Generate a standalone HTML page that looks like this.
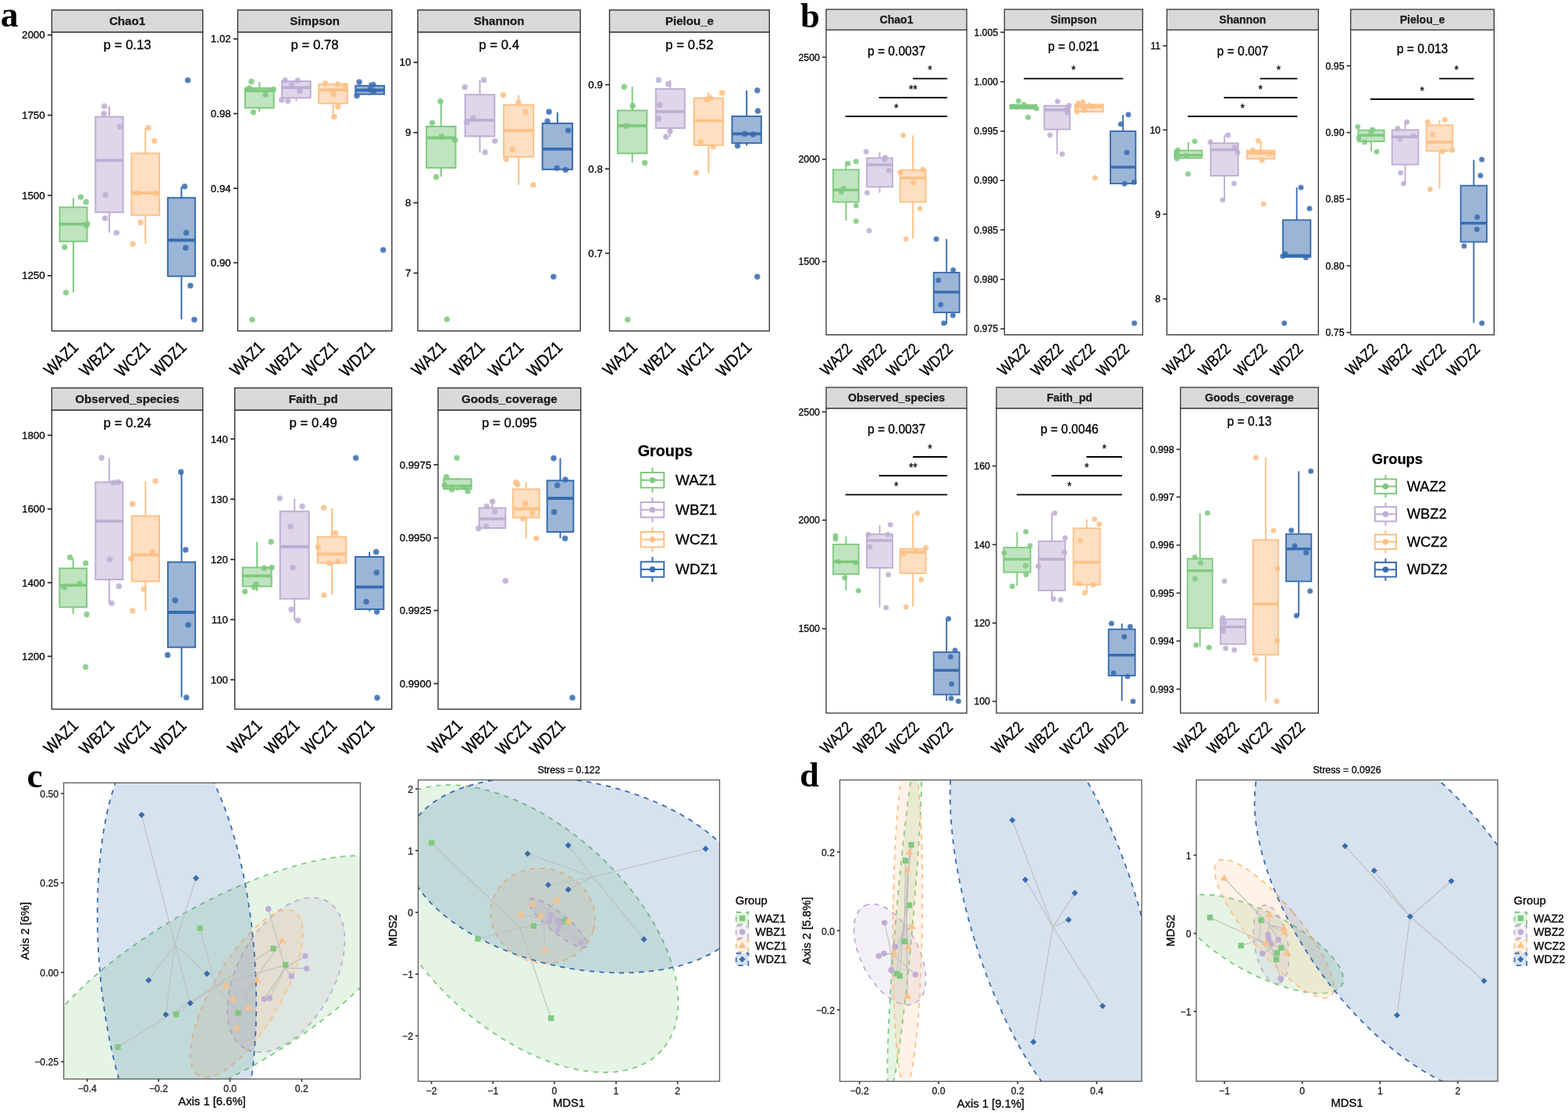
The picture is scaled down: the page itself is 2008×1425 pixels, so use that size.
<!DOCTYPE html>
<html lang="en">
<head>
<meta charset="utf-8">
<title>Alpha and beta diversity</title>
<style>
html,body{margin:0;padding:0;background:#fff;}
body{width:2008px;height:1425px;overflow:hidden;}
svg{display:block;}
text{white-space:pre;}
</style>
</head>
<body>
<svg width="2008" height="1425" viewBox="0 0 2008 1425" font-family='"Liberation Sans", "DejaVu Sans", sans-serif'>
<rect width="2008" height="1425" fill="#fff"/>
<g>
<rect x="66.35" y="41.09" width="193.32" height="382.59" fill="#fff" stroke="none"/>
<line x1="93.96" y1="253.26" x2="93.96" y2="265.39" stroke="#7FC97F" stroke-width="2"/>
<line x1="93.96" y1="309.17" x2="93.96" y2="374.51" stroke="#7FC97F" stroke-width="2"/>
<rect x="76.45" y="265.39" width="35.03" height="43.78" fill="#7FC97F" fill-opacity="0.5" stroke="#7FC97F" stroke-width="2"/>
<line x1="76.45" y1="286.94" x2="111.48" y2="286.94" stroke="#7FC97F" stroke-width="3.8"/>
<line x1="139.94" y1="136.06" x2="139.94" y2="149.53" stroke="#BEAED4" stroke-width="2"/>
<line x1="139.94" y1="271.79" x2="139.94" y2="297.72" stroke="#BEAED4" stroke-width="2"/>
<rect x="122.25" y="149.53" width="35.36" height="122.25" fill="#BEAED4" fill-opacity="0.5" stroke="#BEAED4" stroke-width="2"/>
<line x1="122.25" y1="205.44" x2="157.62" y2="205.44" stroke="#BEAED4" stroke-width="3.8"/>
<line x1="186.24" y1="163.68" x2="186.24" y2="196.35" stroke="#FDC086" stroke-width="2"/>
<line x1="186.24" y1="275.49" x2="186.24" y2="311.87" stroke="#FDC086" stroke-width="2"/>
<rect x="168.39" y="196.35" width="35.7" height="79.15" fill="#FDC086" fill-opacity="0.5" stroke="#FDC086" stroke-width="2"/>
<line x1="168.39" y1="247.2" x2="204.09" y2="247.2" stroke="#FDC086" stroke-width="3.8"/>
<line x1="232.38" y1="239.12" x2="232.38" y2="253.26" stroke="#386CB0" stroke-width="2"/>
<line x1="232.38" y1="353.63" x2="232.38" y2="408.86" stroke="#386CB0" stroke-width="2"/>
<rect x="214.87" y="253.26" width="35.03" height="100.36" fill="#386CB0" fill-opacity="0.5" stroke="#386CB0" stroke-width="2"/>
<line x1="214.87" y1="307.49" x2="249.9" y2="307.49" stroke="#386CB0" stroke-width="3.8"/>
<circle cx="103.39" cy="252.25" r="3.8" fill="#7FC97F" fill-opacity="0.8"/><circle cx="103.39" cy="252.25" r="2.2" fill="#7FC97F" fill-opacity="0.55"/>
<circle cx="110.13" cy="258.65" r="3.8" fill="#7FC97F" fill-opacity="0.8"/><circle cx="110.13" cy="258.65" r="2.2" fill="#7FC97F" fill-opacity="0.55"/>
<circle cx="111.81" cy="286.61" r="3.8" fill="#7FC97F" fill-opacity="0.8"/><circle cx="111.81" cy="286.61" r="2.2" fill="#7FC97F" fill-opacity="0.55"/>
<circle cx="110.47" cy="288.63" r="3.8" fill="#7FC97F" fill-opacity="0.8"/><circle cx="110.47" cy="288.63" r="2.2" fill="#7FC97F" fill-opacity="0.55"/>
<circle cx="82.85" cy="316.58" r="3.8" fill="#7FC97F" fill-opacity="0.8"/><circle cx="82.85" cy="316.58" r="2.2" fill="#7FC97F" fill-opacity="0.55"/>
<circle cx="84.53" cy="374.51" r="3.8" fill="#7FC97F" fill-opacity="0.8"/><circle cx="84.53" cy="374.51" r="2.2" fill="#7FC97F" fill-opacity="0.55"/>
<circle cx="133.7" cy="136.06" r="3.8" fill="#BEAED4" fill-opacity="0.8"/><circle cx="133.7" cy="136.06" r="2.2" fill="#BEAED4" fill-opacity="0.55"/>
<circle cx="133.03" cy="145.49" r="3.8" fill="#BEAED4" fill-opacity="0.8"/><circle cx="133.03" cy="145.49" r="2.2" fill="#BEAED4" fill-opacity="0.55"/>
<circle cx="153.24" cy="162.33" r="3.8" fill="#BEAED4" fill-opacity="0.8"/><circle cx="153.24" cy="162.33" r="2.2" fill="#BEAED4" fill-opacity="0.55"/>
<circle cx="135.05" cy="249.56" r="3.8" fill="#BEAED4" fill-opacity="0.8"/><circle cx="135.05" cy="249.56" r="2.2" fill="#BEAED4" fill-opacity="0.55"/>
<circle cx="134.38" cy="279.53" r="3.8" fill="#BEAED4" fill-opacity="0.8"/><circle cx="134.38" cy="279.53" r="2.2" fill="#BEAED4" fill-opacity="0.55"/>
<circle cx="149.2" cy="298.06" r="3.8" fill="#BEAED4" fill-opacity="0.8"/><circle cx="149.2" cy="298.06" r="2.2" fill="#BEAED4" fill-opacity="0.55"/>
<circle cx="189.95" cy="163.68" r="3.8" fill="#FDC086" fill-opacity="0.8"/><circle cx="189.95" cy="163.68" r="2.2" fill="#FDC086" fill-opacity="0.55"/>
<circle cx="197.69" cy="180.18" r="3.8" fill="#FDC086" fill-opacity="0.8"/><circle cx="197.69" cy="180.18" r="2.2" fill="#FDC086" fill-opacity="0.55"/>
<circle cx="175.47" cy="247.2" r="3.8" fill="#FDC086" fill-opacity="0.8"/><circle cx="175.47" cy="247.2" r="2.2" fill="#FDC086" fill-opacity="0.55"/>
<circle cx="199.04" cy="247.54" r="3.8" fill="#FDC086" fill-opacity="0.8"/><circle cx="199.04" cy="247.54" r="2.2" fill="#FDC086" fill-opacity="0.55"/>
<circle cx="180.18" cy="284.92" r="3.8" fill="#FDC086" fill-opacity="0.8"/><circle cx="180.18" cy="284.92" r="2.2" fill="#FDC086" fill-opacity="0.55"/>
<circle cx="170.08" cy="312.2" r="3.8" fill="#FDC086" fill-opacity="0.8"/><circle cx="170.08" cy="312.2" r="2.2" fill="#FDC086" fill-opacity="0.55"/>
<circle cx="240.47" cy="102.72" r="3.8" fill="#386CB0" fill-opacity="0.8"/><circle cx="240.47" cy="102.72" r="2.2" fill="#386CB0" fill-opacity="0.55"/>
<circle cx="236.42" cy="238.78" r="3.8" fill="#386CB0" fill-opacity="0.8"/><circle cx="236.42" cy="238.78" r="2.2" fill="#386CB0" fill-opacity="0.55"/>
<circle cx="238.45" cy="298.06" r="3.8" fill="#386CB0" fill-opacity="0.8"/><circle cx="238.45" cy="298.06" r="2.2" fill="#386CB0" fill-opacity="0.55"/>
<circle cx="237.77" cy="317.25" r="3.8" fill="#386CB0" fill-opacity="0.8"/><circle cx="237.77" cy="317.25" r="2.2" fill="#386CB0" fill-opacity="0.55"/>
<circle cx="243.83" cy="365.75" r="3.8" fill="#386CB0" fill-opacity="0.8"/><circle cx="243.83" cy="365.75" r="2.2" fill="#386CB0" fill-opacity="0.55"/>
<circle cx="248.89" cy="409.2" r="3.8" fill="#386CB0" fill-opacity="0.8"/><circle cx="248.89" cy="409.2" r="2.2" fill="#386CB0" fill-opacity="0.55"/>
<text x="163.01" y="63.32" font-size="16.8" stroke="#000" stroke-width="0.3" text-anchor="middle">p = 0.13</text>
<rect x="66.35" y="41.09" width="193.32" height="382.59" fill="none" stroke="#333" stroke-width="1.4"/>
<rect x="66.35" y="12.8" width="193.32" height="28.29" fill="#D9D9D9" stroke="#333" stroke-width="1.4"/>
<text x="163.01" y="32.24" font-size="15.1" stroke="#1A1A1A" stroke-width="0.25" text-anchor="middle" font-weight="bold" fill="#1A1A1A">Chao1</text>
<line x1="60.85" y1="44.79" x2="66.35" y2="44.79" stroke="#2A2A2A" stroke-width="1.7"/>
<text x="57.65" y="49.29" font-size="13.3" stroke="#000" stroke-width="0.3" text-anchor="end">2000</text>
<line x1="60.85" y1="147.51" x2="66.35" y2="147.51" stroke="#2A2A2A" stroke-width="1.7"/>
<text x="57.65" y="152.01" font-size="13.3" stroke="#000" stroke-width="0.3" text-anchor="end">1750</text>
<line x1="60.85" y1="250.23" x2="66.35" y2="250.23" stroke="#2A2A2A" stroke-width="1.7"/>
<text x="57.65" y="254.73" font-size="13.3" stroke="#000" stroke-width="0.3" text-anchor="end">1500</text>
<line x1="60.85" y1="352.95" x2="66.35" y2="352.95" stroke="#2A2A2A" stroke-width="1.7"/>
<text x="57.65" y="357.45" font-size="13.3" stroke="#000" stroke-width="0.3" text-anchor="end">1250</text>
<text transform="translate(101.66 446.08) rotate(-45) scale(1 1.17)" font-size="18.8" stroke="#000" stroke-width="0.3" text-anchor="end">WAZ1</text>
<text transform="translate(147.64 446.08) rotate(-45) scale(1 1.17)" font-size="18.8" stroke="#000" stroke-width="0.3" text-anchor="end">WBZ1</text>
<text transform="translate(193.94 446.08) rotate(-45) scale(1 1.17)" font-size="18.8" stroke="#000" stroke-width="0.3" text-anchor="end">WCZ1</text>
<text transform="translate(240.08 446.08) rotate(-45) scale(1 1.17)" font-size="18.8" stroke="#000" stroke-width="0.3" text-anchor="end">WDZ1</text>
</g>
<g>
<rect x="304.46" y="41.09" width="197.36" height="382.59" fill="#fff" stroke="none"/>
<line x1="332.24" y1="105.08" x2="332.24" y2="112.82" stroke="#7FC97F" stroke-width="2"/>
<line x1="332.24" y1="138.08" x2="332.24" y2="143.13" stroke="#7FC97F" stroke-width="2"/>
<rect x="313.89" y="112.82" width="36.71" height="25.26" fill="#7FC97F" fill-opacity="0.5" stroke="#7FC97F" stroke-width="2"/>
<line x1="313.89" y1="116.19" x2="350.6" y2="116.19" stroke="#7FC97F" stroke-width="3.8"/>
<line x1="379.39" y1="125.28" x2="379.39" y2="129.33" stroke="#BEAED4" stroke-width="2"/>
<rect x="361.04" y="104.07" width="36.71" height="21.22" fill="#BEAED4" fill-opacity="0.5" stroke="#BEAED4" stroke-width="2"/>
<line x1="361.04" y1="112.15" x2="397.75" y2="112.15" stroke="#BEAED4" stroke-width="3.8"/>
<line x1="426.54" y1="132.36" x2="426.54" y2="149.87" stroke="#FDC086" stroke-width="2"/>
<rect x="408.19" y="107.77" width="36.71" height="24.59" fill="#FDC086" fill-opacity="0.5" stroke="#FDC086" stroke-width="2"/>
<line x1="408.19" y1="115.18" x2="444.9" y2="115.18" stroke="#FDC086" stroke-width="3.8"/>
<line x1="473.69" y1="105.75" x2="473.69" y2="109.79" stroke="#386CB0" stroke-width="2"/>
<line x1="473.69" y1="120.57" x2="473.69" y2="121.92" stroke="#386CB0" stroke-width="2"/>
<rect x="455.34" y="109.79" width="36.71" height="10.78" fill="#386CB0" fill-opacity="0.5" stroke="#386CB0" stroke-width="2"/>
<line x1="455.34" y1="115.52" x2="492.05" y2="115.52" stroke="#386CB0" stroke-width="3.8"/>
<circle cx="321.97" cy="104.4" r="3.8" fill="#7FC97F" fill-opacity="0.8"/><circle cx="321.97" cy="104.4" r="2.2" fill="#7FC97F" fill-opacity="0.55"/>
<circle cx="319.27" cy="112.82" r="3.8" fill="#7FC97F" fill-opacity="0.8"/><circle cx="319.27" cy="112.82" r="2.2" fill="#7FC97F" fill-opacity="0.55"/>
<circle cx="350.26" cy="114.51" r="3.8" fill="#7FC97F" fill-opacity="0.8"/><circle cx="350.26" cy="114.51" r="2.2" fill="#7FC97F" fill-opacity="0.55"/>
<circle cx="339.82" cy="121.24" r="3.8" fill="#7FC97F" fill-opacity="0.8"/><circle cx="339.82" cy="121.24" r="2.2" fill="#7FC97F" fill-opacity="0.55"/>
<circle cx="324.33" cy="143.81" r="3.8" fill="#7FC97F" fill-opacity="0.8"/><circle cx="324.33" cy="143.81" r="2.2" fill="#7FC97F" fill-opacity="0.55"/>
<circle cx="322.98" cy="409.2" r="3.8" fill="#7FC97F" fill-opacity="0.8"/><circle cx="322.98" cy="409.2" r="2.2" fill="#7FC97F" fill-opacity="0.55"/>
<circle cx="365.08" cy="102.72" r="3.8" fill="#BEAED4" fill-opacity="0.8"/><circle cx="365.08" cy="102.72" r="2.2" fill="#BEAED4" fill-opacity="0.55"/>
<circle cx="381.24" cy="103.06" r="3.8" fill="#BEAED4" fill-opacity="0.8"/><circle cx="381.24" cy="103.06" r="2.2" fill="#BEAED4" fill-opacity="0.55"/>
<circle cx="373.83" cy="108.45" r="3.8" fill="#BEAED4" fill-opacity="0.8"/><circle cx="373.83" cy="108.45" r="2.2" fill="#BEAED4" fill-opacity="0.55"/>
<circle cx="383.94" cy="116.53" r="3.8" fill="#BEAED4" fill-opacity="0.8"/><circle cx="383.94" cy="116.53" r="2.2" fill="#BEAED4" fill-opacity="0.55"/>
<circle cx="360.7" cy="127.98" r="3.8" fill="#BEAED4" fill-opacity="0.8"/><circle cx="360.7" cy="127.98" r="2.2" fill="#BEAED4" fill-opacity="0.55"/>
<circle cx="368.78" cy="129.33" r="3.8" fill="#BEAED4" fill-opacity="0.8"/><circle cx="368.78" cy="129.33" r="2.2" fill="#BEAED4" fill-opacity="0.55"/>
<circle cx="416.61" cy="106.76" r="3.8" fill="#FDC086" fill-opacity="0.8"/><circle cx="416.61" cy="106.76" r="2.2" fill="#FDC086" fill-opacity="0.55"/>
<circle cx="432.77" cy="107.77" r="3.8" fill="#FDC086" fill-opacity="0.8"/><circle cx="432.77" cy="107.77" r="2.2" fill="#FDC086" fill-opacity="0.55"/>
<circle cx="441.53" cy="109.46" r="3.8" fill="#FDC086" fill-opacity="0.8"/><circle cx="441.53" cy="109.46" r="2.2" fill="#FDC086" fill-opacity="0.55"/>
<circle cx="427.05" cy="120.57" r="3.8" fill="#FDC086" fill-opacity="0.8"/><circle cx="427.05" cy="120.57" r="2.2" fill="#FDC086" fill-opacity="0.55"/>
<circle cx="432.77" cy="136.4" r="3.8" fill="#FDC086" fill-opacity="0.8"/><circle cx="432.77" cy="136.4" r="2.2" fill="#FDC086" fill-opacity="0.55"/>
<circle cx="428.06" cy="149.53" r="3.8" fill="#FDC086" fill-opacity="0.8"/><circle cx="428.06" cy="149.53" r="2.2" fill="#FDC086" fill-opacity="0.55"/>
<circle cx="460.05" cy="105.08" r="3.8" fill="#386CB0" fill-opacity="0.8"/><circle cx="460.05" cy="105.08" r="2.2" fill="#386CB0" fill-opacity="0.55"/>
<circle cx="477.9" cy="108.45" r="3.8" fill="#386CB0" fill-opacity="0.8"/><circle cx="477.9" cy="108.45" r="2.2" fill="#386CB0" fill-opacity="0.55"/>
<circle cx="478.58" cy="116.87" r="3.8" fill="#386CB0" fill-opacity="0.8"/><circle cx="478.58" cy="116.87" r="2.2" fill="#386CB0" fill-opacity="0.55"/>
<circle cx="457.02" cy="122.59" r="3.8" fill="#386CB0" fill-opacity="0.8"/><circle cx="457.02" cy="122.59" r="2.2" fill="#386CB0" fill-opacity="0.55"/>
<circle cx="473.86" cy="114.51" r="3.8" fill="#386CB0" fill-opacity="0.8"/><circle cx="473.86" cy="114.51" r="2.2" fill="#386CB0" fill-opacity="0.55"/>
<circle cx="490.7" cy="319.95" r="3.8" fill="#386CB0" fill-opacity="0.8"/><circle cx="490.7" cy="319.95" r="2.2" fill="#386CB0" fill-opacity="0.55"/>
<text x="403.13" y="63.32" font-size="16.8" stroke="#000" stroke-width="0.3" text-anchor="middle">p = 0.78</text>
<rect x="304.46" y="41.09" width="197.36" height="382.59" fill="none" stroke="#333" stroke-width="1.4"/>
<rect x="304.46" y="12.8" width="197.36" height="28.29" fill="#D9D9D9" stroke="#333" stroke-width="1.4"/>
<text x="403.13" y="32.24" font-size="15.1" stroke="#1A1A1A" stroke-width="0.25" text-anchor="middle" font-weight="bold" fill="#1A1A1A">Simpson</text>
<line x1="298.96" y1="49.84" x2="304.46" y2="49.84" stroke="#2A2A2A" stroke-width="1.7"/>
<text x="295.76" y="54.34" font-size="13.3" stroke="#000" stroke-width="0.3" text-anchor="end">1.02</text>
<line x1="298.96" y1="145.49" x2="304.46" y2="145.49" stroke="#2A2A2A" stroke-width="1.7"/>
<text x="295.76" y="149.99" font-size="13.3" stroke="#000" stroke-width="0.3" text-anchor="end">0.98</text>
<line x1="298.96" y1="241.14" x2="304.46" y2="241.14" stroke="#2A2A2A" stroke-width="1.7"/>
<text x="295.76" y="245.64" font-size="13.3" stroke="#000" stroke-width="0.3" text-anchor="end">0.94</text>
<line x1="298.96" y1="336.45" x2="304.46" y2="336.45" stroke="#2A2A2A" stroke-width="1.7"/>
<text x="295.76" y="340.95" font-size="13.3" stroke="#000" stroke-width="0.3" text-anchor="end">0.90</text>
<text transform="translate(339.94 446.08) rotate(-45) scale(1 1.17)" font-size="18.8" stroke="#000" stroke-width="0.3" text-anchor="end">WAZ1</text>
<text transform="translate(387.09 446.08) rotate(-45) scale(1 1.17)" font-size="18.8" stroke="#000" stroke-width="0.3" text-anchor="end">WBZ1</text>
<text transform="translate(434.24 446.08) rotate(-45) scale(1 1.17)" font-size="18.8" stroke="#000" stroke-width="0.3" text-anchor="end">WCZ1</text>
<text transform="translate(481.39 446.08) rotate(-45) scale(1 1.17)" font-size="18.8" stroke="#000" stroke-width="0.3" text-anchor="end">WDZ1</text>
</g>
<g>
<rect x="535.03" y="41.09" width="208.13" height="382.59" fill="#fff" stroke="none"/>
<line x1="564.83" y1="129.66" x2="564.83" y2="161.99" stroke="#7FC97F" stroke-width="2"/>
<line x1="564.83" y1="214.87" x2="564.83" y2="226.32" stroke="#7FC97F" stroke-width="2"/>
<rect x="546.14" y="161.99" width="37.38" height="52.88" fill="#7FC97F" fill-opacity="0.5" stroke="#7FC97F" stroke-width="2"/>
<line x1="546.14" y1="176.48" x2="583.52" y2="176.48" stroke="#7FC97F" stroke-width="3.8"/>
<line x1="614.51" y1="102.72" x2="614.51" y2="121.24" stroke="#BEAED4" stroke-width="2"/>
<line x1="614.51" y1="174.46" x2="614.51" y2="195.34" stroke="#BEAED4" stroke-width="2"/>
<rect x="595.65" y="121.24" width="37.72" height="53.21" fill="#BEAED4" fill-opacity="0.5" stroke="#BEAED4" stroke-width="2"/>
<line x1="595.65" y1="153.91" x2="633.37" y2="153.91" stroke="#BEAED4" stroke-width="3.8"/>
<line x1="664.18" y1="121.92" x2="664.18" y2="134.38" stroke="#FDC086" stroke-width="2"/>
<line x1="664.18" y1="200.73" x2="664.18" y2="236.76" stroke="#FDC086" stroke-width="2"/>
<rect x="645.16" y="134.38" width="38.06" height="66.35" fill="#FDC086" fill-opacity="0.5" stroke="#FDC086" stroke-width="2"/>
<line x1="645.16" y1="167.05" x2="683.21" y2="167.05" stroke="#FDC086" stroke-width="3.8"/>
<line x1="713.86" y1="143.81" x2="713.86" y2="157.95" stroke="#386CB0" stroke-width="2"/>
<rect x="694.66" y="157.95" width="38.39" height="58.94" fill="#386CB0" fill-opacity="0.5" stroke="#386CB0" stroke-width="2"/>
<line x1="694.66" y1="190.96" x2="733.06" y2="190.96" stroke="#386CB0" stroke-width="3.8"/>
<circle cx="563.99" cy="129.66" r="3.8" fill="#7FC97F" fill-opacity="0.8"/><circle cx="563.99" cy="129.66" r="2.2" fill="#7FC97F" fill-opacity="0.55"/>
<circle cx="553.55" cy="157.28" r="3.8" fill="#7FC97F" fill-opacity="0.8"/><circle cx="553.55" cy="157.28" r="2.2" fill="#7FC97F" fill-opacity="0.55"/>
<circle cx="565.34" cy="174.46" r="3.8" fill="#7FC97F" fill-opacity="0.8"/><circle cx="565.34" cy="174.46" r="2.2" fill="#7FC97F" fill-opacity="0.55"/>
<circle cx="582.85" cy="179.51" r="3.8" fill="#7FC97F" fill-opacity="0.8"/><circle cx="582.85" cy="179.51" r="2.2" fill="#7FC97F" fill-opacity="0.55"/>
<circle cx="558.6" cy="226.66" r="3.8" fill="#7FC97F" fill-opacity="0.8"/><circle cx="558.6" cy="226.66" r="2.2" fill="#7FC97F" fill-opacity="0.55"/>
<circle cx="572.41" cy="408.86" r="3.8" fill="#7FC97F" fill-opacity="0.8"/><circle cx="572.41" cy="408.86" r="2.2" fill="#7FC97F" fill-opacity="0.55"/>
<circle cx="619.56" cy="102.38" r="3.8" fill="#BEAED4" fill-opacity="0.8"/><circle cx="619.56" cy="102.38" r="2.2" fill="#BEAED4" fill-opacity="0.55"/>
<circle cx="595.31" cy="111.48" r="3.8" fill="#BEAED4" fill-opacity="0.8"/><circle cx="595.31" cy="111.48" r="2.2" fill="#BEAED4" fill-opacity="0.55"/>
<circle cx="605.75" cy="151.22" r="3.8" fill="#BEAED4" fill-opacity="0.8"/><circle cx="605.75" cy="151.22" r="2.2" fill="#BEAED4" fill-opacity="0.55"/>
<circle cx="597.67" cy="156.61" r="3.8" fill="#BEAED4" fill-opacity="0.8"/><circle cx="597.67" cy="156.61" r="2.2" fill="#BEAED4" fill-opacity="0.55"/>
<circle cx="633.7" cy="180.52" r="3.8" fill="#BEAED4" fill-opacity="0.8"/><circle cx="633.7" cy="180.52" r="2.2" fill="#BEAED4" fill-opacity="0.55"/>
<circle cx="621.24" cy="195" r="3.8" fill="#BEAED4" fill-opacity="0.8"/><circle cx="621.24" cy="195" r="2.2" fill="#BEAED4" fill-opacity="0.55"/>
<circle cx="644.48" cy="121.58" r="3.8" fill="#FDC086" fill-opacity="0.8"/><circle cx="644.48" cy="121.58" r="2.2" fill="#FDC086" fill-opacity="0.55"/>
<circle cx="664.02" cy="131.35" r="3.8" fill="#FDC086" fill-opacity="0.8"/><circle cx="664.02" cy="131.35" r="2.2" fill="#FDC086" fill-opacity="0.55"/>
<circle cx="672.77" cy="143.13" r="3.8" fill="#FDC086" fill-opacity="0.8"/><circle cx="672.77" cy="143.13" r="2.2" fill="#FDC086" fill-opacity="0.55"/>
<circle cx="656.27" cy="191.3" r="3.8" fill="#FDC086" fill-opacity="0.8"/><circle cx="656.27" cy="191.3" r="2.2" fill="#FDC086" fill-opacity="0.55"/>
<circle cx="648.19" cy="203.76" r="3.8" fill="#FDC086" fill-opacity="0.8"/><circle cx="648.19" cy="203.76" r="2.2" fill="#FDC086" fill-opacity="0.55"/>
<circle cx="682.88" cy="236.76" r="3.8" fill="#FDC086" fill-opacity="0.8"/><circle cx="682.88" cy="236.76" r="2.2" fill="#FDC086" fill-opacity="0.55"/>
<circle cx="703.08" cy="143.13" r="3.8" fill="#386CB0" fill-opacity="0.8"/><circle cx="703.08" cy="143.13" r="2.2" fill="#386CB0" fill-opacity="0.55"/>
<circle cx="701.06" cy="155.26" r="3.8" fill="#386CB0" fill-opacity="0.8"/><circle cx="701.06" cy="155.26" r="2.2" fill="#386CB0" fill-opacity="0.55"/>
<circle cx="727.67" cy="167.05" r="3.8" fill="#386CB0" fill-opacity="0.8"/><circle cx="727.67" cy="167.05" r="2.2" fill="#386CB0" fill-opacity="0.55"/>
<circle cx="713.19" cy="215.21" r="3.8" fill="#386CB0" fill-opacity="0.8"/><circle cx="713.19" cy="215.21" r="2.2" fill="#386CB0" fill-opacity="0.55"/>
<circle cx="724.3" cy="217.56" r="3.8" fill="#386CB0" fill-opacity="0.8"/><circle cx="724.3" cy="217.56" r="2.2" fill="#386CB0" fill-opacity="0.55"/>
<circle cx="708.81" cy="354.3" r="3.8" fill="#386CB0" fill-opacity="0.8"/><circle cx="708.81" cy="354.3" r="2.2" fill="#386CB0" fill-opacity="0.55"/>
<text x="639.09" y="63.32" font-size="16.8" stroke="#000" stroke-width="0.3" text-anchor="middle">p = 0.4</text>
<rect x="535.03" y="41.09" width="208.13" height="382.59" fill="none" stroke="#333" stroke-width="1.4"/>
<rect x="535.03" y="12.8" width="208.13" height="28.29" fill="#D9D9D9" stroke="#333" stroke-width="1.4"/>
<text x="639.09" y="32.24" font-size="15.1" stroke="#1A1A1A" stroke-width="0.25" text-anchor="middle" font-weight="bold" fill="#1A1A1A">Shannon</text>
<line x1="529.53" y1="79.82" x2="535.03" y2="79.82" stroke="#2A2A2A" stroke-width="1.7"/>
<text x="526.33" y="84.32" font-size="13.3" stroke="#000" stroke-width="0.3" text-anchor="end">10</text>
<line x1="529.53" y1="169.74" x2="535.03" y2="169.74" stroke="#2A2A2A" stroke-width="1.7"/>
<text x="526.33" y="174.24" font-size="13.3" stroke="#000" stroke-width="0.3" text-anchor="end">9</text>
<line x1="529.53" y1="259.66" x2="535.03" y2="259.66" stroke="#2A2A2A" stroke-width="1.7"/>
<text x="526.33" y="264.16" font-size="13.3" stroke="#000" stroke-width="0.3" text-anchor="end">8</text>
<line x1="529.53" y1="349.59" x2="535.03" y2="349.59" stroke="#2A2A2A" stroke-width="1.7"/>
<text x="526.33" y="354.09" font-size="13.3" stroke="#000" stroke-width="0.3" text-anchor="end">7</text>
<text transform="translate(572.53 446.08) rotate(-45) scale(1 1.17)" font-size="18.8" stroke="#000" stroke-width="0.3" text-anchor="end">WAZ1</text>
<text transform="translate(622.21 446.08) rotate(-45) scale(1 1.17)" font-size="18.8" stroke="#000" stroke-width="0.3" text-anchor="end">WBZ1</text>
<text transform="translate(671.88 446.08) rotate(-45) scale(1 1.17)" font-size="18.8" stroke="#000" stroke-width="0.3" text-anchor="end">WCZ1</text>
<text transform="translate(721.56 446.08) rotate(-45) scale(1 1.17)" font-size="18.8" stroke="#000" stroke-width="0.3" text-anchor="end">WDZ1</text>
</g>
<g>
<rect x="780.54" y="41.09" width="204.77" height="382.59" fill="#fff" stroke="none"/>
<line x1="809.68" y1="111.14" x2="809.68" y2="141.45" stroke="#7FC97F" stroke-width="2"/>
<line x1="809.68" y1="196.35" x2="809.68" y2="208.13" stroke="#7FC97F" stroke-width="2"/>
<rect x="790.98" y="141.45" width="37.38" height="54.9" fill="#7FC97F" fill-opacity="0.5" stroke="#7FC97F" stroke-width="2"/>
<line x1="790.98" y1="160.98" x2="828.37" y2="160.98" stroke="#7FC97F" stroke-width="3.8"/>
<line x1="858.34" y1="102.72" x2="858.34" y2="113.83" stroke="#BEAED4" stroke-width="2"/>
<line x1="858.34" y1="164.02" x2="858.34" y2="175.13" stroke="#BEAED4" stroke-width="2"/>
<rect x="839.82" y="113.83" width="37.05" height="50.18" fill="#BEAED4" fill-opacity="0.5" stroke="#BEAED4" stroke-width="2"/>
<line x1="839.82" y1="142.8" x2="876.87" y2="142.8" stroke="#BEAED4" stroke-width="3.8"/>
<line x1="907.34" y1="118.89" x2="907.34" y2="125.62" stroke="#FDC086" stroke-width="2"/>
<line x1="907.34" y1="185.91" x2="907.34" y2="221.27" stroke="#FDC086" stroke-width="2"/>
<rect x="888.65" y="125.62" width="37.38" height="60.28" fill="#FDC086" fill-opacity="0.5" stroke="#FDC086" stroke-width="2"/>
<line x1="888.65" y1="154.59" x2="926.04" y2="154.59" stroke="#FDC086" stroke-width="3.8"/>
<line x1="956.18" y1="115.85" x2="956.18" y2="148.86" stroke="#386CB0" stroke-width="2"/>
<line x1="956.18" y1="183.21" x2="956.18" y2="186.58" stroke="#386CB0" stroke-width="2"/>
<rect x="937.49" y="148.86" width="37.38" height="34.35" fill="#386CB0" fill-opacity="0.5" stroke="#386CB0" stroke-width="2"/>
<line x1="937.49" y1="171.42" x2="974.87" y2="171.42" stroke="#386CB0" stroke-width="3.8"/>
<circle cx="799.4" cy="111.14" r="3.8" fill="#7FC97F" fill-opacity="0.8"/><circle cx="799.4" cy="111.14" r="2.2" fill="#7FC97F" fill-opacity="0.55"/>
<circle cx="810.18" cy="135.39" r="3.8" fill="#7FC97F" fill-opacity="0.8"/><circle cx="810.18" cy="135.39" r="2.2" fill="#7FC97F" fill-opacity="0.55"/>
<circle cx="802.44" cy="161.32" r="3.8" fill="#7FC97F" fill-opacity="0.8"/><circle cx="802.44" cy="161.32" r="2.2" fill="#7FC97F" fill-opacity="0.55"/>
<circle cx="825.67" cy="208.47" r="3.8" fill="#7FC97F" fill-opacity="0.8"/><circle cx="825.67" cy="208.47" r="2.2" fill="#7FC97F" fill-opacity="0.55"/>
<circle cx="803.78" cy="409.2" r="3.8" fill="#7FC97F" fill-opacity="0.8"/><circle cx="803.78" cy="409.2" r="2.2" fill="#7FC97F" fill-opacity="0.55"/>
<circle cx="843.52" cy="102.38" r="3.8" fill="#BEAED4" fill-opacity="0.8"/><circle cx="843.52" cy="102.38" r="2.2" fill="#BEAED4" fill-opacity="0.55"/>
<circle cx="855.65" cy="107.44" r="3.8" fill="#BEAED4" fill-opacity="0.8"/><circle cx="855.65" cy="107.44" r="2.2" fill="#BEAED4" fill-opacity="0.55"/>
<circle cx="844.87" cy="134.38" r="3.8" fill="#BEAED4" fill-opacity="0.8"/><circle cx="844.87" cy="134.38" r="2.2" fill="#BEAED4" fill-opacity="0.55"/>
<circle cx="843.19" cy="151.89" r="3.8" fill="#BEAED4" fill-opacity="0.8"/><circle cx="843.19" cy="151.89" r="2.2" fill="#BEAED4" fill-opacity="0.55"/>
<circle cx="858.01" cy="168.06" r="3.8" fill="#BEAED4" fill-opacity="0.8"/><circle cx="858.01" cy="168.06" r="2.2" fill="#BEAED4" fill-opacity="0.55"/>
<circle cx="852.95" cy="175.13" r="3.8" fill="#BEAED4" fill-opacity="0.8"/><circle cx="852.95" cy="175.13" r="2.2" fill="#BEAED4" fill-opacity="0.55"/>
<circle cx="924.69" cy="118.89" r="3.8" fill="#FDC086" fill-opacity="0.8"/><circle cx="924.69" cy="118.89" r="2.2" fill="#FDC086" fill-opacity="0.55"/>
<circle cx="909.53" cy="125.62" r="3.8" fill="#FDC086" fill-opacity="0.8"/><circle cx="909.53" cy="125.62" r="2.2" fill="#FDC086" fill-opacity="0.55"/>
<circle cx="905.16" cy="127.31" r="3.8" fill="#FDC086" fill-opacity="0.8"/><circle cx="905.16" cy="127.31" r="2.2" fill="#FDC086" fill-opacity="0.55"/>
<circle cx="897.41" cy="181.87" r="3.8" fill="#FDC086" fill-opacity="0.8"/><circle cx="897.41" cy="181.87" r="2.2" fill="#FDC086" fill-opacity="0.55"/>
<circle cx="913.24" cy="187.93" r="3.8" fill="#FDC086" fill-opacity="0.8"/><circle cx="913.24" cy="187.93" r="2.2" fill="#FDC086" fill-opacity="0.55"/>
<circle cx="891.68" cy="221.27" r="3.8" fill="#FDC086" fill-opacity="0.8"/><circle cx="891.68" cy="221.27" r="2.2" fill="#FDC086" fill-opacity="0.55"/>
<circle cx="969.82" cy="115.85" r="3.8" fill="#386CB0" fill-opacity="0.8"/><circle cx="969.82" cy="115.85" r="2.2" fill="#386CB0" fill-opacity="0.55"/>
<circle cx="970.49" cy="142.12" r="3.8" fill="#386CB0" fill-opacity="0.8"/><circle cx="970.49" cy="142.12" r="2.2" fill="#386CB0" fill-opacity="0.55"/>
<circle cx="953.99" cy="171.42" r="3.8" fill="#386CB0" fill-opacity="0.8"/><circle cx="953.99" cy="171.42" r="2.2" fill="#386CB0" fill-opacity="0.55"/>
<circle cx="964.43" cy="172.1" r="3.8" fill="#386CB0" fill-opacity="0.8"/><circle cx="964.43" cy="172.1" r="2.2" fill="#386CB0" fill-opacity="0.55"/>
<circle cx="944.56" cy="186.58" r="3.8" fill="#386CB0" fill-opacity="0.8"/><circle cx="944.56" cy="186.58" r="2.2" fill="#386CB0" fill-opacity="0.55"/>
<circle cx="969.82" cy="354.3" r="3.8" fill="#386CB0" fill-opacity="0.8"/><circle cx="969.82" cy="354.3" r="2.2" fill="#386CB0" fill-opacity="0.55"/>
<text x="882.93" y="63.32" font-size="16.8" stroke="#000" stroke-width="0.3" text-anchor="middle">p = 0.52</text>
<rect x="780.54" y="41.09" width="204.77" height="382.59" fill="none" stroke="#333" stroke-width="1.4"/>
<rect x="780.54" y="12.8" width="204.77" height="28.29" fill="#D9D9D9" stroke="#333" stroke-width="1.4"/>
<text x="882.93" y="32.24" font-size="15.1" stroke="#1A1A1A" stroke-width="0.25" text-anchor="middle" font-weight="bold" fill="#1A1A1A">Pielou_e</text>
<line x1="775.04" y1="108.45" x2="780.54" y2="108.45" stroke="#2A2A2A" stroke-width="1.7"/>
<text x="771.84" y="112.95" font-size="13.3" stroke="#000" stroke-width="0.3" text-anchor="end">0.9</text>
<line x1="775.04" y1="216.22" x2="780.54" y2="216.22" stroke="#2A2A2A" stroke-width="1.7"/>
<text x="771.84" y="220.72" font-size="13.3" stroke="#000" stroke-width="0.3" text-anchor="end">0.8</text>
<line x1="775.04" y1="324.33" x2="780.54" y2="324.33" stroke="#2A2A2A" stroke-width="1.7"/>
<text x="771.84" y="328.83" font-size="13.3" stroke="#000" stroke-width="0.3" text-anchor="end">0.7</text>
<text transform="translate(817.38 446.08) rotate(-45) scale(1 1.17)" font-size="18.8" stroke="#000" stroke-width="0.3" text-anchor="end">WAZ1</text>
<text transform="translate(866.04 446.08) rotate(-45) scale(1 1.17)" font-size="18.8" stroke="#000" stroke-width="0.3" text-anchor="end">WBZ1</text>
<text transform="translate(915.04 446.08) rotate(-45) scale(1 1.17)" font-size="18.8" stroke="#000" stroke-width="0.3" text-anchor="end">WCZ1</text>
<text transform="translate(963.88 446.08) rotate(-45) scale(1 1.17)" font-size="18.8" stroke="#000" stroke-width="0.3" text-anchor="end">WDZ1</text>
</g>
<g>
<rect x="66.33" y="525" width="193.33" height="383" fill="#fff" stroke="none"/>
<line x1="93.67" y1="715" x2="93.67" y2="727.67" stroke="#7FC97F" stroke-width="2"/>
<line x1="93.67" y1="777.33" x2="93.67" y2="786" stroke="#7FC97F" stroke-width="2"/>
<rect x="76.33" y="727.67" width="34.67" height="49.67" fill="#7FC97F" fill-opacity="0.5" stroke="#7FC97F" stroke-width="2"/>
<line x1="76.33" y1="749.33" x2="111" y2="749.33" stroke="#7FC97F" stroke-width="3.8"/>
<line x1="139.83" y1="586.67" x2="139.83" y2="617.33" stroke="#BEAED4" stroke-width="2"/>
<line x1="139.83" y1="742" x2="139.83" y2="772.33" stroke="#BEAED4" stroke-width="2"/>
<rect x="122.33" y="617.33" width="35" height="124.67" fill="#BEAED4" fill-opacity="0.5" stroke="#BEAED4" stroke-width="2"/>
<line x1="122.33" y1="667.33" x2="157.33" y2="667.33" stroke="#BEAED4" stroke-width="3.8"/>
<line x1="186.33" y1="616" x2="186.33" y2="660.67" stroke="#FDC086" stroke-width="2"/>
<line x1="186.33" y1="744.33" x2="186.33" y2="782" stroke="#FDC086" stroke-width="2"/>
<rect x="168.67" y="660.67" width="35.33" height="83.67" fill="#FDC086" fill-opacity="0.5" stroke="#FDC086" stroke-width="2"/>
<line x1="168.67" y1="710.33" x2="204" y2="710.33" stroke="#FDC086" stroke-width="3.8"/>
<line x1="232.5" y1="604.33" x2="232.5" y2="719.67" stroke="#386CB0" stroke-width="2"/>
<line x1="232.5" y1="828.67" x2="232.5" y2="892.67" stroke="#386CB0" stroke-width="2"/>
<rect x="215" y="719.67" width="35" height="109" fill="#386CB0" fill-opacity="0.5" stroke="#386CB0" stroke-width="2"/>
<line x1="215" y1="784" x2="250" y2="784" stroke="#386CB0" stroke-width="3.8"/>
<circle cx="89.67" cy="713.67" r="3.8" fill="#7FC97F" fill-opacity="0.8"/><circle cx="89.67" cy="713.67" r="2.2" fill="#7FC97F" fill-opacity="0.55"/>
<circle cx="109.67" cy="721" r="3.8" fill="#7FC97F" fill-opacity="0.8"/><circle cx="109.67" cy="721" r="2.2" fill="#7FC97F" fill-opacity="0.55"/>
<circle cx="102" cy="747.33" r="3.8" fill="#7FC97F" fill-opacity="0.8"/><circle cx="102" cy="747.33" r="2.2" fill="#7FC97F" fill-opacity="0.55"/>
<circle cx="82.33" cy="752" r="3.8" fill="#7FC97F" fill-opacity="0.8"/><circle cx="82.33" cy="752" r="2.2" fill="#7FC97F" fill-opacity="0.55"/>
<circle cx="111" cy="786.67" r="3.8" fill="#7FC97F" fill-opacity="0.8"/><circle cx="111" cy="786.67" r="2.2" fill="#7FC97F" fill-opacity="0.55"/>
<circle cx="109.67" cy="854" r="3.8" fill="#7FC97F" fill-opacity="0.8"/><circle cx="109.67" cy="854" r="2.2" fill="#7FC97F" fill-opacity="0.55"/>
<circle cx="130" cy="586.33" r="3.8" fill="#BEAED4" fill-opacity="0.8"/><circle cx="130" cy="586.33" r="2.2" fill="#BEAED4" fill-opacity="0.55"/>
<circle cx="145" cy="618" r="3.8" fill="#BEAED4" fill-opacity="0.8"/><circle cx="145" cy="618" r="2.2" fill="#BEAED4" fill-opacity="0.55"/>
<circle cx="151.33" cy="617.33" r="3.8" fill="#BEAED4" fill-opacity="0.8"/><circle cx="151.33" cy="617.33" r="2.2" fill="#BEAED4" fill-opacity="0.55"/>
<circle cx="140.67" cy="716.33" r="3.8" fill="#BEAED4" fill-opacity="0.8"/><circle cx="140.67" cy="716.33" r="2.2" fill="#BEAED4" fill-opacity="0.55"/>
<circle cx="152.33" cy="750.67" r="3.8" fill="#BEAED4" fill-opacity="0.8"/><circle cx="152.33" cy="750.67" r="2.2" fill="#BEAED4" fill-opacity="0.55"/>
<circle cx="143" cy="772.33" r="3.8" fill="#BEAED4" fill-opacity="0.8"/><circle cx="143" cy="772.33" r="2.2" fill="#BEAED4" fill-opacity="0.55"/>
<circle cx="199" cy="616" r="3.8" fill="#FDC086" fill-opacity="0.8"/><circle cx="199" cy="616" r="2.2" fill="#FDC086" fill-opacity="0.55"/>
<circle cx="169.67" cy="645.33" r="3.8" fill="#FDC086" fill-opacity="0.8"/><circle cx="169.67" cy="645.33" r="2.2" fill="#FDC086" fill-opacity="0.55"/>
<circle cx="195.33" cy="706.67" r="3.8" fill="#FDC086" fill-opacity="0.8"/><circle cx="195.33" cy="706.67" r="2.2" fill="#FDC086" fill-opacity="0.55"/>
<circle cx="167.67" cy="715" r="3.8" fill="#FDC086" fill-opacity="0.8"/><circle cx="167.67" cy="715" r="2.2" fill="#FDC086" fill-opacity="0.55"/>
<circle cx="184" cy="754.33" r="3.8" fill="#FDC086" fill-opacity="0.8"/><circle cx="184" cy="754.33" r="2.2" fill="#FDC086" fill-opacity="0.55"/>
<circle cx="169.67" cy="782" r="3.8" fill="#FDC086" fill-opacity="0.8"/><circle cx="169.67" cy="782" r="2.2" fill="#FDC086" fill-opacity="0.55"/>
<circle cx="231.67" cy="604.33" r="3.8" fill="#386CB0" fill-opacity="0.8"/><circle cx="231.67" cy="604.33" r="2.2" fill="#386CB0" fill-opacity="0.55"/>
<circle cx="237.67" cy="704" r="3.8" fill="#386CB0" fill-opacity="0.8"/><circle cx="237.67" cy="704" r="2.2" fill="#386CB0" fill-opacity="0.55"/>
<circle cx="224.33" cy="768.67" r="3.8" fill="#386CB0" fill-opacity="0.8"/><circle cx="224.33" cy="768.67" r="2.2" fill="#386CB0" fill-opacity="0.55"/>
<circle cx="241" cy="800" r="3.8" fill="#386CB0" fill-opacity="0.8"/><circle cx="241" cy="800" r="2.2" fill="#386CB0" fill-opacity="0.55"/>
<circle cx="214.67" cy="838.67" r="3.8" fill="#386CB0" fill-opacity="0.8"/><circle cx="214.67" cy="838.67" r="2.2" fill="#386CB0" fill-opacity="0.55"/>
<circle cx="238.67" cy="893" r="3.8" fill="#386CB0" fill-opacity="0.8"/><circle cx="238.67" cy="893" r="2.2" fill="#386CB0" fill-opacity="0.55"/>
<text x="163" y="547" font-size="16.8" stroke="#000" stroke-width="0.3" text-anchor="middle">p = 0.24</text>
<rect x="66.33" y="525" width="193.33" height="383" fill="none" stroke="#333" stroke-width="1.4"/>
<rect x="66.33" y="496.67" width="193.33" height="28.33" fill="#D9D9D9" stroke="#333" stroke-width="1.4"/>
<text x="163" y="516.13" font-size="15.1" stroke="#1A1A1A" stroke-width="0.25" text-anchor="middle" font-weight="bold" fill="#1A1A1A">Observed_species</text>
<line x1="60.83" y1="557.33" x2="66.33" y2="557.33" stroke="#2A2A2A" stroke-width="1.7"/>
<text x="57.63" y="561.83" font-size="13.3" stroke="#000" stroke-width="0.3" text-anchor="end">1800</text>
<line x1="60.83" y1="651.67" x2="66.33" y2="651.67" stroke="#2A2A2A" stroke-width="1.7"/>
<text x="57.63" y="656.17" font-size="13.3" stroke="#000" stroke-width="0.3" text-anchor="end">1600</text>
<line x1="60.83" y1="746" x2="66.33" y2="746" stroke="#2A2A2A" stroke-width="1.7"/>
<text x="57.63" y="750.5" font-size="13.3" stroke="#000" stroke-width="0.3" text-anchor="end">1400</text>
<line x1="60.83" y1="840.33" x2="66.33" y2="840.33" stroke="#2A2A2A" stroke-width="1.7"/>
<text x="57.63" y="844.83" font-size="13.3" stroke="#000" stroke-width="0.3" text-anchor="end">1200</text>
<text transform="translate(101.37 930.4) rotate(-45) scale(1 1.17)" font-size="18.8" stroke="#000" stroke-width="0.3" text-anchor="end">WAZ1</text>
<text transform="translate(147.53 930.4) rotate(-45) scale(1 1.17)" font-size="18.8" stroke="#000" stroke-width="0.3" text-anchor="end">WBZ1</text>
<text transform="translate(194.03 930.4) rotate(-45) scale(1 1.17)" font-size="18.8" stroke="#000" stroke-width="0.3" text-anchor="end">WCZ1</text>
<text transform="translate(240.2 930.4) rotate(-45) scale(1 1.17)" font-size="18.8" stroke="#000" stroke-width="0.3" text-anchor="end">WDZ1</text>
</g>
<g>
<rect x="300.67" y="525" width="201" height="383" fill="#fff" stroke="none"/>
<line x1="329.17" y1="693.67" x2="329.17" y2="726.67" stroke="#7FC97F" stroke-width="2"/>
<line x1="329.17" y1="750.67" x2="329.17" y2="756.67" stroke="#7FC97F" stroke-width="2"/>
<rect x="310.67" y="726.67" width="37" height="24" fill="#7FC97F" fill-opacity="0.5" stroke="#7FC97F" stroke-width="2"/>
<line x1="310.67" y1="737.33" x2="347.67" y2="737.33" stroke="#7FC97F" stroke-width="3.8"/>
<line x1="377.17" y1="638.67" x2="377.17" y2="654.67" stroke="#BEAED4" stroke-width="2"/>
<line x1="377.17" y1="766.67" x2="377.17" y2="794.33" stroke="#BEAED4" stroke-width="2"/>
<rect x="358.67" y="654.67" width="37" height="112" fill="#BEAED4" fill-opacity="0.5" stroke="#BEAED4" stroke-width="2"/>
<line x1="358.67" y1="700" x2="395.67" y2="700" stroke="#BEAED4" stroke-width="3.8"/>
<line x1="425" y1="650.67" x2="425" y2="687.33" stroke="#FDC086" stroke-width="2"/>
<line x1="425" y1="720.67" x2="425" y2="761.67" stroke="#FDC086" stroke-width="2"/>
<rect x="406.67" y="687.33" width="36.67" height="33.33" fill="#FDC086" fill-opacity="0.5" stroke="#FDC086" stroke-width="2"/>
<line x1="406.67" y1="709.33" x2="443.33" y2="709.33" stroke="#FDC086" stroke-width="3.8"/>
<line x1="473.17" y1="706.67" x2="473.17" y2="713" stroke="#386CB0" stroke-width="2"/>
<line x1="473.17" y1="780" x2="473.17" y2="782.67" stroke="#386CB0" stroke-width="2"/>
<rect x="455" y="713" width="36.33" height="67" fill="#386CB0" fill-opacity="0.5" stroke="#386CB0" stroke-width="2"/>
<line x1="455" y1="751.67" x2="491.33" y2="751.67" stroke="#386CB0" stroke-width="3.8"/>
<circle cx="347" cy="693.67" r="3.8" fill="#7FC97F" fill-opacity="0.8"/><circle cx="347" cy="693.67" r="2.2" fill="#7FC97F" fill-opacity="0.55"/>
<circle cx="338.33" cy="727.33" r="3.8" fill="#7FC97F" fill-opacity="0.8"/><circle cx="338.33" cy="727.33" r="2.2" fill="#7FC97F" fill-opacity="0.55"/>
<circle cx="348" cy="726.67" r="3.8" fill="#7FC97F" fill-opacity="0.8"/><circle cx="348" cy="726.67" r="2.2" fill="#7FC97F" fill-opacity="0.55"/>
<circle cx="328" cy="748" r="3.8" fill="#7FC97F" fill-opacity="0.8"/><circle cx="328" cy="748" r="2.2" fill="#7FC97F" fill-opacity="0.55"/>
<circle cx="325.33" cy="751.67" r="3.8" fill="#7FC97F" fill-opacity="0.8"/><circle cx="325.33" cy="751.67" r="2.2" fill="#7FC97F" fill-opacity="0.55"/>
<circle cx="313.67" cy="757.33" r="3.8" fill="#7FC97F" fill-opacity="0.8"/><circle cx="313.67" cy="757.33" r="2.2" fill="#7FC97F" fill-opacity="0.55"/>
<circle cx="358.33" cy="638" r="3.8" fill="#BEAED4" fill-opacity="0.8"/><circle cx="358.33" cy="638" r="2.2" fill="#BEAED4" fill-opacity="0.55"/>
<circle cx="387" cy="648.33" r="3.8" fill="#BEAED4" fill-opacity="0.8"/><circle cx="387" cy="648.33" r="2.2" fill="#BEAED4" fill-opacity="0.55"/>
<circle cx="372" cy="674" r="3.8" fill="#BEAED4" fill-opacity="0.8"/><circle cx="372" cy="674" r="2.2" fill="#BEAED4" fill-opacity="0.55"/>
<circle cx="375" cy="726.67" r="3.8" fill="#BEAED4" fill-opacity="0.8"/><circle cx="375" cy="726.67" r="2.2" fill="#BEAED4" fill-opacity="0.55"/>
<circle cx="373" cy="780.33" r="3.8" fill="#BEAED4" fill-opacity="0.8"/><circle cx="373" cy="780.33" r="2.2" fill="#BEAED4" fill-opacity="0.55"/>
<circle cx="381.67" cy="794.33" r="3.8" fill="#BEAED4" fill-opacity="0.8"/><circle cx="381.67" cy="794.33" r="2.2" fill="#BEAED4" fill-opacity="0.55"/>
<circle cx="414.67" cy="650" r="3.8" fill="#FDC086" fill-opacity="0.8"/><circle cx="414.67" cy="650" r="2.2" fill="#FDC086" fill-opacity="0.55"/>
<circle cx="429.67" cy="682.67" r="3.8" fill="#FDC086" fill-opacity="0.8"/><circle cx="429.67" cy="682.67" r="2.2" fill="#FDC086" fill-opacity="0.55"/>
<circle cx="407.33" cy="700.33" r="3.8" fill="#FDC086" fill-opacity="0.8"/><circle cx="407.33" cy="700.33" r="2.2" fill="#FDC086" fill-opacity="0.55"/>
<circle cx="421.67" cy="721" r="3.8" fill="#FDC086" fill-opacity="0.8"/><circle cx="421.67" cy="721" r="2.2" fill="#FDC086" fill-opacity="0.55"/>
<circle cx="432.67" cy="719" r="3.8" fill="#FDC086" fill-opacity="0.8"/><circle cx="432.67" cy="719" r="2.2" fill="#FDC086" fill-opacity="0.55"/>
<circle cx="415" cy="762" r="3.8" fill="#FDC086" fill-opacity="0.8"/><circle cx="415" cy="762" r="2.2" fill="#FDC086" fill-opacity="0.55"/>
<circle cx="455.67" cy="586.33" r="3.8" fill="#386CB0" fill-opacity="0.8"/><circle cx="455.67" cy="586.33" r="2.2" fill="#386CB0" fill-opacity="0.55"/>
<circle cx="481.67" cy="706.67" r="3.8" fill="#386CB0" fill-opacity="0.8"/><circle cx="481.67" cy="706.67" r="2.2" fill="#386CB0" fill-opacity="0.55"/>
<circle cx="482.33" cy="733" r="3.8" fill="#386CB0" fill-opacity="0.8"/><circle cx="482.33" cy="733" r="2.2" fill="#386CB0" fill-opacity="0.55"/>
<circle cx="469" cy="770.33" r="3.8" fill="#386CB0" fill-opacity="0.8"/><circle cx="469" cy="770.33" r="2.2" fill="#386CB0" fill-opacity="0.55"/>
<circle cx="482.67" cy="783.33" r="3.8" fill="#386CB0" fill-opacity="0.8"/><circle cx="482.67" cy="783.33" r="2.2" fill="#386CB0" fill-opacity="0.55"/>
<circle cx="483" cy="893.33" r="3.8" fill="#386CB0" fill-opacity="0.8"/><circle cx="483" cy="893.33" r="2.2" fill="#386CB0" fill-opacity="0.55"/>
<text x="401.17" y="547" font-size="16.8" stroke="#000" stroke-width="0.3" text-anchor="middle">p = 0.49</text>
<rect x="300.67" y="525" width="201" height="383" fill="none" stroke="#333" stroke-width="1.4"/>
<rect x="300.67" y="496.67" width="201" height="28.33" fill="#D9D9D9" stroke="#333" stroke-width="1.4"/>
<text x="401.17" y="516.13" font-size="15.1" stroke="#1A1A1A" stroke-width="0.25" text-anchor="middle" font-weight="bold" fill="#1A1A1A">Faith_pd</text>
<line x1="295.17" y1="562" x2="300.67" y2="562" stroke="#2A2A2A" stroke-width="1.7"/>
<text x="291.97" y="566.5" font-size="13.3" stroke="#000" stroke-width="0.3" text-anchor="end">140</text>
<line x1="295.17" y1="639" x2="300.67" y2="639" stroke="#2A2A2A" stroke-width="1.7"/>
<text x="291.97" y="643.5" font-size="13.3" stroke="#000" stroke-width="0.3" text-anchor="end">130</text>
<line x1="295.17" y1="716.33" x2="300.67" y2="716.33" stroke="#2A2A2A" stroke-width="1.7"/>
<text x="291.97" y="720.83" font-size="13.3" stroke="#000" stroke-width="0.3" text-anchor="end">120</text>
<line x1="295.17" y1="793.33" x2="300.67" y2="793.33" stroke="#2A2A2A" stroke-width="1.7"/>
<text x="291.97" y="797.83" font-size="13.3" stroke="#000" stroke-width="0.3" text-anchor="end">110</text>
<line x1="295.17" y1="870.33" x2="300.67" y2="870.33" stroke="#2A2A2A" stroke-width="1.7"/>
<text x="291.97" y="874.83" font-size="13.3" stroke="#000" stroke-width="0.3" text-anchor="end">100</text>
<text transform="translate(336.87 930.4) rotate(-45) scale(1 1.17)" font-size="18.8" stroke="#000" stroke-width="0.3" text-anchor="end">WAZ1</text>
<text transform="translate(384.87 930.4) rotate(-45) scale(1 1.17)" font-size="18.8" stroke="#000" stroke-width="0.3" text-anchor="end">WBZ1</text>
<text transform="translate(432.7 930.4) rotate(-45) scale(1 1.17)" font-size="18.8" stroke="#000" stroke-width="0.3" text-anchor="end">WCZ1</text>
<text transform="translate(480.87 930.4) rotate(-45) scale(1 1.17)" font-size="18.8" stroke="#000" stroke-width="0.3" text-anchor="end">WDZ1</text>
</g>
<g>
<rect x="561" y="525" width="182.67" height="383" fill="#fff" stroke="none"/>
<line x1="586" y1="611.67" x2="586" y2="613.33" stroke="#7FC97F" stroke-width="2"/>
<line x1="586" y1="626" x2="586" y2="628.33" stroke="#7FC97F" stroke-width="2"/>
<rect x="568.33" y="613.33" width="35.33" height="12.67" fill="#7FC97F" fill-opacity="0.5" stroke="#7FC97F" stroke-width="2"/>
<line x1="568.33" y1="622.33" x2="603.67" y2="622.33" stroke="#7FC97F" stroke-width="3.8"/>
<line x1="630.5" y1="642.33" x2="630.5" y2="650.33" stroke="#BEAED4" stroke-width="2"/>
<rect x="613.67" y="650.33" width="33.67" height="25.67" fill="#BEAED4" fill-opacity="0.5" stroke="#BEAED4" stroke-width="2"/>
<line x1="613.67" y1="664.33" x2="647.33" y2="664.33" stroke="#BEAED4" stroke-width="3.8"/>
<line x1="673.83" y1="617.33" x2="673.83" y2="626.33" stroke="#FDC086" stroke-width="2"/>
<line x1="673.83" y1="662.67" x2="673.83" y2="689" stroke="#FDC086" stroke-width="2"/>
<rect x="657" y="626.33" width="33.67" height="36.33" fill="#FDC086" fill-opacity="0.5" stroke="#FDC086" stroke-width="2"/>
<line x1="657" y1="651.33" x2="690.67" y2="651.33" stroke="#FDC086" stroke-width="3.8"/>
<line x1="717.5" y1="586.67" x2="717.5" y2="615.33" stroke="#386CB0" stroke-width="2"/>
<line x1="717.5" y1="681" x2="717.5" y2="689" stroke="#386CB0" stroke-width="2"/>
<rect x="700.67" y="615.33" width="33.67" height="65.67" fill="#386CB0" fill-opacity="0.5" stroke="#386CB0" stroke-width="2"/>
<line x1="700.67" y1="638" x2="734.33" y2="638" stroke="#386CB0" stroke-width="3.8"/>
<circle cx="585" cy="586.33" r="3.8" fill="#7FC97F" fill-opacity="0.8"/><circle cx="585" cy="586.33" r="2.2" fill="#7FC97F" fill-opacity="0.55"/>
<circle cx="571.67" cy="610.67" r="3.8" fill="#7FC97F" fill-opacity="0.8"/><circle cx="571.67" cy="610.67" r="2.2" fill="#7FC97F" fill-opacity="0.55"/>
<circle cx="569.33" cy="621.33" r="3.8" fill="#7FC97F" fill-opacity="0.8"/><circle cx="569.33" cy="621.33" r="2.2" fill="#7FC97F" fill-opacity="0.55"/>
<circle cx="578.67" cy="626.67" r="3.8" fill="#7FC97F" fill-opacity="0.8"/><circle cx="578.67" cy="626.67" r="2.2" fill="#7FC97F" fill-opacity="0.55"/>
<circle cx="599" cy="629" r="3.8" fill="#7FC97F" fill-opacity="0.8"/><circle cx="599" cy="629" r="2.2" fill="#7FC97F" fill-opacity="0.55"/>
<circle cx="595" cy="624" r="3.8" fill="#7FC97F" fill-opacity="0.8"/><circle cx="595" cy="624" r="2.2" fill="#7FC97F" fill-opacity="0.55"/>
<circle cx="630.67" cy="642" r="3.8" fill="#BEAED4" fill-opacity="0.8"/><circle cx="630.67" cy="642" r="2.2" fill="#BEAED4" fill-opacity="0.55"/>
<circle cx="623.33" cy="648.33" r="3.8" fill="#BEAED4" fill-opacity="0.8"/><circle cx="623.33" cy="648.33" r="2.2" fill="#BEAED4" fill-opacity="0.55"/>
<circle cx="633.67" cy="655" r="3.8" fill="#BEAED4" fill-opacity="0.8"/><circle cx="633.67" cy="655" r="2.2" fill="#BEAED4" fill-opacity="0.55"/>
<circle cx="622.67" cy="674" r="3.8" fill="#BEAED4" fill-opacity="0.8"/><circle cx="622.67" cy="674" r="2.2" fill="#BEAED4" fill-opacity="0.55"/>
<circle cx="612.67" cy="676.67" r="3.8" fill="#BEAED4" fill-opacity="0.8"/><circle cx="612.67" cy="676.67" r="2.2" fill="#BEAED4" fill-opacity="0.55"/>
<circle cx="647.33" cy="743.67" r="3.8" fill="#BEAED4" fill-opacity="0.8"/><circle cx="647.33" cy="743.67" r="2.2" fill="#BEAED4" fill-opacity="0.55"/>
<circle cx="660.67" cy="617.67" r="3.8" fill="#FDC086" fill-opacity="0.8"/><circle cx="660.67" cy="617.67" r="2.2" fill="#FDC086" fill-opacity="0.55"/>
<circle cx="662.67" cy="620.33" r="3.8" fill="#FDC086" fill-opacity="0.8"/><circle cx="662.67" cy="620.33" r="2.2" fill="#FDC086" fill-opacity="0.55"/>
<circle cx="672.67" cy="644.67" r="3.8" fill="#FDC086" fill-opacity="0.8"/><circle cx="672.67" cy="644.67" r="2.2" fill="#FDC086" fill-opacity="0.55"/>
<circle cx="682" cy="657" r="3.8" fill="#FDC086" fill-opacity="0.8"/><circle cx="682" cy="657" r="2.2" fill="#FDC086" fill-opacity="0.55"/>
<circle cx="669.67" cy="664" r="3.8" fill="#FDC086" fill-opacity="0.8"/><circle cx="669.67" cy="664" r="2.2" fill="#FDC086" fill-opacity="0.55"/>
<circle cx="686.67" cy="689.33" r="3.8" fill="#FDC086" fill-opacity="0.8"/><circle cx="686.67" cy="689.33" r="2.2" fill="#FDC086" fill-opacity="0.55"/>
<circle cx="709" cy="586.67" r="3.8" fill="#386CB0" fill-opacity="0.8"/><circle cx="709" cy="586.67" r="2.2" fill="#386CB0" fill-opacity="0.55"/>
<circle cx="724" cy="614" r="3.8" fill="#386CB0" fill-opacity="0.8"/><circle cx="724" cy="614" r="2.2" fill="#386CB0" fill-opacity="0.55"/>
<circle cx="713.67" cy="621.33" r="3.8" fill="#386CB0" fill-opacity="0.8"/><circle cx="713.67" cy="621.33" r="2.2" fill="#386CB0" fill-opacity="0.55"/>
<circle cx="709.67" cy="655.67" r="3.8" fill="#386CB0" fill-opacity="0.8"/><circle cx="709.67" cy="655.67" r="2.2" fill="#386CB0" fill-opacity="0.55"/>
<circle cx="723.67" cy="689.33" r="3.8" fill="#386CB0" fill-opacity="0.8"/><circle cx="723.67" cy="689.33" r="2.2" fill="#386CB0" fill-opacity="0.55"/>
<circle cx="733" cy="893.33" r="3.8" fill="#386CB0" fill-opacity="0.8"/><circle cx="733" cy="893.33" r="2.2" fill="#386CB0" fill-opacity="0.55"/>
<text x="652.33" y="547" font-size="16.8" stroke="#000" stroke-width="0.3" text-anchor="middle">p = 0.095</text>
<rect x="561" y="525" width="182.67" height="383" fill="none" stroke="#333" stroke-width="1.4"/>
<rect x="561" y="496.67" width="182.67" height="28.33" fill="#D9D9D9" stroke="#333" stroke-width="1.4"/>
<text x="652.33" y="516.13" font-size="15.1" stroke="#1A1A1A" stroke-width="0.25" text-anchor="middle" font-weight="bold" fill="#1A1A1A">Goods_coverage</text>
<line x1="555.5" y1="595" x2="561" y2="595" stroke="#2A2A2A" stroke-width="1.7"/>
<text x="552.3" y="599.5" font-size="13.3" stroke="#000" stroke-width="0.3" text-anchor="end">0.9975</text>
<line x1="555.5" y1="688.67" x2="561" y2="688.67" stroke="#2A2A2A" stroke-width="1.7"/>
<text x="552.3" y="693.17" font-size="13.3" stroke="#000" stroke-width="0.3" text-anchor="end">0.9950</text>
<line x1="555.5" y1="781.67" x2="561" y2="781.67" stroke="#2A2A2A" stroke-width="1.7"/>
<text x="552.3" y="786.17" font-size="13.3" stroke="#000" stroke-width="0.3" text-anchor="end">0.9925</text>
<line x1="555.5" y1="875.33" x2="561" y2="875.33" stroke="#2A2A2A" stroke-width="1.7"/>
<text x="552.3" y="879.83" font-size="13.3" stroke="#000" stroke-width="0.3" text-anchor="end">0.9900</text>
<text transform="translate(593.7 930.4) rotate(-45) scale(1 1.17)" font-size="18.8" stroke="#000" stroke-width="0.3" text-anchor="end">WAZ1</text>
<text transform="translate(638.2 930.4) rotate(-45) scale(1 1.17)" font-size="18.8" stroke="#000" stroke-width="0.3" text-anchor="end">WBZ1</text>
<text transform="translate(681.53 930.4) rotate(-45) scale(1 1.17)" font-size="18.8" stroke="#000" stroke-width="0.3" text-anchor="end">WCZ1</text>
<text transform="translate(725.2 930.4) rotate(-45) scale(1 1.17)" font-size="18.8" stroke="#000" stroke-width="0.3" text-anchor="end">WDZ1</text>
</g>
<g>
<rect x="1058" y="38.33" width="180" height="390.33" fill="#fff" stroke="none"/>
<line x1="1083.33" y1="206.67" x2="1083.33" y2="217.33" stroke="#7FC97F" stroke-width="1.86"/>
<line x1="1083.33" y1="258.67" x2="1083.33" y2="282.67" stroke="#7FC97F" stroke-width="1.86"/>
<rect x="1067" y="217.33" width="32.67" height="41.33" fill="#7FC97F" fill-opacity="0.5" stroke="#7FC97F" stroke-width="1.86"/>
<line x1="1067" y1="243.33" x2="1099.67" y2="243.33" stroke="#7FC97F" stroke-width="3.53"/>
<line x1="1126.5" y1="195" x2="1126.5" y2="202.33" stroke="#BEAED4" stroke-width="1.86"/>
<line x1="1126.5" y1="239.33" x2="1126.5" y2="246.67" stroke="#BEAED4" stroke-width="1.86"/>
<rect x="1110" y="202.33" width="33" height="37" fill="#BEAED4" fill-opacity="0.5" stroke="#BEAED4" stroke-width="1.86"/>
<line x1="1110" y1="211" x2="1143" y2="211" stroke="#BEAED4" stroke-width="3.53"/>
<line x1="1169.17" y1="173.33" x2="1169.17" y2="217.67" stroke="#FDC086" stroke-width="1.86"/>
<line x1="1169.17" y1="258.67" x2="1169.17" y2="305.67" stroke="#FDC086" stroke-width="1.86"/>
<rect x="1152.67" y="217.67" width="33" height="41" fill="#FDC086" fill-opacity="0.5" stroke="#FDC086" stroke-width="1.86"/>
<line x1="1152.67" y1="227.67" x2="1185.67" y2="227.67" stroke="#FDC086" stroke-width="3.53"/>
<line x1="1212.17" y1="306" x2="1212.17" y2="349" stroke="#386CB0" stroke-width="1.86"/>
<line x1="1212.17" y1="400" x2="1212.17" y2="415" stroke="#386CB0" stroke-width="1.86"/>
<rect x="1195.67" y="349" width="33" height="51" fill="#386CB0" fill-opacity="0.5" stroke="#386CB0" stroke-width="1.86"/>
<line x1="1195.67" y1="374" x2="1228.67" y2="374" stroke="#386CB0" stroke-width="3.53"/>
<circle cx="1086" cy="209.33" r="3.53" fill="#7FC97F" fill-opacity="0.8"/><circle cx="1086" cy="209.33" r="2.05" fill="#7FC97F" fill-opacity="0.55"/>
<circle cx="1096.33" cy="206.67" r="3.53" fill="#7FC97F" fill-opacity="0.8"/><circle cx="1096.33" cy="206.67" r="2.05" fill="#7FC97F" fill-opacity="0.55"/>
<circle cx="1080.33" cy="241.33" r="3.53" fill="#7FC97F" fill-opacity="0.8"/><circle cx="1080.33" cy="241.33" r="2.05" fill="#7FC97F" fill-opacity="0.55"/>
<circle cx="1077.33" cy="245.67" r="3.53" fill="#7FC97F" fill-opacity="0.8"/><circle cx="1077.33" cy="245.67" r="2.05" fill="#7FC97F" fill-opacity="0.55"/>
<circle cx="1096.33" cy="263.33" r="3.53" fill="#7FC97F" fill-opacity="0.8"/><circle cx="1096.33" cy="263.33" r="2.05" fill="#7FC97F" fill-opacity="0.55"/>
<circle cx="1096.33" cy="283.33" r="3.53" fill="#7FC97F" fill-opacity="0.8"/><circle cx="1096.33" cy="283.33" r="2.05" fill="#7FC97F" fill-opacity="0.55"/>
<circle cx="1109.33" cy="194.33" r="3.53" fill="#BEAED4" fill-opacity="0.8"/><circle cx="1109.33" cy="194.33" r="2.05" fill="#BEAED4" fill-opacity="0.55"/>
<circle cx="1133.67" cy="201.67" r="3.53" fill="#BEAED4" fill-opacity="0.8"/><circle cx="1133.67" cy="201.67" r="2.05" fill="#BEAED4" fill-opacity="0.55"/>
<circle cx="1132.67" cy="204.33" r="3.53" fill="#BEAED4" fill-opacity="0.8"/><circle cx="1132.67" cy="204.33" r="2.05" fill="#BEAED4" fill-opacity="0.55"/>
<circle cx="1138.33" cy="218.33" r="3.53" fill="#BEAED4" fill-opacity="0.8"/><circle cx="1138.33" cy="218.33" r="2.05" fill="#BEAED4" fill-opacity="0.55"/>
<circle cx="1110.33" cy="246.67" r="3.53" fill="#BEAED4" fill-opacity="0.8"/><circle cx="1110.33" cy="246.67" r="2.05" fill="#BEAED4" fill-opacity="0.55"/>
<circle cx="1113" cy="295.33" r="3.53" fill="#BEAED4" fill-opacity="0.8"/><circle cx="1113" cy="295.33" r="2.05" fill="#BEAED4" fill-opacity="0.55"/>
<circle cx="1156.67" cy="173.33" r="3.53" fill="#FDC086" fill-opacity="0.8"/><circle cx="1156.67" cy="173.33" r="2.05" fill="#FDC086" fill-opacity="0.55"/>
<circle cx="1182" cy="217" r="3.53" fill="#FDC086" fill-opacity="0.8"/><circle cx="1182" cy="217" r="2.05" fill="#FDC086" fill-opacity="0.55"/>
<circle cx="1152.67" cy="220.67" r="3.53" fill="#FDC086" fill-opacity="0.8"/><circle cx="1152.67" cy="220.67" r="2.05" fill="#FDC086" fill-opacity="0.55"/>
<circle cx="1169.67" cy="234.33" r="3.53" fill="#FDC086" fill-opacity="0.8"/><circle cx="1169.67" cy="234.33" r="2.05" fill="#FDC086" fill-opacity="0.55"/>
<circle cx="1178" cy="267" r="3.53" fill="#FDC086" fill-opacity="0.8"/><circle cx="1178" cy="267" r="2.05" fill="#FDC086" fill-opacity="0.55"/>
<circle cx="1160.33" cy="306" r="3.53" fill="#FDC086" fill-opacity="0.8"/><circle cx="1160.33" cy="306" r="2.05" fill="#FDC086" fill-opacity="0.55"/>
<circle cx="1199" cy="306" r="3.53" fill="#386CB0" fill-opacity="0.8"/><circle cx="1199" cy="306" r="2.05" fill="#386CB0" fill-opacity="0.55"/>
<circle cx="1220.67" cy="345.67" r="3.53" fill="#386CB0" fill-opacity="0.8"/><circle cx="1220.67" cy="345.67" r="2.05" fill="#386CB0" fill-opacity="0.55"/>
<circle cx="1201.67" cy="358.67" r="3.53" fill="#386CB0" fill-opacity="0.8"/><circle cx="1201.67" cy="358.67" r="2.05" fill="#386CB0" fill-opacity="0.55"/>
<circle cx="1204.67" cy="390" r="3.53" fill="#386CB0" fill-opacity="0.8"/><circle cx="1204.67" cy="390" r="2.05" fill="#386CB0" fill-opacity="0.55"/>
<circle cx="1220.33" cy="403.67" r="3.53" fill="#386CB0" fill-opacity="0.8"/><circle cx="1220.33" cy="403.67" r="2.05" fill="#386CB0" fill-opacity="0.55"/>
<circle cx="1208.67" cy="413.67" r="3.53" fill="#386CB0" fill-opacity="0.8"/><circle cx="1208.67" cy="413.67" r="2.05" fill="#386CB0" fill-opacity="0.55"/>
<line x1="1169" y1="100.67" x2="1213" y2="100.67" stroke="#000" stroke-width="1.9"/>
<text x="1191" y="94.37" font-size="14" stroke="#000" stroke-width="0.3" text-anchor="middle">*</text>
<line x1="1125.67" y1="125" x2="1213" y2="125" stroke="#000" stroke-width="1.9"/>
<text x="1169.33" y="118.7" font-size="14" stroke="#000" stroke-width="0.3" text-anchor="middle">**</text>
<line x1="1082.67" y1="149" x2="1213" y2="149" stroke="#000" stroke-width="1.9"/>
<text x="1147.83" y="142.7" font-size="14" stroke="#000" stroke-width="0.3" text-anchor="middle">*</text>
<text x="1148" y="71" font-size="15.62" stroke="#000" stroke-width="0.3" text-anchor="middle">p = 0.0037</text>
<rect x="1058" y="38.33" width="180" height="390.33" fill="none" stroke="#333" stroke-width="1.3"/>
<rect x="1058" y="12" width="180" height="26.33" fill="#D9D9D9" stroke="#333" stroke-width="1.3"/>
<text x="1148" y="30.1" font-size="14.04" stroke="#1A1A1A" stroke-width="0.25" text-anchor="middle" font-weight="bold" fill="#1A1A1A">Chao1</text>
<line x1="1052.88" y1="73.33" x2="1058" y2="73.33" stroke="#2A2A2A" stroke-width="1.58"/>
<text x="1049.91" y="77.52" font-size="12.37" stroke="#000" stroke-width="0.3" text-anchor="end">2500</text>
<line x1="1052.88" y1="204" x2="1058" y2="204" stroke="#2A2A2A" stroke-width="1.58"/>
<text x="1049.91" y="208.19" font-size="12.37" stroke="#000" stroke-width="0.3" text-anchor="end">2000</text>
<line x1="1052.88" y1="335" x2="1058" y2="335" stroke="#2A2A2A" stroke-width="1.58"/>
<text x="1049.91" y="339.19" font-size="12.37" stroke="#000" stroke-width="0.3" text-anchor="end">1500</text>
<text transform="translate(1092.63 448.07) rotate(-45) scale(1 1.17)" font-size="17.5" stroke="#000" stroke-width="0.3" text-anchor="end">WAZ2</text>
<text transform="translate(1135.8 448.07) rotate(-45) scale(1 1.17)" font-size="17.5" stroke="#000" stroke-width="0.3" text-anchor="end">WBZ2</text>
<text transform="translate(1178.47 448.07) rotate(-45) scale(1 1.17)" font-size="17.5" stroke="#000" stroke-width="0.3" text-anchor="end">WCZ2</text>
<text transform="translate(1221.47 448.07) rotate(-45) scale(1 1.17)" font-size="17.5" stroke="#000" stroke-width="0.3" text-anchor="end">WDZ2</text>
</g>
<g>
<rect x="1286.33" y="38.33" width="177" height="390.33" fill="#fff" stroke="none"/>
<line x1="1310.5" y1="131.67" x2="1310.5" y2="134.33" stroke="#7FC97F" stroke-width="1.86"/>
<line x1="1310.5" y1="139" x2="1310.5" y2="140" stroke="#7FC97F" stroke-width="1.86"/>
<rect x="1293.67" y="134.33" width="33.67" height="4.67" fill="#7FC97F" fill-opacity="0.5" stroke="#7FC97F" stroke-width="1.86"/>
<line x1="1293.67" y1="136.67" x2="1327.33" y2="136.67" stroke="#7FC97F" stroke-width="3.53"/>
<line x1="1353.67" y1="165.67" x2="1353.67" y2="197.33" stroke="#BEAED4" stroke-width="1.86"/>
<rect x="1337.33" y="135.33" width="32.67" height="30.33" fill="#BEAED4" fill-opacity="0.5" stroke="#BEAED4" stroke-width="1.86"/>
<line x1="1337.33" y1="140.67" x2="1370" y2="140.67" stroke="#BEAED4" stroke-width="3.53"/>
<line x1="1394.67" y1="131" x2="1394.67" y2="133.67" stroke="#FDC086" stroke-width="1.86"/>
<rect x="1376.67" y="133.67" width="36" height="9.33" fill="#FDC086" fill-opacity="0.5" stroke="#FDC086" stroke-width="1.86"/>
<line x1="1376.67" y1="136.67" x2="1412.67" y2="136.67" stroke="#FDC086" stroke-width="3.53"/>
<line x1="1438.17" y1="147" x2="1438.17" y2="168" stroke="#386CB0" stroke-width="1.86"/>
<rect x="1422" y="168" width="32.33" height="67" fill="#386CB0" fill-opacity="0.5" stroke="#386CB0" stroke-width="1.86"/>
<line x1="1422" y1="214" x2="1454.33" y2="214" stroke="#386CB0" stroke-width="3.53"/>
<circle cx="1304.33" cy="129.33" r="3.53" fill="#7FC97F" fill-opacity="0.8"/><circle cx="1304.33" cy="129.33" r="2.05" fill="#7FC97F" fill-opacity="0.55"/>
<circle cx="1311.33" cy="134" r="3.53" fill="#7FC97F" fill-opacity="0.8"/><circle cx="1311.33" cy="134" r="2.05" fill="#7FC97F" fill-opacity="0.55"/>
<circle cx="1296" cy="136.33" r="3.53" fill="#7FC97F" fill-opacity="0.8"/><circle cx="1296" cy="136.33" r="2.05" fill="#7FC97F" fill-opacity="0.55"/>
<circle cx="1301.67" cy="136.67" r="3.53" fill="#7FC97F" fill-opacity="0.8"/><circle cx="1301.67" cy="136.67" r="2.05" fill="#7FC97F" fill-opacity="0.55"/>
<circle cx="1327.33" cy="139" r="3.53" fill="#7FC97F" fill-opacity="0.8"/><circle cx="1327.33" cy="139" r="2.05" fill="#7FC97F" fill-opacity="0.55"/>
<circle cx="1316.67" cy="150.33" r="3.53" fill="#7FC97F" fill-opacity="0.8"/><circle cx="1316.67" cy="150.33" r="2.05" fill="#7FC97F" fill-opacity="0.55"/>
<circle cx="1354.33" cy="129.67" r="3.53" fill="#BEAED4" fill-opacity="0.8"/><circle cx="1354.33" cy="129.67" r="2.05" fill="#BEAED4" fill-opacity="0.55"/>
<circle cx="1369" cy="135" r="3.53" fill="#BEAED4" fill-opacity="0.8"/><circle cx="1369" cy="135" r="2.05" fill="#BEAED4" fill-opacity="0.55"/>
<circle cx="1366" cy="140" r="3.53" fill="#BEAED4" fill-opacity="0.8"/><circle cx="1366" cy="140" r="2.05" fill="#BEAED4" fill-opacity="0.55"/>
<circle cx="1366.67" cy="144" r="3.53" fill="#BEAED4" fill-opacity="0.8"/><circle cx="1366.67" cy="144" r="2.05" fill="#BEAED4" fill-opacity="0.55"/>
<circle cx="1344.67" cy="173" r="3.53" fill="#BEAED4" fill-opacity="0.8"/><circle cx="1344.67" cy="173" r="2.05" fill="#BEAED4" fill-opacity="0.55"/>
<circle cx="1360.33" cy="197.33" r="3.53" fill="#BEAED4" fill-opacity="0.8"/><circle cx="1360.33" cy="197.33" r="2.05" fill="#BEAED4" fill-opacity="0.55"/>
<circle cx="1386.67" cy="130.67" r="3.53" fill="#FDC086" fill-opacity="0.8"/><circle cx="1386.67" cy="130.67" r="2.05" fill="#FDC086" fill-opacity="0.55"/>
<circle cx="1381" cy="132.33" r="3.53" fill="#FDC086" fill-opacity="0.8"/><circle cx="1381" cy="132.33" r="2.05" fill="#FDC086" fill-opacity="0.55"/>
<circle cx="1397.33" cy="136" r="3.53" fill="#FDC086" fill-opacity="0.8"/><circle cx="1397.33" cy="136" r="2.05" fill="#FDC086" fill-opacity="0.55"/>
<circle cx="1388.67" cy="141.33" r="3.53" fill="#FDC086" fill-opacity="0.8"/><circle cx="1388.67" cy="141.33" r="2.05" fill="#FDC086" fill-opacity="0.55"/>
<circle cx="1379" cy="143" r="3.53" fill="#FDC086" fill-opacity="0.8"/><circle cx="1379" cy="143" r="2.05" fill="#FDC086" fill-opacity="0.55"/>
<circle cx="1402.33" cy="227.67" r="3.53" fill="#FDC086" fill-opacity="0.8"/><circle cx="1402.33" cy="227.67" r="2.05" fill="#FDC086" fill-opacity="0.55"/>
<circle cx="1445" cy="146.67" r="3.53" fill="#386CB0" fill-opacity="0.8"/><circle cx="1445" cy="146.67" r="2.05" fill="#386CB0" fill-opacity="0.55"/>
<circle cx="1435.33" cy="159" r="3.53" fill="#386CB0" fill-opacity="0.8"/><circle cx="1435.33" cy="159" r="2.05" fill="#386CB0" fill-opacity="0.55"/>
<circle cx="1443" cy="195.33" r="3.53" fill="#386CB0" fill-opacity="0.8"/><circle cx="1443" cy="195.33" r="2.05" fill="#386CB0" fill-opacity="0.55"/>
<circle cx="1452.33" cy="233.33" r="3.53" fill="#386CB0" fill-opacity="0.8"/><circle cx="1452.33" cy="233.33" r="2.05" fill="#386CB0" fill-opacity="0.55"/>
<circle cx="1440" cy="235.33" r="3.53" fill="#386CB0" fill-opacity="0.8"/><circle cx="1440" cy="235.33" r="2.05" fill="#386CB0" fill-opacity="0.55"/>
<circle cx="1452.67" cy="413.67" r="3.53" fill="#386CB0" fill-opacity="0.8"/><circle cx="1452.67" cy="413.67" r="2.05" fill="#386CB0" fill-opacity="0.55"/>
<line x1="1311" y1="100.67" x2="1438.33" y2="100.67" stroke="#000" stroke-width="1.9"/>
<text x="1374.67" y="94.37" font-size="14" stroke="#000" stroke-width="0.3" text-anchor="middle">*</text>
<text x="1374.83" y="64.67" font-size="15.62" stroke="#000" stroke-width="0.3" text-anchor="middle">p = 0.021</text>
<rect x="1286.33" y="38.33" width="177" height="390.33" fill="none" stroke="#333" stroke-width="1.3"/>
<rect x="1286.33" y="12" width="177" height="26.33" fill="#D9D9D9" stroke="#333" stroke-width="1.3"/>
<text x="1374.83" y="30.1" font-size="14.04" stroke="#1A1A1A" stroke-width="0.25" text-anchor="middle" font-weight="bold" fill="#1A1A1A">Simpson</text>
<line x1="1281.22" y1="41.33" x2="1286.33" y2="41.33" stroke="#2A2A2A" stroke-width="1.58"/>
<text x="1278.24" y="45.52" font-size="12.37" stroke="#000" stroke-width="0.3" text-anchor="end">1.005</text>
<line x1="1281.22" y1="104.67" x2="1286.33" y2="104.67" stroke="#2A2A2A" stroke-width="1.58"/>
<text x="1278.24" y="108.85" font-size="12.37" stroke="#000" stroke-width="0.3" text-anchor="end">1.000</text>
<line x1="1281.22" y1="168" x2="1286.33" y2="168" stroke="#2A2A2A" stroke-width="1.58"/>
<text x="1278.24" y="172.19" font-size="12.37" stroke="#000" stroke-width="0.3" text-anchor="end">0.995</text>
<line x1="1281.22" y1="231" x2="1286.33" y2="231" stroke="#2A2A2A" stroke-width="1.58"/>
<text x="1278.24" y="235.19" font-size="12.37" stroke="#000" stroke-width="0.3" text-anchor="end">0.990</text>
<line x1="1281.22" y1="294.33" x2="1286.33" y2="294.33" stroke="#2A2A2A" stroke-width="1.58"/>
<text x="1278.24" y="298.52" font-size="12.37" stroke="#000" stroke-width="0.3" text-anchor="end">0.985</text>
<line x1="1281.22" y1="357.67" x2="1286.33" y2="357.67" stroke="#2A2A2A" stroke-width="1.58"/>
<text x="1278.24" y="361.85" font-size="12.37" stroke="#000" stroke-width="0.3" text-anchor="end">0.980</text>
<line x1="1281.22" y1="421" x2="1286.33" y2="421" stroke="#2A2A2A" stroke-width="1.58"/>
<text x="1278.24" y="425.19" font-size="12.37" stroke="#000" stroke-width="0.3" text-anchor="end">0.975</text>
<text transform="translate(1319.8 448.07) rotate(-45) scale(1 1.17)" font-size="17.5" stroke="#000" stroke-width="0.3" text-anchor="end">WAZ2</text>
<text transform="translate(1362.97 448.07) rotate(-45) scale(1 1.17)" font-size="17.5" stroke="#000" stroke-width="0.3" text-anchor="end">WBZ2</text>
<text transform="translate(1403.97 448.07) rotate(-45) scale(1 1.17)" font-size="17.5" stroke="#000" stroke-width="0.3" text-anchor="end">WCZ2</text>
<text transform="translate(1447.47 448.07) rotate(-45) scale(1 1.17)" font-size="17.5" stroke="#000" stroke-width="0.3" text-anchor="end">WDZ2</text>
</g>
<g>
<rect x="1494.33" y="38.33" width="194" height="390.33" fill="#fff" stroke="none"/>
<line x1="1521.83" y1="181.67" x2="1521.83" y2="192.67" stroke="#7FC97F" stroke-width="1.86"/>
<line x1="1521.83" y1="202.33" x2="1521.83" y2="203.33" stroke="#7FC97F" stroke-width="1.86"/>
<rect x="1504.33" y="192.67" width="35" height="9.67" fill="#7FC97F" fill-opacity="0.5" stroke="#7FC97F" stroke-width="1.86"/>
<line x1="1504.33" y1="198.67" x2="1539.33" y2="198.67" stroke="#7FC97F" stroke-width="3.53"/>
<line x1="1568" y1="173.33" x2="1568" y2="183.33" stroke="#BEAED4" stroke-width="1.86"/>
<line x1="1568" y1="225" x2="1568" y2="256" stroke="#BEAED4" stroke-width="1.86"/>
<rect x="1550.33" y="183.33" width="35.33" height="41.67" fill="#BEAED4" fill-opacity="0.5" stroke="#BEAED4" stroke-width="1.86"/>
<line x1="1550.33" y1="191.67" x2="1585.67" y2="191.67" stroke="#BEAED4" stroke-width="3.53"/>
<line x1="1614.5" y1="180.33" x2="1614.5" y2="192.67" stroke="#FDC086" stroke-width="1.86"/>
<rect x="1596.67" y="192.67" width="35.67" height="10.67" fill="#FDC086" fill-opacity="0.5" stroke="#FDC086" stroke-width="1.86"/>
<line x1="1596.67" y1="196" x2="1632.33" y2="196" stroke="#FDC086" stroke-width="3.53"/>
<line x1="1660.67" y1="240" x2="1660.67" y2="281.67" stroke="#386CB0" stroke-width="1.86"/>
<rect x="1643" y="281.67" width="35.33" height="47.33" fill="#386CB0" fill-opacity="0.5" stroke="#386CB0" stroke-width="1.86"/>
<line x1="1643" y1="327.33" x2="1678.33" y2="327.33" stroke="#386CB0" stroke-width="3.53"/>
<circle cx="1530" cy="181" r="3.53" fill="#7FC97F" fill-opacity="0.8"/><circle cx="1530" cy="181" r="2.05" fill="#7FC97F" fill-opacity="0.55"/>
<circle cx="1508.33" cy="192.33" r="3.53" fill="#7FC97F" fill-opacity="0.8"/><circle cx="1508.33" cy="192.33" r="2.05" fill="#7FC97F" fill-opacity="0.55"/>
<circle cx="1507" cy="197.33" r="3.53" fill="#7FC97F" fill-opacity="0.8"/><circle cx="1507" cy="197.33" r="2.05" fill="#7FC97F" fill-opacity="0.55"/>
<circle cx="1519.33" cy="199.33" r="3.53" fill="#7FC97F" fill-opacity="0.8"/><circle cx="1519.33" cy="199.33" r="2.05" fill="#7FC97F" fill-opacity="0.55"/>
<circle cx="1507.33" cy="203" r="3.53" fill="#7FC97F" fill-opacity="0.8"/><circle cx="1507.33" cy="203" r="2.05" fill="#7FC97F" fill-opacity="0.55"/>
<circle cx="1521.33" cy="222.67" r="3.53" fill="#7FC97F" fill-opacity="0.8"/><circle cx="1521.33" cy="222.67" r="2.05" fill="#7FC97F" fill-opacity="0.55"/>
<circle cx="1572.67" cy="173" r="3.53" fill="#BEAED4" fill-opacity="0.8"/><circle cx="1572.67" cy="173" r="2.05" fill="#BEAED4" fill-opacity="0.55"/>
<circle cx="1550" cy="181.67" r="3.53" fill="#BEAED4" fill-opacity="0.8"/><circle cx="1550" cy="181.67" r="2.05" fill="#BEAED4" fill-opacity="0.55"/>
<circle cx="1581" cy="188.67" r="3.53" fill="#BEAED4" fill-opacity="0.8"/><circle cx="1581" cy="188.67" r="2.05" fill="#BEAED4" fill-opacity="0.55"/>
<circle cx="1585" cy="195.33" r="3.53" fill="#BEAED4" fill-opacity="0.8"/><circle cx="1585" cy="195.33" r="2.05" fill="#BEAED4" fill-opacity="0.55"/>
<circle cx="1580.33" cy="235" r="3.53" fill="#BEAED4" fill-opacity="0.8"/><circle cx="1580.33" cy="235" r="2.05" fill="#BEAED4" fill-opacity="0.55"/>
<circle cx="1565.67" cy="256" r="3.53" fill="#BEAED4" fill-opacity="0.8"/><circle cx="1565.67" cy="256" r="2.05" fill="#BEAED4" fill-opacity="0.55"/>
<circle cx="1611.33" cy="180.33" r="3.53" fill="#FDC086" fill-opacity="0.8"/><circle cx="1611.33" cy="180.33" r="2.05" fill="#FDC086" fill-opacity="0.55"/>
<circle cx="1604.33" cy="192.33" r="3.53" fill="#FDC086" fill-opacity="0.8"/><circle cx="1604.33" cy="192.33" r="2.05" fill="#FDC086" fill-opacity="0.55"/>
<circle cx="1625.67" cy="196.67" r="3.53" fill="#FDC086" fill-opacity="0.8"/><circle cx="1625.67" cy="196.67" r="2.05" fill="#FDC086" fill-opacity="0.55"/>
<circle cx="1616" cy="205.33" r="3.53" fill="#FDC086" fill-opacity="0.8"/><circle cx="1616" cy="205.33" r="2.05" fill="#FDC086" fill-opacity="0.55"/>
<circle cx="1618" cy="261" r="3.53" fill="#FDC086" fill-opacity="0.8"/><circle cx="1618" cy="261" r="2.05" fill="#FDC086" fill-opacity="0.55"/>
<circle cx="1612.33" cy="195" r="3.53" fill="#FDC086" fill-opacity="0.8"/><circle cx="1612.33" cy="195" r="2.05" fill="#FDC086" fill-opacity="0.55"/>
<circle cx="1666" cy="240" r="3.53" fill="#386CB0" fill-opacity="0.8"/><circle cx="1666" cy="240" r="2.05" fill="#386CB0" fill-opacity="0.55"/>
<circle cx="1677" cy="267" r="3.53" fill="#386CB0" fill-opacity="0.8"/><circle cx="1677" cy="267" r="2.05" fill="#386CB0" fill-opacity="0.55"/>
<circle cx="1646" cy="325" r="3.53" fill="#386CB0" fill-opacity="0.8"/><circle cx="1646" cy="325" r="2.05" fill="#386CB0" fill-opacity="0.55"/>
<circle cx="1642.67" cy="328" r="3.53" fill="#386CB0" fill-opacity="0.8"/><circle cx="1642.67" cy="328" r="2.05" fill="#386CB0" fill-opacity="0.55"/>
<circle cx="1672.33" cy="329.67" r="3.53" fill="#386CB0" fill-opacity="0.8"/><circle cx="1672.33" cy="329.67" r="2.05" fill="#386CB0" fill-opacity="0.55"/>
<circle cx="1644.67" cy="413.67" r="3.53" fill="#386CB0" fill-opacity="0.8"/><circle cx="1644.67" cy="413.67" r="2.05" fill="#386CB0" fill-opacity="0.55"/>
<line x1="1613.67" y1="100.67" x2="1661.33" y2="100.67" stroke="#000" stroke-width="1.9"/>
<text x="1637.5" y="94.37" font-size="14" stroke="#000" stroke-width="0.3" text-anchor="middle">*</text>
<line x1="1567.33" y1="125" x2="1661.33" y2="125" stroke="#000" stroke-width="1.9"/>
<text x="1614.33" y="118.7" font-size="14" stroke="#000" stroke-width="0.3" text-anchor="middle">*</text>
<line x1="1521" y1="149" x2="1661.33" y2="149" stroke="#000" stroke-width="1.9"/>
<text x="1591.17" y="142.7" font-size="14" stroke="#000" stroke-width="0.3" text-anchor="middle">*</text>
<text x="1591.33" y="71" font-size="15.62" stroke="#000" stroke-width="0.3" text-anchor="middle">p = 0.007</text>
<rect x="1494.33" y="38.33" width="194" height="390.33" fill="none" stroke="#333" stroke-width="1.3"/>
<rect x="1494.33" y="12" width="194" height="26.33" fill="#D9D9D9" stroke="#333" stroke-width="1.3"/>
<text x="1591.33" y="30.1" font-size="14.04" stroke="#1A1A1A" stroke-width="0.25" text-anchor="middle" font-weight="bold" fill="#1A1A1A">Shannon</text>
<line x1="1489.22" y1="58.67" x2="1494.33" y2="58.67" stroke="#2A2A2A" stroke-width="1.58"/>
<text x="1486.24" y="62.85" font-size="12.37" stroke="#000" stroke-width="0.3" text-anchor="end">11</text>
<line x1="1489.22" y1="166.33" x2="1494.33" y2="166.33" stroke="#2A2A2A" stroke-width="1.58"/>
<text x="1486.24" y="170.52" font-size="12.37" stroke="#000" stroke-width="0.3" text-anchor="end">10</text>
<line x1="1489.22" y1="274.33" x2="1494.33" y2="274.33" stroke="#2A2A2A" stroke-width="1.58"/>
<text x="1486.24" y="278.52" font-size="12.37" stroke="#000" stroke-width="0.3" text-anchor="end">9</text>
<line x1="1489.22" y1="382.67" x2="1494.33" y2="382.67" stroke="#2A2A2A" stroke-width="1.58"/>
<text x="1486.24" y="386.85" font-size="12.37" stroke="#000" stroke-width="0.3" text-anchor="end">8</text>
<text transform="translate(1531.13 448.07) rotate(-45) scale(1 1.17)" font-size="17.5" stroke="#000" stroke-width="0.3" text-anchor="end">WAZ2</text>
<text transform="translate(1577.3 448.07) rotate(-45) scale(1 1.17)" font-size="17.5" stroke="#000" stroke-width="0.3" text-anchor="end">WBZ2</text>
<text transform="translate(1623.8 448.07) rotate(-45) scale(1 1.17)" font-size="17.5" stroke="#000" stroke-width="0.3" text-anchor="end">WCZ2</text>
<text transform="translate(1669.97 448.07) rotate(-45) scale(1 1.17)" font-size="17.5" stroke="#000" stroke-width="0.3" text-anchor="end">WDZ2</text>
</g>
<g>
<rect x="1729.67" y="38.33" width="183.67" height="390.33" fill="#fff" stroke="none"/>
<line x1="1756" y1="163.33" x2="1756" y2="166.67" stroke="#7FC97F" stroke-width="1.86"/>
<line x1="1756" y1="181" x2="1756" y2="193.67" stroke="#7FC97F" stroke-width="1.86"/>
<rect x="1739.33" y="166.67" width="33.33" height="14.33" fill="#7FC97F" fill-opacity="0.5" stroke="#7FC97F" stroke-width="1.86"/>
<line x1="1739.33" y1="173.33" x2="1772.67" y2="173.33" stroke="#7FC97F" stroke-width="3.53"/>
<line x1="1799.5" y1="156.67" x2="1799.5" y2="166.33" stroke="#BEAED4" stroke-width="1.86"/>
<line x1="1799.5" y1="210.67" x2="1799.5" y2="235" stroke="#BEAED4" stroke-width="1.86"/>
<rect x="1782.67" y="166.33" width="33.67" height="44.33" fill="#BEAED4" fill-opacity="0.5" stroke="#BEAED4" stroke-width="1.86"/>
<line x1="1782.67" y1="175.33" x2="1816.33" y2="175.33" stroke="#BEAED4" stroke-width="3.53"/>
<line x1="1843.5" y1="154" x2="1843.5" y2="160.33" stroke="#FDC086" stroke-width="1.86"/>
<line x1="1843.5" y1="193.33" x2="1843.5" y2="242" stroke="#FDC086" stroke-width="1.86"/>
<rect x="1826.67" y="160.33" width="33.67" height="33" fill="#FDC086" fill-opacity="0.5" stroke="#FDC086" stroke-width="1.86"/>
<line x1="1826.67" y1="182" x2="1860.33" y2="182" stroke="#FDC086" stroke-width="3.53"/>
<line x1="1887.33" y1="204.67" x2="1887.33" y2="237.67" stroke="#386CB0" stroke-width="1.86"/>
<line x1="1887.33" y1="309.67" x2="1887.33" y2="413.33" stroke="#386CB0" stroke-width="1.86"/>
<rect x="1870.67" y="237.67" width="33.33" height="72" fill="#386CB0" fill-opacity="0.5" stroke="#386CB0" stroke-width="1.86"/>
<line x1="1870.67" y1="285.67" x2="1904" y2="285.67" stroke="#386CB0" stroke-width="3.53"/>
<circle cx="1738.67" cy="162.33" r="3.53" fill="#7FC97F" fill-opacity="0.8"/><circle cx="1738.67" cy="162.33" r="2.05" fill="#7FC97F" fill-opacity="0.55"/>
<circle cx="1758" cy="166" r="3.53" fill="#7FC97F" fill-opacity="0.8"/><circle cx="1758" cy="166" r="2.05" fill="#7FC97F" fill-opacity="0.55"/>
<circle cx="1740" cy="177" r="3.53" fill="#7FC97F" fill-opacity="0.8"/><circle cx="1740" cy="177" r="2.05" fill="#7FC97F" fill-opacity="0.55"/>
<circle cx="1747.67" cy="182" r="3.53" fill="#7FC97F" fill-opacity="0.8"/><circle cx="1747.67" cy="182" r="2.05" fill="#7FC97F" fill-opacity="0.55"/>
<circle cx="1763" cy="194.33" r="3.53" fill="#7FC97F" fill-opacity="0.8"/><circle cx="1763" cy="194.33" r="2.05" fill="#7FC97F" fill-opacity="0.55"/>
<circle cx="1755.67" cy="170" r="3.53" fill="#7FC97F" fill-opacity="0.8"/><circle cx="1755.67" cy="170" r="2.05" fill="#7FC97F" fill-opacity="0.55"/>
<circle cx="1801.67" cy="156.33" r="3.53" fill="#BEAED4" fill-opacity="0.8"/><circle cx="1801.67" cy="156.33" r="2.05" fill="#BEAED4" fill-opacity="0.55"/>
<circle cx="1790" cy="164.33" r="3.53" fill="#BEAED4" fill-opacity="0.8"/><circle cx="1790" cy="164.33" r="2.05" fill="#BEAED4" fill-opacity="0.55"/>
<circle cx="1810" cy="174" r="3.53" fill="#BEAED4" fill-opacity="0.8"/><circle cx="1810" cy="174" r="2.05" fill="#BEAED4" fill-opacity="0.55"/>
<circle cx="1792.67" cy="177.67" r="3.53" fill="#BEAED4" fill-opacity="0.8"/><circle cx="1792.67" cy="177.67" r="2.05" fill="#BEAED4" fill-opacity="0.55"/>
<circle cx="1793.67" cy="221.33" r="3.53" fill="#BEAED4" fill-opacity="0.8"/><circle cx="1793.67" cy="221.33" r="2.05" fill="#BEAED4" fill-opacity="0.55"/>
<circle cx="1797.33" cy="235" r="3.53" fill="#BEAED4" fill-opacity="0.8"/><circle cx="1797.33" cy="235" r="2.05" fill="#BEAED4" fill-opacity="0.55"/>
<circle cx="1828.33" cy="156.33" r="3.53" fill="#FDC086" fill-opacity="0.8"/><circle cx="1828.33" cy="156.33" r="2.05" fill="#FDC086" fill-opacity="0.55"/>
<circle cx="1850.33" cy="153.33" r="3.53" fill="#FDC086" fill-opacity="0.8"/><circle cx="1850.33" cy="153.33" r="2.05" fill="#FDC086" fill-opacity="0.55"/>
<circle cx="1834.67" cy="172.33" r="3.53" fill="#FDC086" fill-opacity="0.8"/><circle cx="1834.67" cy="172.33" r="2.05" fill="#FDC086" fill-opacity="0.55"/>
<circle cx="1860" cy="192.33" r="3.53" fill="#FDC086" fill-opacity="0.8"/><circle cx="1860" cy="192.33" r="2.05" fill="#FDC086" fill-opacity="0.55"/>
<circle cx="1847.33" cy="194" r="3.53" fill="#FDC086" fill-opacity="0.8"/><circle cx="1847.33" cy="194" r="2.05" fill="#FDC086" fill-opacity="0.55"/>
<circle cx="1831.33" cy="242.33" r="3.53" fill="#FDC086" fill-opacity="0.8"/><circle cx="1831.33" cy="242.33" r="2.05" fill="#FDC086" fill-opacity="0.55"/>
<circle cx="1897.67" cy="204.33" r="3.53" fill="#386CB0" fill-opacity="0.8"/><circle cx="1897.67" cy="204.33" r="2.05" fill="#386CB0" fill-opacity="0.55"/>
<circle cx="1896" cy="224.67" r="3.53" fill="#386CB0" fill-opacity="0.8"/><circle cx="1896" cy="224.67" r="2.05" fill="#386CB0" fill-opacity="0.55"/>
<circle cx="1891.67" cy="278" r="3.53" fill="#386CB0" fill-opacity="0.8"/><circle cx="1891.67" cy="278" r="2.05" fill="#386CB0" fill-opacity="0.55"/>
<circle cx="1891.33" cy="293.67" r="3.53" fill="#386CB0" fill-opacity="0.8"/><circle cx="1891.33" cy="293.67" r="2.05" fill="#386CB0" fill-opacity="0.55"/>
<circle cx="1875" cy="315" r="3.53" fill="#386CB0" fill-opacity="0.8"/><circle cx="1875" cy="315" r="2.05" fill="#386CB0" fill-opacity="0.55"/>
<circle cx="1897.67" cy="413.67" r="3.53" fill="#386CB0" fill-opacity="0.8"/><circle cx="1897.67" cy="413.67" r="2.05" fill="#386CB0" fill-opacity="0.55"/>
<line x1="1843" y1="100.67" x2="1887.67" y2="100.67" stroke="#000" stroke-width="1.9"/>
<text x="1865.33" y="94.37" font-size="14" stroke="#000" stroke-width="0.3" text-anchor="middle">*</text>
<line x1="1755" y1="127" x2="1887.67" y2="127" stroke="#000" stroke-width="1.9"/>
<text x="1821.33" y="120.7" font-size="14" stroke="#000" stroke-width="0.3" text-anchor="middle">*</text>
<text x="1821.5" y="68" font-size="15.62" stroke="#000" stroke-width="0.3" text-anchor="middle">p = 0.013</text>
<rect x="1729.67" y="38.33" width="183.67" height="390.33" fill="none" stroke="#333" stroke-width="1.3"/>
<rect x="1729.67" y="12" width="183.67" height="26.33" fill="#D9D9D9" stroke="#333" stroke-width="1.3"/>
<text x="1821.5" y="30.1" font-size="14.04" stroke="#1A1A1A" stroke-width="0.25" text-anchor="middle" font-weight="bold" fill="#1A1A1A">Pielou_e</text>
<line x1="1724.55" y1="84.33" x2="1729.67" y2="84.33" stroke="#2A2A2A" stroke-width="1.58"/>
<text x="1721.58" y="88.52" font-size="12.37" stroke="#000" stroke-width="0.3" text-anchor="end">0.95</text>
<line x1="1724.55" y1="169.67" x2="1729.67" y2="169.67" stroke="#2A2A2A" stroke-width="1.58"/>
<text x="1721.58" y="173.85" font-size="12.37" stroke="#000" stroke-width="0.3" text-anchor="end">0.90</text>
<line x1="1724.55" y1="255" x2="1729.67" y2="255" stroke="#2A2A2A" stroke-width="1.58"/>
<text x="1721.58" y="259.19" font-size="12.37" stroke="#000" stroke-width="0.3" text-anchor="end">0.85</text>
<line x1="1724.55" y1="340.33" x2="1729.67" y2="340.33" stroke="#2A2A2A" stroke-width="1.58"/>
<text x="1721.58" y="344.52" font-size="12.37" stroke="#000" stroke-width="0.3" text-anchor="end">0.80</text>
<line x1="1724.55" y1="425.67" x2="1729.67" y2="425.67" stroke="#2A2A2A" stroke-width="1.58"/>
<text x="1721.58" y="429.85" font-size="12.37" stroke="#000" stroke-width="0.3" text-anchor="end">0.75</text>
<text transform="translate(1765.3 448.07) rotate(-45) scale(1 1.17)" font-size="17.5" stroke="#000" stroke-width="0.3" text-anchor="end">WAZ2</text>
<text transform="translate(1808.8 448.07) rotate(-45) scale(1 1.17)" font-size="17.5" stroke="#000" stroke-width="0.3" text-anchor="end">WBZ2</text>
<text transform="translate(1852.8 448.07) rotate(-45) scale(1 1.17)" font-size="17.5" stroke="#000" stroke-width="0.3" text-anchor="end">WCZ2</text>
<text transform="translate(1896.63 448.07) rotate(-45) scale(1 1.17)" font-size="17.5" stroke="#000" stroke-width="0.3" text-anchor="end">WDZ2</text>
</g>
<g>
<rect x="1058" y="522.67" width="180" height="390.33" fill="#fff" stroke="none"/>
<line x1="1083.33" y1="686.67" x2="1083.33" y2="697" stroke="#7FC97F" stroke-width="1.86"/>
<line x1="1083.33" y1="735" x2="1083.33" y2="756" stroke="#7FC97F" stroke-width="1.86"/>
<rect x="1067" y="697" width="32.67" height="38" fill="#7FC97F" fill-opacity="0.5" stroke="#7FC97F" stroke-width="1.86"/>
<line x1="1067" y1="719.33" x2="1099.67" y2="719.33" stroke="#7FC97F" stroke-width="3.53"/>
<line x1="1126.5" y1="672.33" x2="1126.5" y2="684" stroke="#BEAED4" stroke-width="1.86"/>
<line x1="1126.5" y1="727" x2="1126.5" y2="777.67" stroke="#BEAED4" stroke-width="1.86"/>
<rect x="1110" y="684" width="33" height="43" fill="#BEAED4" fill-opacity="0.5" stroke="#BEAED4" stroke-width="1.86"/>
<line x1="1110" y1="692" x2="1143" y2="692" stroke="#BEAED4" stroke-width="3.53"/>
<line x1="1169.17" y1="657.67" x2="1169.17" y2="702.67" stroke="#FDC086" stroke-width="1.86"/>
<line x1="1169.17" y1="734" x2="1169.17" y2="776.67" stroke="#FDC086" stroke-width="1.86"/>
<rect x="1152.67" y="702.67" width="33" height="31.33" fill="#FDC086" fill-opacity="0.5" stroke="#FDC086" stroke-width="1.86"/>
<line x1="1152.67" y1="707" x2="1185.67" y2="707" stroke="#FDC086" stroke-width="3.53"/>
<line x1="1212.17" y1="792.33" x2="1212.17" y2="835" stroke="#386CB0" stroke-width="1.86"/>
<line x1="1212.17" y1="889.33" x2="1212.17" y2="897.33" stroke="#386CB0" stroke-width="1.86"/>
<rect x="1195.67" y="835" width="33" height="54.33" fill="#386CB0" fill-opacity="0.5" stroke="#386CB0" stroke-width="1.86"/>
<line x1="1195.67" y1="858.33" x2="1228.67" y2="858.33" stroke="#386CB0" stroke-width="3.53"/>
<circle cx="1070" cy="686" r="3.53" fill="#7FC97F" fill-opacity="0.8"/><circle cx="1070" cy="686" r="2.05" fill="#7FC97F" fill-opacity="0.55"/>
<circle cx="1070" cy="690" r="3.53" fill="#7FC97F" fill-opacity="0.8"/><circle cx="1070" cy="690" r="2.05" fill="#7FC97F" fill-opacity="0.55"/>
<circle cx="1074" cy="719" r="3.53" fill="#7FC97F" fill-opacity="0.8"/><circle cx="1074" cy="719" r="2.05" fill="#7FC97F" fill-opacity="0.55"/>
<circle cx="1095.67" cy="720.33" r="3.53" fill="#7FC97F" fill-opacity="0.8"/><circle cx="1095.67" cy="720.33" r="2.05" fill="#7FC97F" fill-opacity="0.55"/>
<circle cx="1081.67" cy="739.67" r="3.53" fill="#7FC97F" fill-opacity="0.8"/><circle cx="1081.67" cy="739.67" r="2.05" fill="#7FC97F" fill-opacity="0.55"/>
<circle cx="1099.33" cy="756.33" r="3.53" fill="#7FC97F" fill-opacity="0.8"/><circle cx="1099.33" cy="756.33" r="2.05" fill="#7FC97F" fill-opacity="0.55"/>
<circle cx="1140.33" cy="671.67" r="3.53" fill="#BEAED4" fill-opacity="0.8"/><circle cx="1140.33" cy="671.67" r="2.05" fill="#BEAED4" fill-opacity="0.55"/>
<circle cx="1112" cy="684.33" r="3.53" fill="#BEAED4" fill-opacity="0.8"/><circle cx="1112" cy="684.33" r="2.05" fill="#BEAED4" fill-opacity="0.55"/>
<circle cx="1137" cy="684.33" r="3.53" fill="#BEAED4" fill-opacity="0.8"/><circle cx="1137" cy="684.33" r="2.05" fill="#BEAED4" fill-opacity="0.55"/>
<circle cx="1114" cy="700.33" r="3.53" fill="#BEAED4" fill-opacity="0.8"/><circle cx="1114" cy="700.33" r="2.05" fill="#BEAED4" fill-opacity="0.55"/>
<circle cx="1137.67" cy="735.67" r="3.53" fill="#BEAED4" fill-opacity="0.8"/><circle cx="1137.67" cy="735.67" r="2.05" fill="#BEAED4" fill-opacity="0.55"/>
<circle cx="1134.67" cy="778" r="3.53" fill="#BEAED4" fill-opacity="0.8"/><circle cx="1134.67" cy="778" r="2.05" fill="#BEAED4" fill-opacity="0.55"/>
<circle cx="1174.67" cy="657.33" r="3.53" fill="#FDC086" fill-opacity="0.8"/><circle cx="1174.67" cy="657.33" r="2.05" fill="#FDC086" fill-opacity="0.55"/>
<circle cx="1185.67" cy="701.33" r="3.53" fill="#FDC086" fill-opacity="0.8"/><circle cx="1185.67" cy="701.33" r="2.05" fill="#FDC086" fill-opacity="0.55"/>
<circle cx="1156.67" cy="709.33" r="3.53" fill="#FDC086" fill-opacity="0.8"/><circle cx="1156.67" cy="709.33" r="2.05" fill="#FDC086" fill-opacity="0.55"/>
<circle cx="1173.33" cy="705.67" r="3.53" fill="#FDC086" fill-opacity="0.8"/><circle cx="1173.33" cy="705.67" r="2.05" fill="#FDC086" fill-opacity="0.55"/>
<circle cx="1179.67" cy="742" r="3.53" fill="#FDC086" fill-opacity="0.8"/><circle cx="1179.67" cy="742" r="2.05" fill="#FDC086" fill-opacity="0.55"/>
<circle cx="1160.33" cy="777" r="3.53" fill="#FDC086" fill-opacity="0.8"/><circle cx="1160.33" cy="777" r="2.05" fill="#FDC086" fill-opacity="0.55"/>
<circle cx="1214.67" cy="792.33" r="3.53" fill="#386CB0" fill-opacity="0.8"/><circle cx="1214.67" cy="792.33" r="2.05" fill="#386CB0" fill-opacity="0.55"/>
<circle cx="1223" cy="832.67" r="3.53" fill="#386CB0" fill-opacity="0.8"/><circle cx="1223" cy="832.67" r="2.05" fill="#386CB0" fill-opacity="0.55"/>
<circle cx="1217.33" cy="841" r="3.53" fill="#386CB0" fill-opacity="0.8"/><circle cx="1217.33" cy="841" r="2.05" fill="#386CB0" fill-opacity="0.55"/>
<circle cx="1218.67" cy="875.67" r="3.53" fill="#386CB0" fill-opacity="0.8"/><circle cx="1218.67" cy="875.67" r="2.05" fill="#386CB0" fill-opacity="0.55"/>
<circle cx="1218" cy="894" r="3.53" fill="#386CB0" fill-opacity="0.8"/><circle cx="1218" cy="894" r="2.05" fill="#386CB0" fill-opacity="0.55"/>
<circle cx="1227.33" cy="897.67" r="3.53" fill="#386CB0" fill-opacity="0.8"/><circle cx="1227.33" cy="897.67" r="2.05" fill="#386CB0" fill-opacity="0.55"/>
<line x1="1169" y1="585" x2="1213" y2="585" stroke="#000" stroke-width="1.9"/>
<text x="1191" y="578.7" font-size="14" stroke="#000" stroke-width="0.3" text-anchor="middle">*</text>
<line x1="1125.67" y1="609" x2="1213" y2="609" stroke="#000" stroke-width="1.9"/>
<text x="1169.33" y="602.7" font-size="14" stroke="#000" stroke-width="0.3" text-anchor="middle">**</text>
<line x1="1082.67" y1="633.33" x2="1213" y2="633.33" stroke="#000" stroke-width="1.9"/>
<text x="1147.83" y="627.03" font-size="14" stroke="#000" stroke-width="0.3" text-anchor="middle">*</text>
<text x="1148" y="555.33" font-size="15.62" stroke="#000" stroke-width="0.3" text-anchor="middle">p = 0.0037</text>
<rect x="1058" y="522.67" width="180" height="390.33" fill="none" stroke="#333" stroke-width="1.3"/>
<rect x="1058" y="496" width="180" height="26.67" fill="#D9D9D9" stroke="#333" stroke-width="1.3"/>
<text x="1148" y="514.26" font-size="14.04" stroke="#1A1A1A" stroke-width="0.25" text-anchor="middle" font-weight="bold" fill="#1A1A1A">Observed_species</text>
<line x1="1052.88" y1="527.33" x2="1058" y2="527.33" stroke="#2A2A2A" stroke-width="1.58"/>
<text x="1049.91" y="531.52" font-size="12.37" stroke="#000" stroke-width="0.3" text-anchor="end">2500</text>
<line x1="1052.88" y1="666" x2="1058" y2="666" stroke="#2A2A2A" stroke-width="1.58"/>
<text x="1049.91" y="670.18" font-size="12.37" stroke="#000" stroke-width="0.3" text-anchor="end">2000</text>
<line x1="1052.88" y1="805" x2="1058" y2="805" stroke="#2A2A2A" stroke-width="1.58"/>
<text x="1049.91" y="809.18" font-size="12.37" stroke="#000" stroke-width="0.3" text-anchor="end">1500</text>
<text transform="translate(1092.63 932.4) rotate(-45) scale(1 1.17)" font-size="17.5" stroke="#000" stroke-width="0.3" text-anchor="end">WAZ2</text>
<text transform="translate(1135.8 932.4) rotate(-45) scale(1 1.17)" font-size="17.5" stroke="#000" stroke-width="0.3" text-anchor="end">WBZ2</text>
<text transform="translate(1178.47 932.4) rotate(-45) scale(1 1.17)" font-size="17.5" stroke="#000" stroke-width="0.3" text-anchor="end">WCZ2</text>
<text transform="translate(1221.47 932.4) rotate(-45) scale(1 1.17)" font-size="17.5" stroke="#000" stroke-width="0.3" text-anchor="end">WDZ2</text>
</g>
<g>
<rect x="1276" y="522.67" width="187.33" height="390.33" fill="#fff" stroke="none"/>
<line x1="1302.5" y1="681" x2="1302.5" y2="701" stroke="#7FC97F" stroke-width="1.86"/>
<line x1="1302.5" y1="732.67" x2="1302.5" y2="750" stroke="#7FC97F" stroke-width="1.86"/>
<rect x="1285.33" y="701" width="34.33" height="31.67" fill="#7FC97F" fill-opacity="0.5" stroke="#7FC97F" stroke-width="1.86"/>
<line x1="1285.33" y1="716" x2="1319.67" y2="716" stroke="#7FC97F" stroke-width="3.53"/>
<line x1="1347" y1="657.33" x2="1347" y2="693" stroke="#BEAED4" stroke-width="1.86"/>
<line x1="1347" y1="756" x2="1347" y2="766.67" stroke="#BEAED4" stroke-width="1.86"/>
<rect x="1330" y="693" width="34" height="63" fill="#BEAED4" fill-opacity="0.5" stroke="#BEAED4" stroke-width="1.86"/>
<line x1="1330" y1="716" x2="1364" y2="716" stroke="#BEAED4" stroke-width="3.53"/>
<line x1="1391.67" y1="665" x2="1391.67" y2="676.33" stroke="#FDC086" stroke-width="1.86"/>
<line x1="1391.67" y1="748.67" x2="1391.67" y2="759.33" stroke="#FDC086" stroke-width="1.86"/>
<rect x="1374.67" y="676.33" width="34" height="72.33" fill="#FDC086" fill-opacity="0.5" stroke="#FDC086" stroke-width="1.86"/>
<line x1="1374.67" y1="720" x2="1408.67" y2="720" stroke="#FDC086" stroke-width="3.53"/>
<line x1="1436.67" y1="798.33" x2="1436.67" y2="805.67" stroke="#386CB0" stroke-width="1.86"/>
<line x1="1436.67" y1="865" x2="1436.67" y2="897.33" stroke="#386CB0" stroke-width="1.86"/>
<rect x="1419.67" y="805.67" width="34" height="59.33" fill="#386CB0" fill-opacity="0.5" stroke="#386CB0" stroke-width="1.86"/>
<line x1="1419.67" y1="838.67" x2="1453.67" y2="838.67" stroke="#386CB0" stroke-width="3.53"/>
<circle cx="1313.67" cy="680.67" r="3.53" fill="#7FC97F" fill-opacity="0.8"/><circle cx="1313.67" cy="680.67" r="2.05" fill="#7FC97F" fill-opacity="0.55"/>
<circle cx="1319" cy="698.67" r="3.53" fill="#7FC97F" fill-opacity="0.8"/><circle cx="1319" cy="698.67" r="2.05" fill="#7FC97F" fill-opacity="0.55"/>
<circle cx="1286" cy="708" r="3.53" fill="#7FC97F" fill-opacity="0.8"/><circle cx="1286" cy="708" r="2.05" fill="#7FC97F" fill-opacity="0.55"/>
<circle cx="1313.33" cy="724.33" r="3.53" fill="#7FC97F" fill-opacity="0.8"/><circle cx="1313.33" cy="724.33" r="2.05" fill="#7FC97F" fill-opacity="0.55"/>
<circle cx="1314" cy="735.67" r="3.53" fill="#7FC97F" fill-opacity="0.8"/><circle cx="1314" cy="735.67" r="2.05" fill="#7FC97F" fill-opacity="0.55"/>
<circle cx="1296.33" cy="750.67" r="3.53" fill="#7FC97F" fill-opacity="0.8"/><circle cx="1296.33" cy="750.67" r="2.05" fill="#7FC97F" fill-opacity="0.55"/>
<circle cx="1350.67" cy="657" r="3.53" fill="#BEAED4" fill-opacity="0.8"/><circle cx="1350.67" cy="657" r="2.05" fill="#BEAED4" fill-opacity="0.55"/>
<circle cx="1364" cy="688.67" r="3.53" fill="#BEAED4" fill-opacity="0.8"/><circle cx="1364" cy="688.67" r="2.05" fill="#BEAED4" fill-opacity="0.55"/>
<circle cx="1363.33" cy="707.33" r="3.53" fill="#BEAED4" fill-opacity="0.8"/><circle cx="1363.33" cy="707.33" r="2.05" fill="#BEAED4" fill-opacity="0.55"/>
<circle cx="1329.67" cy="724.67" r="3.53" fill="#BEAED4" fill-opacity="0.8"/><circle cx="1329.67" cy="724.67" r="2.05" fill="#BEAED4" fill-opacity="0.55"/>
<circle cx="1349" cy="766.67" r="3.53" fill="#BEAED4" fill-opacity="0.8"/><circle cx="1349" cy="766.67" r="2.05" fill="#BEAED4" fill-opacity="0.55"/>
<circle cx="1358.33" cy="768" r="3.53" fill="#BEAED4" fill-opacity="0.8"/><circle cx="1358.33" cy="768" r="2.05" fill="#BEAED4" fill-opacity="0.55"/>
<circle cx="1401.67" cy="664.67" r="3.53" fill="#FDC086" fill-opacity="0.8"/><circle cx="1401.67" cy="664.67" r="2.05" fill="#FDC086" fill-opacity="0.55"/>
<circle cx="1407.67" cy="671" r="3.53" fill="#FDC086" fill-opacity="0.8"/><circle cx="1407.67" cy="671" r="2.05" fill="#FDC086" fill-opacity="0.55"/>
<circle cx="1383.67" cy="692.33" r="3.53" fill="#FDC086" fill-opacity="0.8"/><circle cx="1383.67" cy="692.33" r="2.05" fill="#FDC086" fill-opacity="0.55"/>
<circle cx="1382" cy="747" r="3.53" fill="#FDC086" fill-opacity="0.8"/><circle cx="1382" cy="747" r="2.05" fill="#FDC086" fill-opacity="0.55"/>
<circle cx="1399.67" cy="748.67" r="3.53" fill="#FDC086" fill-opacity="0.8"/><circle cx="1399.67" cy="748.67" r="2.05" fill="#FDC086" fill-opacity="0.55"/>
<circle cx="1389.33" cy="759" r="3.53" fill="#FDC086" fill-opacity="0.8"/><circle cx="1389.33" cy="759" r="2.05" fill="#FDC086" fill-opacity="0.55"/>
<circle cx="1423.33" cy="798.33" r="3.53" fill="#386CB0" fill-opacity="0.8"/><circle cx="1423.33" cy="798.33" r="2.05" fill="#386CB0" fill-opacity="0.55"/>
<circle cx="1447.33" cy="802.33" r="3.53" fill="#386CB0" fill-opacity="0.8"/><circle cx="1447.33" cy="802.33" r="2.05" fill="#386CB0" fill-opacity="0.55"/>
<circle cx="1439.67" cy="815.33" r="3.53" fill="#386CB0" fill-opacity="0.8"/><circle cx="1439.67" cy="815.33" r="2.05" fill="#386CB0" fill-opacity="0.55"/>
<circle cx="1426" cy="861.67" r="3.53" fill="#386CB0" fill-opacity="0.8"/><circle cx="1426" cy="861.67" r="2.05" fill="#386CB0" fill-opacity="0.55"/>
<circle cx="1444" cy="866" r="3.53" fill="#386CB0" fill-opacity="0.8"/><circle cx="1444" cy="866" r="2.05" fill="#386CB0" fill-opacity="0.55"/>
<circle cx="1451" cy="898" r="3.53" fill="#386CB0" fill-opacity="0.8"/><circle cx="1451" cy="898" r="2.05" fill="#386CB0" fill-opacity="0.55"/>
<line x1="1391.33" y1="585" x2="1437" y2="585" stroke="#000" stroke-width="1.9"/>
<text x="1414.17" y="578.7" font-size="14" stroke="#000" stroke-width="0.3" text-anchor="middle">*</text>
<line x1="1346.67" y1="609" x2="1437" y2="609" stroke="#000" stroke-width="1.9"/>
<text x="1391.83" y="602.7" font-size="14" stroke="#000" stroke-width="0.3" text-anchor="middle">*</text>
<line x1="1302" y1="633.33" x2="1437" y2="633.33" stroke="#000" stroke-width="1.9"/>
<text x="1369.5" y="627.03" font-size="14" stroke="#000" stroke-width="0.3" text-anchor="middle">*</text>
<text x="1369.67" y="555.33" font-size="15.62" stroke="#000" stroke-width="0.3" text-anchor="middle">p = 0.0046</text>
<rect x="1276" y="522.67" width="187.33" height="390.33" fill="none" stroke="#333" stroke-width="1.3"/>
<rect x="1276" y="496" width="187.33" height="26.67" fill="#D9D9D9" stroke="#333" stroke-width="1.3"/>
<text x="1369.67" y="514.26" font-size="14.04" stroke="#1A1A1A" stroke-width="0.25" text-anchor="middle" font-weight="bold" fill="#1A1A1A">Faith_pd</text>
<line x1="1270.88" y1="596.67" x2="1276" y2="596.67" stroke="#2A2A2A" stroke-width="1.58"/>
<text x="1267.91" y="600.85" font-size="12.37" stroke="#000" stroke-width="0.3" text-anchor="end">160</text>
<line x1="1270.88" y1="697.33" x2="1276" y2="697.33" stroke="#2A2A2A" stroke-width="1.58"/>
<text x="1267.91" y="701.52" font-size="12.37" stroke="#000" stroke-width="0.3" text-anchor="end">140</text>
<line x1="1270.88" y1="797.67" x2="1276" y2="797.67" stroke="#2A2A2A" stroke-width="1.58"/>
<text x="1267.91" y="801.85" font-size="12.37" stroke="#000" stroke-width="0.3" text-anchor="end">120</text>
<line x1="1270.88" y1="898" x2="1276" y2="898" stroke="#2A2A2A" stroke-width="1.58"/>
<text x="1267.91" y="902.18" font-size="12.37" stroke="#000" stroke-width="0.3" text-anchor="end">100</text>
<text transform="translate(1311.8 932.4) rotate(-45) scale(1 1.17)" font-size="17.5" stroke="#000" stroke-width="0.3" text-anchor="end">WAZ2</text>
<text transform="translate(1356.3 932.4) rotate(-45) scale(1 1.17)" font-size="17.5" stroke="#000" stroke-width="0.3" text-anchor="end">WBZ2</text>
<text transform="translate(1400.97 932.4) rotate(-45) scale(1 1.17)" font-size="17.5" stroke="#000" stroke-width="0.3" text-anchor="end">WCZ2</text>
<text transform="translate(1445.97 932.4) rotate(-45) scale(1 1.17)" font-size="17.5" stroke="#000" stroke-width="0.3" text-anchor="end">WDZ2</text>
</g>
<g>
<rect x="1511.67" y="522.67" width="176.67" height="390.33" fill="#fff" stroke="none"/>
<line x1="1536.67" y1="657.33" x2="1536.67" y2="715.33" stroke="#7FC97F" stroke-width="1.86"/>
<line x1="1536.67" y1="804" x2="1536.67" y2="828.67" stroke="#7FC97F" stroke-width="1.86"/>
<rect x="1520.67" y="715.33" width="32" height="88.67" fill="#7FC97F" fill-opacity="0.5" stroke="#7FC97F" stroke-width="1.86"/>
<line x1="1520.67" y1="730.67" x2="1552.67" y2="730.67" stroke="#7FC97F" stroke-width="3.53"/>
<line x1="1579" y1="791.67" x2="1579" y2="792.67" stroke="#BEAED4" stroke-width="1.86"/>
<rect x="1563" y="792.67" width="32" height="32" fill="#BEAED4" fill-opacity="0.5" stroke="#BEAED4" stroke-width="1.86"/>
<line x1="1563" y1="802.67" x2="1595" y2="802.67" stroke="#BEAED4" stroke-width="3.53"/>
<line x1="1620.83" y1="585.67" x2="1620.83" y2="691.33" stroke="#FDC086" stroke-width="1.86"/>
<line x1="1620.83" y1="838.33" x2="1620.83" y2="897.67" stroke="#FDC086" stroke-width="1.86"/>
<rect x="1604.67" y="691.33" width="32.33" height="147" fill="#FDC086" fill-opacity="0.5" stroke="#FDC086" stroke-width="1.86"/>
<line x1="1604.67" y1="773.33" x2="1637" y2="773.33" stroke="#FDC086" stroke-width="3.53"/>
<line x1="1663.17" y1="603.33" x2="1663.17" y2="683.67" stroke="#386CB0" stroke-width="1.86"/>
<line x1="1663.17" y1="744.33" x2="1663.17" y2="788.33" stroke="#386CB0" stroke-width="1.86"/>
<rect x="1647" y="683.67" width="32.33" height="60.67" fill="#386CB0" fill-opacity="0.5" stroke="#386CB0" stroke-width="1.86"/>
<line x1="1647" y1="702.67" x2="1679.33" y2="702.67" stroke="#386CB0" stroke-width="3.53"/>
<circle cx="1546.33" cy="656.67" r="3.53" fill="#7FC97F" fill-opacity="0.8"/><circle cx="1546.33" cy="656.67" r="2.05" fill="#7FC97F" fill-opacity="0.55"/>
<circle cx="1530.33" cy="713.33" r="3.53" fill="#7FC97F" fill-opacity="0.8"/><circle cx="1530.33" cy="713.33" r="2.05" fill="#7FC97F" fill-opacity="0.55"/>
<circle cx="1537.67" cy="720.67" r="3.53" fill="#7FC97F" fill-opacity="0.8"/><circle cx="1537.67" cy="720.67" r="2.05" fill="#7FC97F" fill-opacity="0.55"/>
<circle cx="1530.33" cy="741" r="3.53" fill="#7FC97F" fill-opacity="0.8"/><circle cx="1530.33" cy="741" r="2.05" fill="#7FC97F" fill-opacity="0.55"/>
<circle cx="1531.67" cy="825.67" r="3.53" fill="#7FC97F" fill-opacity="0.8"/><circle cx="1531.67" cy="825.67" r="2.05" fill="#7FC97F" fill-opacity="0.55"/>
<circle cx="1548.33" cy="829" r="3.53" fill="#7FC97F" fill-opacity="0.8"/><circle cx="1548.33" cy="829" r="2.05" fill="#7FC97F" fill-opacity="0.55"/>
<circle cx="1568" cy="744" r="3.53" fill="#BEAED4" fill-opacity="0.8"/><circle cx="1568" cy="744" r="2.05" fill="#BEAED4" fill-opacity="0.55"/>
<circle cx="1566" cy="791" r="3.53" fill="#BEAED4" fill-opacity="0.8"/><circle cx="1566" cy="791" r="2.05" fill="#BEAED4" fill-opacity="0.55"/>
<circle cx="1567.67" cy="797.33" r="3.53" fill="#BEAED4" fill-opacity="0.8"/><circle cx="1567.67" cy="797.33" r="2.05" fill="#BEAED4" fill-opacity="0.55"/>
<circle cx="1566" cy="804" r="3.53" fill="#BEAED4" fill-opacity="0.8"/><circle cx="1566" cy="804" r="2.05" fill="#BEAED4" fill-opacity="0.55"/>
<circle cx="1566.33" cy="808.33" r="3.53" fill="#BEAED4" fill-opacity="0.8"/><circle cx="1566.33" cy="808.33" r="2.05" fill="#BEAED4" fill-opacity="0.55"/>
<circle cx="1569.67" cy="830" r="3.53" fill="#BEAED4" fill-opacity="0.8"/><circle cx="1569.67" cy="830" r="2.05" fill="#BEAED4" fill-opacity="0.55"/>
<circle cx="1580.67" cy="832" r="3.53" fill="#BEAED4" fill-opacity="0.8"/><circle cx="1580.67" cy="832" r="2.05" fill="#BEAED4" fill-opacity="0.55"/>
<circle cx="1608.33" cy="585.67" r="3.53" fill="#FDC086" fill-opacity="0.8"/><circle cx="1608.33" cy="585.67" r="2.05" fill="#FDC086" fill-opacity="0.55"/>
<circle cx="1631" cy="679.33" r="3.53" fill="#FDC086" fill-opacity="0.8"/><circle cx="1631" cy="679.33" r="2.05" fill="#FDC086" fill-opacity="0.55"/>
<circle cx="1636" cy="728" r="3.53" fill="#FDC086" fill-opacity="0.8"/><circle cx="1636" cy="728" r="2.05" fill="#FDC086" fill-opacity="0.55"/>
<circle cx="1635.67" cy="819.67" r="3.53" fill="#FDC086" fill-opacity="0.8"/><circle cx="1635.67" cy="819.67" r="2.05" fill="#FDC086" fill-opacity="0.55"/>
<circle cx="1608.33" cy="844.33" r="3.53" fill="#FDC086" fill-opacity="0.8"/><circle cx="1608.33" cy="844.33" r="2.05" fill="#FDC086" fill-opacity="0.55"/>
<circle cx="1635" cy="897.67" r="3.53" fill="#FDC086" fill-opacity="0.8"/><circle cx="1635" cy="897.67" r="2.05" fill="#FDC086" fill-opacity="0.55"/>
<circle cx="1678.67" cy="603.33" r="3.53" fill="#386CB0" fill-opacity="0.8"/><circle cx="1678.67" cy="603.33" r="2.05" fill="#386CB0" fill-opacity="0.55"/>
<circle cx="1653.67" cy="679" r="3.53" fill="#386CB0" fill-opacity="0.8"/><circle cx="1653.67" cy="679" r="2.05" fill="#386CB0" fill-opacity="0.55"/>
<circle cx="1658" cy="699" r="3.53" fill="#386CB0" fill-opacity="0.8"/><circle cx="1658" cy="699" r="2.05" fill="#386CB0" fill-opacity="0.55"/>
<circle cx="1672.67" cy="707.67" r="3.53" fill="#386CB0" fill-opacity="0.8"/><circle cx="1672.67" cy="707.67" r="2.05" fill="#386CB0" fill-opacity="0.55"/>
<circle cx="1677.67" cy="756.67" r="3.53" fill="#386CB0" fill-opacity="0.8"/><circle cx="1677.67" cy="756.67" r="2.05" fill="#386CB0" fill-opacity="0.55"/>
<circle cx="1660.33" cy="788.33" r="3.53" fill="#386CB0" fill-opacity="0.8"/><circle cx="1660.33" cy="788.33" r="2.05" fill="#386CB0" fill-opacity="0.55"/>
<text x="1600" y="544.67" font-size="15.62" stroke="#000" stroke-width="0.3" text-anchor="middle">p = 0.13</text>
<rect x="1511.67" y="522.67" width="176.67" height="390.33" fill="none" stroke="#333" stroke-width="1.3"/>
<rect x="1511.67" y="496" width="176.67" height="26.67" fill="#D9D9D9" stroke="#333" stroke-width="1.3"/>
<text x="1600" y="514.26" font-size="14.04" stroke="#1A1A1A" stroke-width="0.25" text-anchor="middle" font-weight="bold" fill="#1A1A1A">Goods_coverage</text>
<line x1="1506.55" y1="575.33" x2="1511.67" y2="575.33" stroke="#2A2A2A" stroke-width="1.58"/>
<text x="1503.58" y="579.52" font-size="12.37" stroke="#000" stroke-width="0.3" text-anchor="end">0.998</text>
<line x1="1506.55" y1="636.33" x2="1511.67" y2="636.33" stroke="#2A2A2A" stroke-width="1.58"/>
<text x="1503.58" y="640.52" font-size="12.37" stroke="#000" stroke-width="0.3" text-anchor="end">0.997</text>
<line x1="1506.55" y1="698" x2="1511.67" y2="698" stroke="#2A2A2A" stroke-width="1.58"/>
<text x="1503.58" y="702.18" font-size="12.37" stroke="#000" stroke-width="0.3" text-anchor="end">0.996</text>
<line x1="1506.55" y1="759.33" x2="1511.67" y2="759.33" stroke="#2A2A2A" stroke-width="1.58"/>
<text x="1503.58" y="763.52" font-size="12.37" stroke="#000" stroke-width="0.3" text-anchor="end">0.995</text>
<line x1="1506.55" y1="820.67" x2="1511.67" y2="820.67" stroke="#2A2A2A" stroke-width="1.58"/>
<text x="1503.58" y="824.85" font-size="12.37" stroke="#000" stroke-width="0.3" text-anchor="end">0.994</text>
<line x1="1506.55" y1="882.33" x2="1511.67" y2="882.33" stroke="#2A2A2A" stroke-width="1.58"/>
<text x="1503.58" y="886.52" font-size="12.37" stroke="#000" stroke-width="0.3" text-anchor="end">0.993</text>
<text transform="translate(1545.97 932.4) rotate(-45) scale(1 1.17)" font-size="17.5" stroke="#000" stroke-width="0.3" text-anchor="end">WAZ2</text>
<text transform="translate(1588.3 932.4) rotate(-45) scale(1 1.17)" font-size="17.5" stroke="#000" stroke-width="0.3" text-anchor="end">WBZ2</text>
<text transform="translate(1630.13 932.4) rotate(-45) scale(1 1.17)" font-size="17.5" stroke="#000" stroke-width="0.3" text-anchor="end">WCZ2</text>
<text transform="translate(1672.47 932.4) rotate(-45) scale(1 1.17)" font-size="17.5" stroke="#000" stroke-width="0.3" text-anchor="end">WDZ2</text>
</g>
<text x="816.7" y="584" font-size="19.8" stroke="#000" stroke-width="0.25" font-weight="bold">Groups</text>
<line x1="835.5" y1="598.7" x2="835.5" y2="630.7" stroke="#7FC97F" stroke-width="2.0"/>
<rect x="820.7" y="605" width="29.6" height="19.4" fill="#fff" stroke="#7FC97F" stroke-width="2.0"/>
<line x1="820.7" y1="614.7" x2="850.3" y2="614.7" stroke="#7FC97F" stroke-width="2.0"/>
<circle cx="835.5" cy="614.7" r="3.8" fill="#7FC97F"/>
<text x="865" y="621.1" font-size="19.1" stroke="#000" stroke-width="0.3">WAZ1</text>
<line x1="835.5" y1="636.7" x2="835.5" y2="668.7" stroke="#BEAED4" stroke-width="2.0"/>
<rect x="820.7" y="643" width="29.6" height="19.4" fill="#fff" stroke="#BEAED4" stroke-width="2.0"/>
<line x1="820.7" y1="652.7" x2="850.3" y2="652.7" stroke="#BEAED4" stroke-width="2.0"/>
<circle cx="835.5" cy="652.7" r="3.8" fill="#BEAED4"/>
<text x="865" y="659.1" font-size="19.1" stroke="#000" stroke-width="0.3">WBZ1</text>
<line x1="835.5" y1="674.7" x2="835.5" y2="706.7" stroke="#FDC086" stroke-width="2.0"/>
<rect x="820.7" y="681" width="29.6" height="19.4" fill="#fff" stroke="#FDC086" stroke-width="2.0"/>
<line x1="820.7" y1="690.7" x2="850.3" y2="690.7" stroke="#FDC086" stroke-width="2.0"/>
<circle cx="835.5" cy="690.7" r="3.8" fill="#FDC086"/>
<text x="865" y="697.1" font-size="19.1" stroke="#000" stroke-width="0.3">WCZ1</text>
<line x1="835.5" y1="713" x2="835.5" y2="745" stroke="#386CB0" stroke-width="2.0"/>
<rect x="820.7" y="719.3" width="29.6" height="19.4" fill="#fff" stroke="#386CB0" stroke-width="2.0"/>
<line x1="820.7" y1="729" x2="850.3" y2="729" stroke="#386CB0" stroke-width="2.0"/>
<circle cx="835.5" cy="729" r="3.8" fill="#386CB0"/>
<text x="865" y="735.4" font-size="19.1" stroke="#000" stroke-width="0.3">WDZ1</text>
<text x="1756.7" y="594.3" font-size="18.4" stroke="#000" stroke-width="0.25" font-weight="bold">Groups</text>
<line x1="1774.35" y1="608.2" x2="1774.35" y2="637.2" stroke="#7FC97F" stroke-width="2.0"/>
<rect x="1760.7" y="613.5" width="27.3" height="18.4" fill="#fff" stroke="#7FC97F" stroke-width="2.0"/>
<line x1="1760.7" y1="622.7" x2="1788" y2="622.7" stroke="#7FC97F" stroke-width="2.0"/>
<circle cx="1774.35" cy="622.7" r="3.8" fill="#7FC97F"/>
<text x="1801.7" y="628.86" font-size="18.4" stroke="#000" stroke-width="0.3">WAZ2</text>
<line x1="1774.35" y1="643.8" x2="1774.35" y2="672.8" stroke="#BEAED4" stroke-width="2.0"/>
<rect x="1760.7" y="649.1" width="27.3" height="18.4" fill="#fff" stroke="#BEAED4" stroke-width="2.0"/>
<line x1="1760.7" y1="658.3" x2="1788" y2="658.3" stroke="#BEAED4" stroke-width="2.0"/>
<circle cx="1774.35" cy="658.3" r="3.8" fill="#BEAED4"/>
<text x="1801.7" y="664.46" font-size="18.4" stroke="#000" stroke-width="0.3">WBZ2</text>
<line x1="1774.35" y1="679.2" x2="1774.35" y2="708.2" stroke="#FDC086" stroke-width="2.0"/>
<rect x="1760.7" y="684.5" width="27.3" height="18.4" fill="#fff" stroke="#FDC086" stroke-width="2.0"/>
<line x1="1760.7" y1="693.7" x2="1788" y2="693.7" stroke="#FDC086" stroke-width="2.0"/>
<circle cx="1774.35" cy="693.7" r="3.8" fill="#FDC086"/>
<text x="1801.7" y="699.86" font-size="18.4" stroke="#000" stroke-width="0.3">WCZ2</text>
<line x1="1774.35" y1="714.8" x2="1774.35" y2="743.8" stroke="#386CB0" stroke-width="2.0"/>
<rect x="1760.7" y="720.1" width="27.3" height="18.4" fill="#fff" stroke="#386CB0" stroke-width="2.0"/>
<line x1="1760.7" y1="729.3" x2="1788" y2="729.3" stroke="#386CB0" stroke-width="2.0"/>
<circle cx="1774.35" cy="729.3" r="3.8" fill="#386CB0"/>
<text x="1801.7" y="735.46" font-size="18.4" stroke="#000" stroke-width="0.3">WDZ2</text>
<g>
<clipPath id="cp0"><rect x="81.6" y="1002.3" width="379.8" height="379.2"/></clipPath>
<rect x="81.6" y="1002.3" width="379.8" height="379.2" fill="#fff"/>
<g clip-path="url(#cp0)">
<path d="M528.44,1122.49 L530.91,1127.51 L532.69,1132.9 L533.78,1138.66 L534.18,1144.77 L533.9,1151.2 L532.92,1157.96 L531.25,1165 L528.9,1172.33 L525.88,1179.9 L522.18,1187.72 L517.83,1195.75 L512.83,1203.97 L507.2,1212.36 L500.95,1220.89 L494.1,1229.55 L486.67,1238.31 L478.68,1247.14 L470.15,1256.03 L461.1,1264.94 L451.56,1273.85 L441.56,1282.74 L431.12,1291.59 L420.28,1300.36 L409.05,1309.04 L397.47,1317.6 L385.58,1326.02 L373.4,1334.27 L360.98,1342.33 L348.34,1350.19 L335.51,1357.81 L322.54,1365.18 L309.46,1372.28 L296.3,1379.09 L283.1,1385.59 L269.9,1391.75 L256.74,1397.58 L243.64,1403.04 L230.65,1408.12 L217.79,1412.82 L205.12,1417.11 L192.65,1420.98 L180.43,1424.43 L168.49,1427.45 L156.86,1430.02 L145.57,1432.14 L134.66,1433.81 L124.15,1435.02 L114.07,1435.76 L104.45,1436.03 L95.32,1435.84 L86.71,1435.19 L78.62,1434.06 L71.1,1432.48 L64.15,1430.44 L57.8,1427.95 L52.06,1425.01 L46.95,1421.64 L42.49,1417.84 L38.69,1413.63 L35.55,1409 L33.09,1403.99 L31.31,1398.6 L30.21,1392.84 L29.81,1386.73 L30.1,1380.29 L31.07,1373.54 L32.74,1366.5 L35.09,1359.17 L38.11,1351.59 L41.81,1343.78 L46.16,1335.75 L51.16,1327.53 L56.79,1319.14 L63.04,1310.61 L69.89,1301.95 L77.32,1293.19 L85.31,1284.36 L93.84,1275.47 L102.89,1266.56 L112.43,1257.65 L122.43,1248.76 L132.87,1239.91 L143.72,1231.14 L154.94,1222.46 L166.52,1213.9 L178.41,1205.48 L190.59,1197.23 L203.01,1189.16 L215.66,1181.31 L228.48,1173.69 L241.45,1166.31 L254.53,1159.22 L267.69,1152.41 L280.89,1145.91 L294.09,1139.75 L307.26,1133.92 L320.35,1128.46 L333.35,1123.38 L346.2,1118.68 L358.87,1114.39 L371.34,1110.52 L383.56,1107.06 L395.5,1104.05 L407.13,1101.48 L418.42,1099.35 L429.33,1097.69 L439.84,1096.48 L449.92,1095.74 L459.54,1095.46 L468.67,1095.65 L477.29,1096.31 L485.37,1097.43 L492.9,1099.02 L499.84,1101.06 L506.19,1103.55 L511.93,1106.48 L517.04,1109.86 L521.5,1113.66 L525.3,1117.87 Z" fill="#7FC97F" fill-opacity="0.2" stroke="#7FC97F" stroke-width="1.8" stroke-dasharray="6.3 6.4"/>
<path d="M313.79,1342.53 L311.04,1340.83 L308.45,1338.88 L306.01,1336.68 L303.74,1334.24 L301.64,1331.56 L299.72,1328.65 L297.98,1325.52 L296.42,1322.19 L295.06,1318.64 L293.9,1314.91 L292.93,1310.99 L292.16,1306.9 L291.6,1302.65 L291.24,1298.25 L291.08,1293.71 L291.14,1289.05 L291.4,1284.28 L291.86,1279.41 L292.53,1274.45 L293.4,1269.42 L294.47,1264.33 L295.73,1259.2 L297.19,1254.04 L298.84,1248.86 L300.68,1243.68 L302.69,1238.51 L304.88,1233.37 L307.23,1228.27 L309.75,1223.22 L312.43,1218.24 L315.25,1213.35 L318.21,1208.55 L321.3,1203.86 L324.51,1199.29 L327.84,1194.85 L331.28,1190.56 L334.81,1186.43 L338.43,1182.47 L342.12,1178.69 L345.88,1175.1 L349.7,1171.71 L353.56,1168.53 L357.45,1165.56 L361.37,1162.83 L365.31,1160.32 L369.24,1158.06 L373.17,1156.05 L377.08,1154.29 L380.96,1152.78 L384.8,1151.54 L388.59,1150.56 L392.32,1149.85 L395.97,1149.41 L399.55,1149.24 L403.03,1149.34 L406.41,1149.72 L409.69,1150.36 L412.84,1151.27 L415.86,1152.45 L418.75,1153.89 L421.5,1155.58 L424.1,1157.53 L426.53,1159.73 L428.8,1162.18 L430.9,1164.85 L432.83,1167.76 L434.57,1170.89 L436.12,1174.23 L437.48,1177.77 L438.65,1181.5 L439.61,1185.42 L440.38,1189.51 L440.94,1193.76 L441.3,1198.16 L441.46,1202.7 L441.4,1207.36 L441.15,1212.13 L440.68,1217.01 L440.01,1221.96 L439.14,1226.99 L438.07,1232.08 L436.81,1237.21 L435.35,1242.38 L433.7,1247.55 L431.87,1252.73 L429.85,1257.9 L427.66,1263.04 L425.31,1268.14 L422.79,1273.19 L420.12,1278.17 L417.3,1283.06 L414.33,1287.86 L411.24,1292.55 L408.03,1297.12 L404.7,1301.56 L401.26,1305.85 L397.73,1309.98 L394.11,1313.94 L390.42,1317.72 L386.66,1321.31 L382.84,1324.7 L378.98,1327.89 L375.09,1330.85 L371.17,1333.58 L367.23,1336.09 L363.3,1338.35 L359.37,1340.36 L355.46,1342.12 L351.58,1343.63 L347.74,1344.87 L343.95,1345.85 L340.22,1346.56 L336.57,1347 L332.99,1347.17 L329.51,1347.07 L326.13,1346.69 L322.86,1346.05 L319.7,1345.14 L316.68,1343.97 Z" fill="#BEAED4" fill-opacity="0.2" stroke="#BEAED4" stroke-width="1.8" stroke-dasharray="6.3 6.4"/>
<path d="M254.58,1377.12 L252.69,1375.82 L250.98,1374.24 L249.45,1372.39 L248.09,1370.25 L246.93,1367.85 L245.95,1365.19 L245.17,1362.27 L244.57,1359.1 L244.18,1355.7 L243.98,1352.07 L243.98,1348.22 L244.17,1344.16 L244.56,1339.9 L245.15,1335.46 L245.93,1330.84 L246.9,1326.06 L248.06,1321.14 L249.41,1316.08 L250.94,1310.9 L252.65,1305.61 L254.53,1300.24 L256.58,1294.78 L258.79,1289.27 L261.16,1283.7 L263.67,1278.11 L266.34,1272.5 L269.13,1266.89 L272.06,1261.29 L275.1,1255.73 L278.26,1250.2 L281.52,1244.74 L284.88,1239.36 L288.31,1234.06 L291.83,1228.87 L295.41,1223.8 L299.05,1218.86 L302.73,1214.06 L306.45,1209.43 L310.2,1204.96 L313.96,1200.69 L317.72,1196.6 L321.48,1192.73 L325.23,1189.07 L328.95,1185.64 L332.63,1182.45 L336.27,1179.5 L339.85,1176.81 L343.37,1174.38 L346.81,1172.21 L350.17,1170.33 L353.43,1168.72 L356.59,1167.39 L359.64,1166.35 L362.57,1165.6 L365.37,1165.15 L368.03,1164.98 L370.55,1165.11 L372.93,1165.54 L375.14,1166.25 L377.2,1167.26 L379.08,1168.55 L380.79,1170.13 L382.33,1171.99 L383.68,1174.12 L384.84,1176.53 L385.82,1179.19 L386.61,1182.11 L387.2,1185.27 L387.6,1188.68 L387.79,1192.31 L387.8,1196.16 L387.6,1200.22 L387.21,1204.48 L386.62,1208.92 L385.84,1213.54 L384.87,1218.32 L383.71,1223.24 L382.36,1228.3 L380.83,1233.48 L379.13,1238.76 L377.25,1244.14 L375.2,1249.59 L372.98,1255.11 L370.62,1260.67 L368.1,1266.27 L365.44,1271.88 L362.64,1277.49 L359.72,1283.09 L356.67,1288.65 L353.51,1294.17 L350.25,1299.63 L346.9,1305.02 L343.46,1310.32 L339.94,1315.51 L336.36,1320.58 L332.73,1325.52 L329.04,1330.32 L325.32,1334.95 L321.58,1339.41 L317.82,1343.69 L314.05,1347.77 L310.29,1351.65 L306.54,1355.31 L302.82,1358.74 L299.14,1361.93 L295.5,1364.88 L291.92,1367.57 L288.4,1370 L284.96,1372.16 L281.6,1374.05 L278.34,1375.66 L275.18,1376.99 L272.13,1378.03 L269.21,1378.78 L266.41,1379.23 L263.74,1379.4 L261.22,1379.26 L258.85,1378.84 L256.63,1378.12 Z" fill="#FDC086" fill-opacity="0.2" stroke="#FDC086" stroke-width="1.8" stroke-dasharray="6.3 6.4"/>
<path d="M249.12,1519.1 L243.89,1519.11 L238.62,1518.32 L233.32,1516.73 L227.99,1514.35 L222.66,1511.18 L217.35,1507.24 L212.05,1502.53 L206.8,1497.07 L201.6,1490.87 L196.47,1483.95 L191.42,1476.33 L186.46,1468.03 L181.62,1459.07 L176.9,1449.48 L172.31,1439.27 L167.87,1428.49 L163.6,1417.16 L159.49,1405.31 L155.57,1392.98 L151.84,1380.19 L148.32,1366.99 L145.01,1353.4 L141.93,1339.47 L139.08,1325.23 L136.46,1310.73 L134.09,1296 L131.98,1281.08 L130.12,1266.02 L128.53,1250.85 L127.21,1235.62 L126.16,1220.37 L125.38,1205.14 L124.88,1189.97 L124.66,1174.91 L124.72,1159.99 L125.06,1145.26 L125.67,1130.75 L126.57,1116.51 L127.73,1102.58 L129.17,1088.98 L130.87,1075.77 L132.83,1062.98 L135.05,1050.64 L137.52,1038.78 L140.24,1027.45 L143.19,1016.66 L146.37,1006.45 L149.77,996.85 L153.38,987.88 L157.19,979.57 L161.18,971.94 L165.36,965.01 L169.71,958.8 L174.21,953.33 L178.85,948.61 L183.63,944.66 L188.52,941.48 L193.51,939.09 L198.6,937.49 L203.76,936.69 L208.99,936.68 L214.26,937.48 L219.56,939.06 L224.89,941.45 L230.22,944.61 L235.54,948.55 L240.83,953.26 L246.08,958.72 L251.28,964.92 L256.41,971.84 L261.46,979.46 L266.42,987.76 L271.26,996.72 L275.98,1006.32 L280.57,1016.52 L285.01,1027.3 L289.28,1038.63 L293.39,1050.48 L297.31,1062.81 L301.04,1075.6 L304.56,1088.8 L307.87,1102.39 L310.95,1116.32 L313.81,1130.56 L316.42,1145.06 L318.79,1159.79 L320.9,1174.71 L322.76,1189.77 L324.35,1204.94 L325.67,1220.17 L326.72,1235.42 L327.5,1250.65 L328,1265.82 L328.22,1280.88 L328.16,1295.8 L327.82,1310.53 L327.21,1325.04 L326.32,1339.28 L325.15,1353.22 L323.72,1366.81 L322.01,1380.02 L320.05,1392.81 L317.83,1405.15 L315.36,1417.01 L312.64,1428.35 L309.69,1439.13 L306.51,1449.34 L303.11,1458.94 L299.5,1467.91 L295.7,1476.22 L291.7,1483.85 L287.52,1490.78 L283.17,1496.99 L278.67,1502.46 L274.03,1507.18 L269.25,1511.13 L264.36,1514.31 L259.37,1516.7 L254.28,1518.3 Z" fill="#386CB0" fill-opacity="0.2" stroke="#386CB0" stroke-width="1.8" stroke-dasharray="6.3 6.4"/>
<line x1="276.33" y1="1262.33" x2="256" y2="1188.33" stroke="#BEBEBE" stroke-width="1.1"/>
<line x1="276.33" y1="1262.33" x2="350" y2="1214.33" stroke="#BEBEBE" stroke-width="1.1"/>
<line x1="276.33" y1="1262.33" x2="365.67" y2="1235.33" stroke="#BEBEBE" stroke-width="1.1"/>
<line x1="276.33" y1="1262.33" x2="225.67" y2="1298.67" stroke="#BEBEBE" stroke-width="1.1"/>
<line x1="276.33" y1="1262.33" x2="305" y2="1297" stroke="#BEBEBE" stroke-width="1.1"/>
<line x1="276.33" y1="1262.33" x2="151" y2="1340.67" stroke="#BEBEBE" stroke-width="1.1"/>
<line x1="365" y1="1239.33" x2="343.67" y2="1163.67" stroke="#BEBEBE" stroke-width="1.1"/>
<line x1="365" y1="1239.33" x2="391" y2="1224" stroke="#BEBEBE" stroke-width="1.1"/>
<line x1="365" y1="1239.33" x2="392.67" y2="1240" stroke="#BEBEBE" stroke-width="1.1"/>
<line x1="365" y1="1239.33" x2="373.33" y2="1250" stroke="#BEBEBE" stroke-width="1.1"/>
<line x1="365" y1="1239.33" x2="338.33" y2="1279" stroke="#BEBEBE" stroke-width="1.1"/>
<line x1="365" y1="1239.33" x2="345.33" y2="1278" stroke="#BEBEBE" stroke-width="1.1"/>
<line x1="316" y1="1269" x2="361.33" y2="1204.33" stroke="#BEBEBE" stroke-width="1.1"/>
<line x1="316" y1="1269" x2="329.33" y2="1255" stroke="#BEBEBE" stroke-width="1.1"/>
<line x1="316" y1="1269" x2="289.33" y2="1262.33" stroke="#BEBEBE" stroke-width="1.1"/>
<line x1="316" y1="1269" x2="298.33" y2="1279" stroke="#BEBEBE" stroke-width="1.1"/>
<line x1="316" y1="1269" x2="318.67" y2="1290" stroke="#BEBEBE" stroke-width="1.1"/>
<line x1="316" y1="1269" x2="302.67" y2="1315.67" stroke="#BEBEBE" stroke-width="1.1"/>
<line x1="224" y1="1209.33" x2="181.33" y2="1043.33" stroke="#BEBEBE" stroke-width="1.1"/>
<line x1="224" y1="1209.33" x2="251" y2="1124.33" stroke="#BEBEBE" stroke-width="1.1"/>
<line x1="224" y1="1209.33" x2="190.33" y2="1255" stroke="#BEBEBE" stroke-width="1.1"/>
<line x1="224" y1="1209.33" x2="265" y2="1246.67" stroke="#BEBEBE" stroke-width="1.1"/>
<line x1="224" y1="1209.33" x2="243.67" y2="1284.33" stroke="#BEBEBE" stroke-width="1.1"/>
<line x1="224" y1="1209.33" x2="212.33" y2="1299" stroke="#BEBEBE" stroke-width="1.1"/>
<rect x="252.35" y="1184.68" width="7.3" height="7.3" fill="#7FC97F"/>
<rect x="346.35" y="1210.68" width="7.3" height="7.3" fill="#7FC97F"/>
<rect x="362.02" y="1231.68" width="7.3" height="7.3" fill="#7FC97F"/>
<rect x="222.02" y="1295.02" width="7.3" height="7.3" fill="#7FC97F"/>
<rect x="301.35" y="1293.35" width="7.3" height="7.3" fill="#7FC97F"/>
<rect x="147.35" y="1337.02" width="7.3" height="7.3" fill="#7FC97F"/>
<circle cx="343.67" cy="1163.67" r="3.7" fill="#BEAED4"/>
<circle cx="391" cy="1224" r="3.7" fill="#BEAED4"/>
<circle cx="392.67" cy="1240" r="3.7" fill="#BEAED4"/>
<circle cx="373.33" cy="1250" r="3.7" fill="#BEAED4"/>
<circle cx="338.33" cy="1279" r="3.7" fill="#BEAED4"/>
<circle cx="345.33" cy="1278" r="3.7" fill="#BEAED4"/>
<path d="M361.33,1199.13 L366.13,1207.23 L356.53,1207.23 Z" fill="#FDC086"/>
<path d="M329.33,1249.8 L334.13,1257.9 L324.53,1257.9 Z" fill="#FDC086"/>
<path d="M289.33,1257.13 L294.13,1265.23 L284.53,1265.23 Z" fill="#FDC086"/>
<path d="M298.33,1273.8 L303.13,1281.9 L293.53,1281.9 Z" fill="#FDC086"/>
<path d="M318.67,1284.8 L323.47,1292.9 L313.87,1292.9 Z" fill="#FDC086"/>
<path d="M302.67,1310.47 L307.47,1318.57 L297.87,1318.57 Z" fill="#FDC086"/>
<path d="M181.33,1039.28 L185.38,1043.33 L181.33,1047.38 L177.28,1043.33 Z" fill="#386CB0"/>
<path d="M251,1120.28 L255.05,1124.33 L251,1128.38 L246.95,1124.33 Z" fill="#386CB0"/>
<path d="M190.33,1250.95 L194.38,1255 L190.33,1259.05 L186.28,1255 Z" fill="#386CB0"/>
<path d="M265,1242.62 L269.05,1246.67 L265,1250.72 L260.95,1246.67 Z" fill="#386CB0"/>
<path d="M243.67,1280.28 L247.72,1284.33 L243.67,1288.38 L239.62,1284.33 Z" fill="#386CB0"/>
<path d="M212.33,1294.95 L216.38,1299 L212.33,1303.05 L208.28,1299 Z" fill="#386CB0"/>
</g>
<rect x="81.6" y="1002.3" width="379.8" height="379.2" fill="none" stroke="#5E5E5E" stroke-width="1.35"/>
<line x1="111.67" y1="1381.5" x2="111.67" y2="1385" stroke="#333" stroke-width="1.6"/>
<text x="111.67" y="1397.8" font-size="12.2" stroke="#1A1A1A" stroke-width="0.3" text-anchor="middle" fill="#1A1A1A">−0.4</text>
<line x1="203" y1="1381.5" x2="203" y2="1385" stroke="#333" stroke-width="1.6"/>
<text x="203" y="1397.8" font-size="12.2" stroke="#1A1A1A" stroke-width="0.3" text-anchor="middle" fill="#1A1A1A">−0.2</text>
<line x1="294.67" y1="1381.5" x2="294.67" y2="1385" stroke="#333" stroke-width="1.6"/>
<text x="294.67" y="1397.8" font-size="12.2" stroke="#1A1A1A" stroke-width="0.3" text-anchor="middle" fill="#1A1A1A">0.0</text>
<line x1="386.33" y1="1381.5" x2="386.33" y2="1385" stroke="#333" stroke-width="1.6"/>
<text x="386.33" y="1397.8" font-size="12.2" stroke="#1A1A1A" stroke-width="0.3" text-anchor="middle" fill="#1A1A1A">0.2</text>
<line x1="78.1" y1="1016" x2="81.6" y2="1016" stroke="#333" stroke-width="1.6"/>
<text x="75.1" y="1021" font-size="12.2" stroke="#1A1A1A" stroke-width="0.3" text-anchor="end" fill="#1A1A1A">0.50</text>
<line x1="78.1" y1="1130.33" x2="81.6" y2="1130.33" stroke="#333" stroke-width="1.6"/>
<text x="75.1" y="1135.33" font-size="12.2" stroke="#1A1A1A" stroke-width="0.3" text-anchor="end" fill="#1A1A1A">0.25</text>
<line x1="78.1" y1="1245" x2="81.6" y2="1245" stroke="#333" stroke-width="1.6"/>
<text x="75.1" y="1250" font-size="12.2" stroke="#1A1A1A" stroke-width="0.3" text-anchor="end" fill="#1A1A1A">0.00</text>
<line x1="78.1" y1="1359.33" x2="81.6" y2="1359.33" stroke="#333" stroke-width="1.6"/>
<text x="75.1" y="1364.33" font-size="12.2" stroke="#1A1A1A" stroke-width="0.3" text-anchor="end" fill="#1A1A1A">−0.25</text>
<text x="271.5" y="1414.5" font-size="14.8" stroke="#000" stroke-width="0.3" text-anchor="middle">Axis 1 [6.6%]</text>
<text x="37" y="1191.9" font-size="14.8" stroke="#000" stroke-width="0.3" text-anchor="middle" transform="rotate(-90 37 1191.9)">Axis 2 [6%]</text>
</g>
<g>
<clipPath id="cp1"><rect x="535.5" y="998.6" width="386" height="385.8"/></clipPath>
<rect x="535.5" y="998.6" width="386" height="385.8" fill="#fff"/>
<g clip-path="url(#cp1)">
<path d="M847.33,1344.87 L842.47,1349.78 L837.15,1354.25 L831.39,1358.26 L825.2,1361.81 L818.59,1364.88 L811.59,1367.48 L804.21,1369.58 L796.48,1371.19 L788.41,1372.3 L780.03,1372.91 L771.36,1373.01 L762.43,1372.61 L753.26,1371.71 L743.86,1370.3 L734.28,1368.4 L724.54,1366 L714.66,1363.12 L704.66,1359.76 L694.59,1355.94 L684.46,1351.66 L674.3,1346.93 L664.14,1341.76 L654.02,1336.18 L643.94,1330.2 L633.95,1323.83 L624.08,1317.09 L614.34,1309.99 L604.76,1302.57 L595.38,1294.83 L586.21,1286.81 L577.29,1278.51 L568.63,1269.97 L560.26,1261.21 L552.21,1252.25 L544.49,1243.12 L537.12,1233.84 L530.13,1224.43 L523.54,1214.93 L517.37,1205.36 L511.62,1195.74 L506.32,1186.1 L501.48,1176.47 L497.11,1166.88 L493.23,1157.34 L489.85,1147.9 L486.97,1138.56 L484.61,1129.36 L482.77,1120.33 L481.45,1111.48 L480.66,1102.85 L480.41,1094.45 L480.68,1086.32 L481.49,1078.46 L482.83,1070.91 L484.69,1063.67 L487.07,1056.79 L489.96,1050.26 L493.36,1044.12 L497.26,1038.37 L501.64,1033.04 L506.5,1028.13 L511.82,1023.66 L517.58,1019.65 L523.77,1016.1 L530.38,1013.02 L537.38,1010.43 L544.76,1008.32 L552.49,1006.71 L560.56,1005.6 L568.94,1005 L577.61,1004.89 L586.54,1005.3 L595.72,1006.2 L605.11,1007.61 L614.69,1009.51 L624.43,1011.9 L634.31,1014.78 L644.31,1018.14 L654.38,1021.97 L664.51,1026.25 L674.67,1030.98 L684.83,1036.14 L694.95,1041.72 L705.03,1047.71 L715.02,1054.08 L724.89,1060.82 L734.63,1067.91 L744.21,1075.34 L753.59,1083.07 L762.76,1091.1 L771.68,1099.39 L780.34,1107.93 L788.71,1116.69 L796.77,1125.65 L804.49,1134.79 L811.85,1144.07 L818.84,1153.47 L825.43,1162.98 L831.61,1172.55 L837.35,1182.17 L842.65,1191.8 L847.49,1201.43 L851.86,1211.03 L855.74,1220.56 L859.12,1230.01 L862,1239.35 L864.36,1248.54 L866.2,1257.58 L867.52,1266.42 L868.31,1275.05 L868.56,1283.45 L868.29,1291.59 L867.48,1299.45 L866.14,1307 L864.28,1314.23 L861.9,1321.12 L859.01,1327.64 L855.61,1333.79 L851.71,1339.54 Z" fill="#7FC97F" fill-opacity="0.2" stroke="#7FC97F" stroke-width="1.8" stroke-dasharray="6.3 6.4"/>
<path d="M751.15,1211.75 L750.7,1212.2 L750.14,1212.57 L749.49,1212.85 L748.75,1213.04 L747.91,1213.16 L746.98,1213.18 L745.96,1213.12 L744.86,1212.97 L743.67,1212.74 L742.4,1212.42 L741.06,1212.02 L739.65,1211.54 L738.16,1210.97 L736.61,1210.33 L735,1209.6 L733.34,1208.8 L731.62,1207.93 L729.86,1206.98 L728.06,1205.97 L726.22,1204.88 L724.34,1203.74 L722.45,1202.53 L720.53,1201.27 L718.59,1199.96 L716.64,1198.59 L714.69,1197.18 L712.73,1195.73 L710.79,1194.23 L708.85,1192.71 L706.93,1191.15 L705.03,1189.57 L703.15,1187.96 L701.31,1186.34 L699.5,1184.71 L697.74,1183.07 L696.02,1181.43 L694.35,1179.78 L692.74,1178.14 L691.19,1176.52 L689.7,1174.9 L688.28,1173.31 L686.94,1171.73 L685.66,1170.19 L684.47,1168.68 L683.36,1167.2 L682.34,1165.76 L681.41,1164.37 L680.56,1163.02 L679.81,1161.73 L679.16,1160.49 L678.6,1159.31 L678.14,1158.19 L677.78,1157.14 L677.52,1156.15 L677.37,1155.23 L677.31,1154.39 L677.36,1153.62 L677.51,1152.93 L677.76,1152.31 L678.12,1151.78 L678.57,1151.33 L679.12,1150.97 L679.77,1150.68 L680.52,1150.49 L681.36,1150.38 L682.29,1150.35 L683.3,1150.41 L684.41,1150.56 L685.6,1150.79 L686.86,1151.11 L688.21,1151.51 L689.62,1151.99 L691.11,1152.56 L692.65,1153.2 L694.26,1153.93 L695.93,1154.73 L697.64,1155.6 L699.4,1156.55 L701.21,1157.57 L703.05,1158.65 L704.92,1159.79 L706.82,1161 L708.74,1162.26 L710.68,1163.58 L712.63,1164.94 L714.58,1166.35 L716.53,1167.81 L718.48,1169.3 L720.42,1170.82 L722.34,1172.38 L724.24,1173.96 L726.11,1175.57 L727.96,1177.19 L729.76,1178.82 L731.53,1180.46 L733.25,1182.11 L734.91,1183.75 L736.53,1185.39 L738.08,1187.02 L739.56,1188.63 L740.98,1190.23 L742.33,1191.8 L743.6,1193.34 L744.79,1194.85 L745.9,1196.33 L746.93,1197.77 L747.86,1199.16 L748.7,1200.51 L749.45,1201.8 L750.11,1203.04 L750.67,1204.22 L751.13,1205.34 L751.48,1206.39 L751.74,1207.38 L751.9,1208.3 L751.95,1209.14 L751.9,1209.91 L751.75,1210.6 L751.5,1211.22 Z" fill="#BEAED4" fill-opacity="0.2" stroke="#BEAED4" stroke-width="1.8" stroke-dasharray="6.3 6.4"/>
<path d="M759.68,1191.65 L758.7,1194.64 L757.55,1197.57 L756.22,1200.43 L754.73,1203.22 L753.07,1205.92 L751.26,1208.54 L749.29,1211.05 L747.17,1213.46 L744.91,1215.75 L742.52,1217.93 L739.99,1219.98 L737.34,1221.9 L734.57,1223.69 L731.7,1225.34 L728.73,1226.84 L725.66,1228.2 L722.51,1229.4 L719.29,1230.44 L716,1231.33 L712.65,1232.06 L709.25,1232.62 L705.82,1233.02 L702.35,1233.25 L698.87,1233.32 L695.38,1233.22 L691.88,1232.95 L688.4,1232.52 L684.93,1231.93 L681.49,1231.17 L678.09,1230.25 L674.73,1229.17 L671.43,1227.94 L668.2,1226.55 L665.04,1225.02 L661.96,1223.35 L658.97,1221.53 L656.08,1219.58 L653.3,1217.5 L650.63,1215.3 L648.09,1212.99 L645.67,1210.56 L643.39,1208.02 L641.25,1205.39 L639.26,1202.67 L637.43,1199.87 L635.75,1196.99 L634.23,1194.05 L632.88,1191.05 L631.7,1187.99 L630.69,1184.9 L629.87,1181.77 L629.22,1178.61 L628.75,1175.44 L628.46,1172.26 L628.35,1169.08 L628.43,1165.91 L628.69,1162.76 L629.14,1159.64 L629.76,1156.55 L630.56,1153.5 L631.54,1150.51 L632.7,1147.58 L634.02,1144.72 L635.52,1141.93 L637.17,1139.23 L638.99,1136.62 L640.96,1134.1 L643.07,1131.7 L645.33,1129.4 L647.73,1127.22 L650.26,1125.17 L652.91,1123.25 L655.67,1121.46 L658.55,1119.81 L661.52,1118.31 L664.58,1116.96 L667.73,1115.75 L670.96,1114.71 L674.25,1113.82 L677.6,1113.1 L680.99,1112.53 L684.43,1112.13 L687.89,1111.9 L691.38,1111.83 L694.87,1111.93 L698.36,1112.2 L701.85,1112.63 L705.32,1113.23 L708.76,1113.99 L712.16,1114.9 L715.52,1115.98 L718.81,1117.21 L722.05,1118.6 L725.21,1120.13 L728.29,1121.81 L731.28,1123.62 L734.16,1125.57 L736.95,1127.65 L739.61,1129.85 L742.16,1132.17 L744.57,1134.6 L746.85,1137.13 L748.99,1139.76 L750.98,1142.48 L752.82,1145.28 L754.5,1148.16 L756.02,1151.1 L757.37,1154.11 L758.55,1157.16 L759.55,1160.26 L760.38,1163.39 L761.03,1166.54 L761.5,1169.71 L761.79,1172.89 L761.89,1176.07 L761.81,1179.24 L761.55,1182.39 L761.11,1185.51 L760.49,1188.6 Z" fill="#FDC086" fill-opacity="0.2" stroke="#FDC086" stroke-width="1.8" stroke-dasharray="6.3 6.4"/>
<path d="M957.6,1165.21 L956.03,1171.27 L953.88,1177.19 L951.13,1182.96 L947.81,1188.55 L943.91,1193.96 L939.45,1199.16 L934.44,1204.15 L928.9,1208.9 L922.84,1213.42 L916.27,1217.68 L909.22,1221.67 L901.7,1225.38 L893.74,1228.8 L885.35,1231.93 L876.57,1234.75 L867.41,1237.26 L857.89,1239.44 L848.05,1241.3 L837.92,1242.83 L827.51,1244.02 L816.86,1244.87 L806,1245.37 L794.95,1245.54 L783.75,1245.36 L772.43,1244.84 L761.02,1243.97 L749.55,1242.77 L738.05,1241.23 L726.55,1239.36 L715.09,1237.16 L703.7,1234.65 L692.4,1231.81 L681.23,1228.67 L670.22,1225.24 L659.4,1221.52 L648.8,1217.51 L638.45,1213.24 L628.37,1208.72 L618.59,1203.95 L609.15,1198.96 L600.06,1193.75 L591.36,1188.33 L583.06,1182.73 L575.19,1176.96 L567.76,1171.03 L560.81,1164.96 L554.35,1158.77 L548.39,1152.48 L542.96,1146.09 L538.06,1139.64 L533.72,1133.13 L529.94,1126.58 L526.73,1120.02 L524.11,1113.46 L522.07,1106.91 L520.63,1100.4 L519.79,1093.95 L519.55,1087.57 L519.92,1081.28 L520.88,1075.09 L522.45,1069.03 L524.6,1063.11 L527.35,1057.34 L530.67,1051.75 L534.57,1046.34 L539.03,1041.14 L544.04,1036.15 L549.58,1031.39 L555.64,1026.88 L562.21,1022.62 L569.26,1018.63 L576.78,1014.92 L584.74,1011.49 L593.13,1008.36 L601.91,1005.54 L611.07,1003.04 L620.59,1000.85 L630.43,999 L640.56,997.47 L650.97,996.28 L661.62,995.43 L672.48,994.92 L683.53,994.76 L694.73,994.94 L706.05,995.46 L717.46,996.32 L728.93,997.52 L740.43,999.06 L751.92,1000.93 L763.39,1003.13 L774.78,1005.65 L786.08,1008.48 L797.25,1011.62 L808.26,1015.06 L819.08,1018.78 L829.68,1022.78 L840.03,1027.05 L850.11,1031.57 L859.89,1036.34 L869.33,1041.34 L878.42,1046.55 L887.12,1051.96 L895.42,1057.56 L903.29,1063.34 L910.72,1069.27 L917.67,1075.33 L924.13,1081.52 L930.09,1087.82 L935.52,1094.2 L940.42,1100.66 L944.76,1107.17 L948.54,1113.72 L951.75,1120.28 L954.37,1126.84 L956.41,1133.38 L957.85,1139.89 L958.69,1146.35 L958.92,1152.73 L958.56,1159.02 Z" fill="#386CB0" fill-opacity="0.2" stroke="#386CB0" stroke-width="1.8" stroke-dasharray="6.3 6.4"/>
<line x1="666" y1="1188" x2="552.67" y2="1079" stroke="#BEBEBE" stroke-width="1.1"/>
<line x1="666" y1="1188" x2="612" y2="1202" stroke="#BEBEBE" stroke-width="1.1"/>
<line x1="666" y1="1188" x2="683.33" y2="1185.33" stroke="#BEBEBE" stroke-width="1.1"/>
<line x1="666" y1="1188" x2="705.67" y2="1303.67" stroke="#BEBEBE" stroke-width="1.1"/>
<line x1="666" y1="1188" x2="723.33" y2="1179.33" stroke="#BEBEBE" stroke-width="1.1"/>
<line x1="666" y1="1188" x2="719.33" y2="1180" stroke="#BEBEBE" stroke-width="1.1"/>
<line x1="716.67" y1="1185" x2="705.67" y2="1172" stroke="#BEBEBE" stroke-width="1.1"/>
<line x1="716.67" y1="1185" x2="703.33" y2="1179.67" stroke="#BEBEBE" stroke-width="1.1"/>
<line x1="716.67" y1="1185" x2="714.67" y2="1178.33" stroke="#BEBEBE" stroke-width="1.1"/>
<line x1="716.67" y1="1185" x2="717.33" y2="1182.67" stroke="#BEBEBE" stroke-width="1.1"/>
<line x1="716.67" y1="1185" x2="714.67" y2="1190.67" stroke="#BEBEBE" stroke-width="1.1"/>
<line x1="716.67" y1="1185" x2="743.67" y2="1207.33" stroke="#BEBEBE" stroke-width="1.1"/>
<line x1="696.33" y1="1175" x2="681.67" y2="1157.67" stroke="#BEBEBE" stroke-width="1.1"/>
<line x1="696.33" y1="1175" x2="713" y2="1152" stroke="#BEBEBE" stroke-width="1.1"/>
<line x1="696.33" y1="1175" x2="666.67" y2="1171.33" stroke="#BEBEBE" stroke-width="1.1"/>
<line x1="696.33" y1="1175" x2="692" y2="1172.67" stroke="#BEBEBE" stroke-width="1.1"/>
<line x1="696.33" y1="1175" x2="727.67" y2="1179.33" stroke="#BEBEBE" stroke-width="1.1"/>
<line x1="696.33" y1="1175" x2="697.33" y2="1216.67" stroke="#BEBEBE" stroke-width="1.1"/>
<line x1="759.33" y1="1122.67" x2="675.67" y2="1093" stroke="#BEBEBE" stroke-width="1.1"/>
<line x1="759.33" y1="1122.67" x2="727.67" y2="1082.33" stroke="#BEBEBE" stroke-width="1.1"/>
<line x1="759.33" y1="1122.67" x2="903.67" y2="1086.67" stroke="#BEBEBE" stroke-width="1.1"/>
<line x1="759.33" y1="1122.67" x2="702" y2="1133" stroke="#BEBEBE" stroke-width="1.1"/>
<line x1="759.33" y1="1122.67" x2="727.67" y2="1139" stroke="#BEBEBE" stroke-width="1.1"/>
<line x1="759.33" y1="1122.67" x2="824.67" y2="1202.67" stroke="#BEBEBE" stroke-width="1.1"/>
<rect x="549.02" y="1075.35" width="7.3" height="7.3" fill="#7FC97F"/>
<rect x="608.35" y="1198.35" width="7.3" height="7.3" fill="#7FC97F"/>
<rect x="679.68" y="1181.68" width="7.3" height="7.3" fill="#7FC97F"/>
<rect x="702.02" y="1300.02" width="7.3" height="7.3" fill="#7FC97F"/>
<rect x="719.68" y="1175.68" width="7.3" height="7.3" fill="#7FC97F"/>
<rect x="715.68" y="1176.35" width="7.3" height="7.3" fill="#7FC97F"/>
<circle cx="705.67" cy="1172" r="3.7" fill="#BEAED4"/>
<circle cx="703.33" cy="1179.67" r="3.7" fill="#BEAED4"/>
<circle cx="714.67" cy="1178.33" r="3.7" fill="#BEAED4"/>
<circle cx="717.33" cy="1182.67" r="3.7" fill="#BEAED4"/>
<circle cx="714.67" cy="1190.67" r="3.7" fill="#BEAED4"/>
<circle cx="743.67" cy="1207.33" r="3.7" fill="#BEAED4"/>
<path d="M681.67,1152.47 L686.47,1160.57 L676.87,1160.57 Z" fill="#FDC086"/>
<path d="M713,1146.8 L717.8,1154.9 L708.2,1154.9 Z" fill="#FDC086"/>
<path d="M666.67,1166.13 L671.47,1174.23 L661.87,1174.23 Z" fill="#FDC086"/>
<path d="M692,1167.47 L696.8,1175.57 L687.2,1175.57 Z" fill="#FDC086"/>
<path d="M727.67,1174.13 L732.47,1182.23 L722.87,1182.23 Z" fill="#FDC086"/>
<path d="M697.33,1211.47 L702.13,1219.57 L692.53,1219.57 Z" fill="#FDC086"/>
<path d="M675.67,1088.95 L679.72,1093 L675.67,1097.05 L671.62,1093 Z" fill="#386CB0"/>
<path d="M727.67,1078.28 L731.72,1082.33 L727.67,1086.38 L723.62,1082.33 Z" fill="#386CB0"/>
<path d="M903.67,1082.62 L907.72,1086.67 L903.67,1090.72 L899.62,1086.67 Z" fill="#386CB0"/>
<path d="M702,1128.95 L706.05,1133 L702,1137.05 L697.95,1133 Z" fill="#386CB0"/>
<path d="M727.67,1134.95 L731.72,1139 L727.67,1143.05 L723.62,1139 Z" fill="#386CB0"/>
<path d="M824.67,1198.62 L828.72,1202.67 L824.67,1206.72 L820.62,1202.67 Z" fill="#386CB0"/>
</g>
<rect x="535.5" y="998.6" width="386" height="385.8" fill="none" stroke="#5E5E5E" stroke-width="1.35"/>
<line x1="552.5" y1="1384.4" x2="552.5" y2="1387.9" stroke="#333" stroke-width="1.6"/>
<text x="552.5" y="1400.7" font-size="12.2" stroke="#1A1A1A" stroke-width="0.3" text-anchor="middle" fill="#1A1A1A">−2</text>
<line x1="631.25" y1="1384.4" x2="631.25" y2="1387.9" stroke="#333" stroke-width="1.6"/>
<text x="631.25" y="1400.7" font-size="12.2" stroke="#1A1A1A" stroke-width="0.3" text-anchor="middle" fill="#1A1A1A">−1</text>
<line x1="710" y1="1384.4" x2="710" y2="1387.9" stroke="#333" stroke-width="1.6"/>
<text x="710" y="1400.7" font-size="12.2" stroke="#1A1A1A" stroke-width="0.3" text-anchor="middle" fill="#1A1A1A">0</text>
<line x1="789" y1="1384.4" x2="789" y2="1387.9" stroke="#333" stroke-width="1.6"/>
<text x="789" y="1400.7" font-size="12.2" stroke="#1A1A1A" stroke-width="0.3" text-anchor="middle" fill="#1A1A1A">1</text>
<line x1="867.75" y1="1384.4" x2="867.75" y2="1387.9" stroke="#333" stroke-width="1.6"/>
<text x="867.75" y="1400.7" font-size="12.2" stroke="#1A1A1A" stroke-width="0.3" text-anchor="middle" fill="#1A1A1A">2</text>
<line x1="532" y1="1010" x2="535.5" y2="1010" stroke="#333" stroke-width="1.6"/>
<text x="529" y="1015" font-size="12.2" stroke="#1A1A1A" stroke-width="0.3" text-anchor="end" fill="#1A1A1A">2</text>
<line x1="532" y1="1089" x2="535.5" y2="1089" stroke="#333" stroke-width="1.6"/>
<text x="529" y="1094" font-size="12.2" stroke="#1A1A1A" stroke-width="0.3" text-anchor="end" fill="#1A1A1A">1</text>
<line x1="532" y1="1168.25" x2="535.5" y2="1168.25" stroke="#333" stroke-width="1.6"/>
<text x="529" y="1173.25" font-size="12.2" stroke="#1A1A1A" stroke-width="0.3" text-anchor="end" fill="#1A1A1A">0</text>
<line x1="532" y1="1247.25" x2="535.5" y2="1247.25" stroke="#333" stroke-width="1.6"/>
<text x="529" y="1252.25" font-size="12.2" stroke="#1A1A1A" stroke-width="0.3" text-anchor="end" fill="#1A1A1A">−1</text>
<line x1="532" y1="1326.25" x2="535.5" y2="1326.25" stroke="#333" stroke-width="1.6"/>
<text x="529" y="1331.25" font-size="12.2" stroke="#1A1A1A" stroke-width="0.3" text-anchor="end" fill="#1A1A1A">−2</text>
<text x="728.5" y="1417.4" font-size="14.8" stroke="#000" stroke-width="0.3" text-anchor="middle">MDS1</text>
<text x="508" y="1191.5" font-size="14.8" stroke="#000" stroke-width="0.3" text-anchor="middle" transform="rotate(-90 508 1191.5)">MDS2</text>
<text x="728.5" y="989.5" font-size="12.4" stroke="#000" stroke-width="0.3" text-anchor="middle">Stress = 0.122</text>
<text x="941.7" y="1158" font-size="14.8" stroke="#000" stroke-width="0.3">Group</text>
<rect x="942.7" y="1168" width="15.6" height="15.6" fill="#7FC97F" fill-opacity="0.2" stroke="#7FC97F" stroke-width="1.8" stroke-dasharray="6.3 6.4"/>
<rect x="946.85" y="1172.15" width="7.3" height="7.3" fill="#7FC97F"/>
<text x="967.3" y="1180.91" font-size="14.2" stroke="#000" stroke-width="0.3">WAZ1</text>
<rect x="942.7" y="1185.5" width="15.6" height="15.6" fill="#BEAED4" fill-opacity="0.2" stroke="#BEAED4" stroke-width="1.8" stroke-dasharray="6.3 6.4"/>
<circle cx="950.5" cy="1193.3" r="3.7" fill="#BEAED4"/>
<text x="967.3" y="1198.41" font-size="14.2" stroke="#000" stroke-width="0.3">WBZ1</text>
<rect x="942.7" y="1203" width="15.6" height="15.6" fill="#FDC086" fill-opacity="0.2" stroke="#FDC086" stroke-width="1.8" stroke-dasharray="6.3 6.4"/>
<path d="M950.5,1205.6 L955.3,1213.7 L945.7,1213.7 Z" fill="#FDC086"/>
<text x="967.3" y="1215.91" font-size="14.2" stroke="#000" stroke-width="0.3">WCZ1</text>
<rect x="942.7" y="1220.5" width="15.6" height="15.6" fill="#386CB0" fill-opacity="0.2" stroke="#386CB0" stroke-width="1.8" stroke-dasharray="6.3 6.4"/>
<path d="M950.5,1224.25 L954.55,1228.3 L950.5,1232.35 L946.45,1228.3 Z" fill="#386CB0"/>
<text x="967.3" y="1233.41" font-size="14.2" stroke="#000" stroke-width="0.3">WDZ1</text>
</g>
<g>
<clipPath id="cp2"><rect x="1075.5" y="998.6" width="386.6" height="385.9"/></clipPath>
<rect x="1075.5" y="998.6" width="386.6" height="385.9" fill="#fff"/>
<g clip-path="url(#cp2)">
<path d="M1139.28,1399.03 L1138.74,1398.67 L1138.24,1397.69 L1137.81,1396.1 L1137.43,1393.91 L1137.11,1391.1 L1136.85,1387.7 L1136.64,1383.72 L1136.5,1379.15 L1136.42,1374.03 L1136.4,1368.35 L1136.43,1362.14 L1136.53,1355.42 L1136.69,1348.19 L1136.91,1340.49 L1137.19,1332.33 L1137.53,1323.74 L1137.92,1314.73 L1138.37,1305.33 L1138.88,1295.58 L1139.44,1285.49 L1140.05,1275.09 L1140.72,1264.42 L1141.43,1253.49 L1142.19,1242.35 L1142.99,1231.02 L1143.84,1219.53 L1144.72,1207.92 L1145.65,1196.21 L1146.61,1184.44 L1147.6,1172.64 L1148.62,1160.84 L1149.67,1149.07 L1150.75,1137.38 L1151.84,1125.78 L1152.95,1114.31 L1154.08,1103.01 L1155.22,1091.9 L1156.37,1081.01 L1157.53,1070.38 L1158.69,1060.03 L1159.85,1049.99 L1161,1040.29 L1162.15,1030.96 L1163.29,1022.01 L1164.41,1013.49 L1165.52,1005.4 L1166.61,997.77 L1167.68,990.62 L1168.72,983.98 L1169.73,977.85 L1170.72,972.26 L1171.67,967.22 L1172.58,962.75 L1173.46,958.86 L1174.29,955.55 L1175.08,952.84 L1175.83,950.74 L1176.53,949.25 L1177.18,948.37 L1177.78,948.11 L1178.32,948.47 L1178.81,949.44 L1179.25,951.03 L1179.63,953.23 L1179.95,956.04 L1180.21,959.43 L1180.42,963.42 L1180.56,967.98 L1180.64,973.11 L1180.66,978.78 L1180.62,984.99 L1180.53,991.72 L1180.37,998.94 L1180.15,1006.65 L1179.87,1014.81 L1179.53,1023.4 L1179.14,1032.41 L1178.69,1041.8 L1178.18,1051.56 L1177.62,1061.65 L1177.01,1072.04 L1176.34,1082.72 L1175.63,1093.64 L1174.87,1104.79 L1174.07,1116.12 L1173.22,1127.61 L1172.34,1139.22 L1171.41,1150.93 L1170.45,1162.7 L1169.46,1174.5 L1168.44,1186.3 L1167.39,1198.06 L1166.31,1209.76 L1165.22,1221.36 L1164.1,1232.82 L1162.98,1244.13 L1161.84,1255.24 L1160.69,1266.12 L1159.53,1276.76 L1158.37,1287.11 L1157.21,1297.14 L1156.06,1306.84 L1154.91,1316.18 L1153.77,1325.12 L1152.65,1333.65 L1151.54,1341.74 L1150.45,1349.37 L1149.38,1356.52 L1148.34,1363.16 L1147.33,1369.29 L1146.34,1374.88 L1145.39,1379.91 L1144.48,1384.39 L1143.6,1388.28 L1142.77,1391.59 L1141.97,1394.29 L1141.23,1396.4 L1140.53,1397.89 L1139.88,1398.77 Z" fill="#7FC97F" fill-opacity="0.2" stroke="#7FC97F" stroke-width="1.8" stroke-dasharray="6.3 6.4"/>
<path d="M1107.16,1159.7 L1108.92,1158.9 L1110.76,1158.27 L1112.68,1157.81 L1114.67,1157.53 L1116.73,1157.42 L1118.86,1157.49 L1121.04,1157.74 L1123.27,1158.17 L1125.55,1158.77 L1127.86,1159.54 L1130.21,1160.49 L1132.58,1161.6 L1134.97,1162.88 L1137.37,1164.32 L1139.78,1165.92 L1142.19,1167.67 L1144.59,1169.57 L1146.98,1171.61 L1149.34,1173.79 L1151.68,1176.11 L1153.99,1178.55 L1156.26,1181.11 L1158.48,1183.78 L1160.64,1186.55 L1162.75,1189.43 L1164.8,1192.39 L1166.78,1195.43 L1168.68,1198.55 L1170.5,1201.73 L1172.24,1204.96 L1173.89,1208.25 L1175.44,1211.57 L1176.9,1214.91 L1178.25,1218.28 L1179.5,1221.66 L1180.63,1225.04 L1181.66,1228.41 L1182.56,1231.76 L1183.35,1235.09 L1184.02,1238.38 L1184.57,1241.62 L1185,1244.81 L1185.3,1247.94 L1185.47,1251 L1185.52,1253.97 L1185.44,1256.86 L1185.24,1259.66 L1184.91,1262.35 L1184.46,1264.93 L1183.88,1267.39 L1183.18,1269.73 L1182.36,1271.94 L1181.43,1274.01 L1180.38,1275.93 L1179.21,1277.71 L1177.94,1279.34 L1176.56,1280.81 L1175.09,1282.12 L1173.51,1283.26 L1171.84,1284.24 L1170.08,1285.04 L1168.24,1285.67 L1166.32,1286.13 L1164.33,1286.41 L1162.27,1286.52 L1160.14,1286.44 L1157.96,1286.2 L1155.73,1285.77 L1153.45,1285.17 L1151.14,1284.4 L1148.79,1283.45 L1146.42,1282.34 L1144.03,1281.06 L1141.63,1279.62 L1139.22,1278.02 L1136.81,1276.27 L1134.41,1274.37 L1132.02,1272.33 L1129.66,1270.15 L1127.32,1267.83 L1125.01,1265.39 L1122.74,1262.83 L1120.52,1260.16 L1118.35,1257.38 L1116.24,1254.51 L1114.2,1251.55 L1112.22,1248.51 L1110.32,1245.39 L1108.5,1242.21 L1106.76,1238.98 L1105.11,1235.69 L1103.56,1232.37 L1102.1,1229.03 L1100.75,1225.66 L1099.5,1222.28 L1098.37,1218.9 L1097.34,1215.53 L1096.43,1212.18 L1095.64,1208.85 L1094.97,1205.56 L1094.43,1202.32 L1094,1199.13 L1093.7,1196 L1093.53,1192.94 L1093.48,1189.97 L1093.56,1187.08 L1093.76,1184.28 L1094.09,1181.59 L1094.54,1179.01 L1095.12,1176.55 L1095.82,1174.21 L1096.64,1172 L1097.57,1169.93 L1098.62,1168.01 L1099.79,1166.23 L1101.06,1164.6 L1102.43,1163.13 L1103.91,1161.82 L1105.49,1160.68 Z" fill="#BEAED4" fill-opacity="0.2" stroke="#BEAED4" stroke-width="1.8" stroke-dasharray="6.3 6.4"/>
<path d="M1159.47,1390.41 L1158.49,1390.11 L1157.52,1389.21 L1156.56,1387.73 L1155.61,1385.66 L1154.69,1383.02 L1153.78,1379.81 L1152.9,1376.04 L1152.04,1371.72 L1151.21,1366.86 L1150.42,1361.48 L1149.65,1355.59 L1148.92,1349.2 L1148.22,1342.33 L1147.57,1335.01 L1146.95,1327.25 L1146.38,1319.07 L1145.85,1310.5 L1145.36,1301.56 L1144.92,1292.28 L1144.53,1282.67 L1144.19,1272.77 L1143.89,1262.6 L1143.65,1252.19 L1143.46,1241.57 L1143.32,1230.78 L1143.23,1219.82 L1143.19,1208.75 L1143.21,1197.59 L1143.27,1186.36 L1143.39,1175.1 L1143.56,1163.85 L1143.79,1152.62 L1144.06,1141.46 L1144.38,1130.39 L1144.75,1119.45 L1145.17,1108.66 L1145.64,1098.05 L1146.15,1087.65 L1146.71,1077.49 L1147.31,1067.6 L1147.95,1058.01 L1148.63,1048.74 L1149.34,1039.81 L1150.09,1031.26 L1150.88,1023.1 L1151.7,1015.36 L1152.54,1008.05 L1153.41,1001.21 L1154.31,994.84 L1155.23,988.97 L1156.16,983.61 L1157.12,978.77 L1158.08,974.48 L1159.06,970.73 L1160.05,967.54 L1161.05,964.93 L1162.04,962.89 L1163.04,961.43 L1164.04,960.56 L1165.03,960.28 L1166.01,960.59 L1166.98,961.48 L1167.94,962.96 L1168.89,965.03 L1169.81,967.67 L1170.72,970.88 L1171.6,974.65 L1172.46,978.97 L1173.29,983.83 L1174.08,989.21 L1174.85,995.11 L1175.58,1001.5 L1176.28,1008.36 L1176.93,1015.68 L1177.55,1023.44 L1178.12,1031.62 L1178.65,1040.19 L1179.14,1049.13 L1179.58,1058.42 L1179.97,1068.02 L1180.31,1077.92 L1180.61,1088.09 L1180.85,1098.5 L1181.04,1109.12 L1181.18,1119.92 L1181.27,1130.87 L1181.31,1141.94 L1181.29,1153.11 L1181.23,1164.33 L1181.11,1175.59 L1180.94,1186.85 L1180.71,1198.07 L1180.44,1209.23 L1180.12,1220.3 L1179.75,1231.25 L1179.33,1242.04 L1178.86,1252.65 L1178.35,1263.05 L1177.79,1273.2 L1177.19,1283.09 L1176.55,1292.69 L1175.87,1301.96 L1175.16,1310.88 L1174.41,1319.44 L1173.62,1327.6 L1172.8,1335.34 L1171.96,1342.64 L1171.09,1349.48 L1170.19,1355.85 L1169.27,1361.72 L1168.34,1367.08 L1167.38,1371.92 L1166.42,1376.22 L1165.44,1379.96 L1164.45,1383.15 L1163.45,1385.77 L1162.46,1387.81 L1161.46,1389.26 L1160.46,1390.13 Z" fill="#FDC086" fill-opacity="0.2" stroke="#FDC086" stroke-width="1.8" stroke-dasharray="6.3 6.4"/>
<path d="M1248.31,1204.59 L1243.93,1189.98 L1239.84,1175.32 L1236.06,1160.65 L1232.58,1146.02 L1229.44,1131.47 L1226.62,1117.02 L1224.14,1102.73 L1222.01,1088.64 L1220.23,1074.77 L1218.81,1061.17 L1217.75,1047.88 L1217.05,1034.93 L1216.71,1022.36 L1216.75,1010.2 L1217.15,998.49 L1217.91,987.25 L1219.04,976.53 L1220.53,966.34 L1222.38,956.72 L1224.57,947.69 L1227.11,939.28 L1229.99,931.51 L1233.2,924.4 L1236.73,917.97 L1240.57,912.24 L1244.72,907.23 L1249.15,902.94 L1253.86,899.39 L1258.83,896.6 L1264.06,894.56 L1269.52,893.28 L1275.21,892.77 L1281.1,893.03 L1287.18,894.05 L1293.43,895.84 L1299.84,898.39 L1306.39,901.69 L1313.06,905.73 L1319.83,910.51 L1326.69,916.01 L1333.61,922.21 L1340.58,929.09 L1347.57,936.65 L1354.57,944.85 L1361.56,953.68 L1368.52,963.11 L1375.43,973.11 L1382.28,983.66 L1389.03,994.73 L1395.68,1006.29 L1402.2,1018.3 L1408.59,1030.74 L1414.81,1043.57 L1420.86,1056.75 L1426.71,1070.26 L1432.36,1084.04 L1437.78,1098.06 L1442.96,1112.3 L1447.88,1126.69 L1452.54,1141.22 L1456.92,1155.83 L1461.01,1170.49 L1464.8,1185.15 L1468.27,1199.78 L1471.42,1214.34 L1474.23,1228.78 L1476.71,1243.07 L1478.84,1257.17 L1480.62,1271.04 L1482.05,1284.63 L1483.11,1297.93 L1483.81,1310.87 L1484.14,1323.45 L1484.1,1335.6 L1483.7,1347.32 L1482.94,1358.55 L1481.81,1369.28 L1480.32,1379.46 L1478.48,1389.08 L1476.28,1398.11 L1473.74,1406.52 L1470.86,1414.3 L1467.65,1421.4 L1464.12,1427.83 L1460.28,1433.56 L1456.14,1438.58 L1451.7,1442.86 L1446.99,1446.41 L1442.02,1449.21 L1436.79,1451.25 L1431.33,1452.52 L1425.65,1453.03 L1419.76,1452.78 L1413.67,1451.75 L1407.42,1449.96 L1401.01,1447.42 L1394.46,1444.11 L1387.79,1440.07 L1381.02,1435.29 L1374.16,1429.8 L1367.24,1423.6 L1360.28,1416.71 L1353.28,1409.16 L1346.28,1400.95 L1339.29,1392.13 L1332.33,1382.7 L1325.42,1372.69 L1318.58,1362.14 L1311.82,1351.07 L1305.17,1339.51 L1298.65,1327.5 L1292.27,1315.06 L1286.04,1302.23 L1280,1289.05 L1274.14,1275.55 L1268.5,1261.77 L1263.08,1247.74 L1257.9,1233.51 L1252.97,1219.11 Z" fill="#386CB0" fill-opacity="0.2" stroke="#386CB0" stroke-width="1.8" stroke-dasharray="6.3 6.4"/>
<line x1="1158.33" y1="1174" x2="1167" y2="1081.67" stroke="#BEBEBE" stroke-width="1.1"/>
<line x1="1158.33" y1="1174" x2="1159.67" y2="1102" stroke="#BEBEBE" stroke-width="1.1"/>
<line x1="1158.33" y1="1174" x2="1164.67" y2="1159" stroke="#BEBEBE" stroke-width="1.1"/>
<line x1="1158.33" y1="1174" x2="1158" y2="1205.33" stroke="#BEBEBE" stroke-width="1.1"/>
<line x1="1158.33" y1="1174" x2="1148" y2="1246.67" stroke="#BEBEBE" stroke-width="1.1"/>
<line x1="1158.33" y1="1174" x2="1152.33" y2="1249.33" stroke="#BEBEBE" stroke-width="1.1"/>
<line x1="1141.67" y1="1221.33" x2="1132.67" y2="1181.33" stroke="#BEBEBE" stroke-width="1.1"/>
<line x1="1141.67" y1="1221.33" x2="1146.67" y2="1212" stroke="#BEBEBE" stroke-width="1.1"/>
<line x1="1141.67" y1="1221.33" x2="1132" y2="1220.67" stroke="#BEBEBE" stroke-width="1.1"/>
<line x1="1141.67" y1="1221.33" x2="1125.33" y2="1224" stroke="#BEBEBE" stroke-width="1.1"/>
<line x1="1141.67" y1="1221.33" x2="1141.33" y2="1242" stroke="#BEBEBE" stroke-width="1.1"/>
<line x1="1141.67" y1="1221.33" x2="1172.33" y2="1247.67" stroke="#BEBEBE" stroke-width="1.1"/>
<line x1="1160.67" y1="1183.33" x2="1164.67" y2="1091" stroke="#BEBEBE" stroke-width="1.1"/>
<line x1="1160.67" y1="1183.33" x2="1161.67" y2="1114.33" stroke="#BEBEBE" stroke-width="1.1"/>
<line x1="1160.67" y1="1183.33" x2="1168" y2="1186.67" stroke="#BEBEBE" stroke-width="1.1"/>
<line x1="1160.67" y1="1183.33" x2="1163" y2="1213.33" stroke="#BEBEBE" stroke-width="1.1"/>
<line x1="1160.67" y1="1183.33" x2="1145.33" y2="1220" stroke="#BEBEBE" stroke-width="1.1"/>
<line x1="1160.67" y1="1183.33" x2="1162.33" y2="1276" stroke="#BEBEBE" stroke-width="1.1"/>
<line x1="1348.33" y1="1186.67" x2="1296.33" y2="1050" stroke="#BEBEBE" stroke-width="1.1"/>
<line x1="1348.33" y1="1186.67" x2="1313" y2="1126.33" stroke="#BEBEBE" stroke-width="1.1"/>
<line x1="1348.33" y1="1186.67" x2="1376.33" y2="1143.33" stroke="#BEBEBE" stroke-width="1.1"/>
<line x1="1348.33" y1="1186.67" x2="1368.33" y2="1177.67" stroke="#BEBEBE" stroke-width="1.1"/>
<line x1="1348.33" y1="1186.67" x2="1412" y2="1288" stroke="#BEBEBE" stroke-width="1.1"/>
<line x1="1348.33" y1="1186.67" x2="1323.33" y2="1334" stroke="#BEBEBE" stroke-width="1.1"/>
<rect x="1163.35" y="1078.02" width="7.3" height="7.3" fill="#7FC97F"/>
<rect x="1156.02" y="1098.35" width="7.3" height="7.3" fill="#7FC97F"/>
<rect x="1161.02" y="1155.35" width="7.3" height="7.3" fill="#7FC97F"/>
<rect x="1154.35" y="1201.68" width="7.3" height="7.3" fill="#7FC97F"/>
<rect x="1144.35" y="1243.02" width="7.3" height="7.3" fill="#7FC97F"/>
<rect x="1148.68" y="1245.68" width="7.3" height="7.3" fill="#7FC97F"/>
<circle cx="1132.67" cy="1181.33" r="3.7" fill="#BEAED4"/>
<circle cx="1146.67" cy="1212" r="3.7" fill="#BEAED4"/>
<circle cx="1132" cy="1220.67" r="3.7" fill="#BEAED4"/>
<circle cx="1125.33" cy="1224" r="3.7" fill="#BEAED4"/>
<circle cx="1141.33" cy="1242" r="3.7" fill="#BEAED4"/>
<circle cx="1172.33" cy="1247.67" r="3.7" fill="#BEAED4"/>
<path d="M1164.67,1085.8 L1169.47,1093.9 L1159.87,1093.9 Z" fill="#FDC086"/>
<path d="M1161.67,1109.13 L1166.47,1117.23 L1156.87,1117.23 Z" fill="#FDC086"/>
<path d="M1168,1181.47 L1172.8,1189.57 L1163.2,1189.57 Z" fill="#FDC086"/>
<path d="M1163,1208.13 L1167.8,1216.23 L1158.2,1216.23 Z" fill="#FDC086"/>
<path d="M1145.33,1214.8 L1150.13,1222.9 L1140.53,1222.9 Z" fill="#FDC086"/>
<path d="M1162.33,1270.8 L1167.13,1278.9 L1157.53,1278.9 Z" fill="#FDC086"/>
<path d="M1296.33,1045.95 L1300.38,1050 L1296.33,1054.05 L1292.28,1050 Z" fill="#386CB0"/>
<path d="M1313,1122.28 L1317.05,1126.33 L1313,1130.38 L1308.95,1126.33 Z" fill="#386CB0"/>
<path d="M1376.33,1139.28 L1380.38,1143.33 L1376.33,1147.38 L1372.28,1143.33 Z" fill="#386CB0"/>
<path d="M1368.33,1173.62 L1372.38,1177.67 L1368.33,1181.72 L1364.28,1177.67 Z" fill="#386CB0"/>
<path d="M1412,1283.95 L1416.05,1288 L1412,1292.05 L1407.95,1288 Z" fill="#386CB0"/>
<path d="M1323.33,1329.95 L1327.38,1334 L1323.33,1338.05 L1319.28,1334 Z" fill="#386CB0"/>
</g>
<rect x="1075.5" y="998.6" width="386.6" height="385.9" fill="none" stroke="#5E5E5E" stroke-width="1.35"/>
<line x1="1100.75" y1="1384.5" x2="1100.75" y2="1388" stroke="#333" stroke-width="1.6"/>
<text x="1100.75" y="1400.8" font-size="12.2" stroke="#1A1A1A" stroke-width="0.3" text-anchor="middle" fill="#1A1A1A">−0.2</text>
<line x1="1202" y1="1384.5" x2="1202" y2="1388" stroke="#333" stroke-width="1.6"/>
<text x="1202" y="1400.8" font-size="12.2" stroke="#1A1A1A" stroke-width="0.3" text-anchor="middle" fill="#1A1A1A">0.0</text>
<line x1="1303.25" y1="1384.5" x2="1303.25" y2="1388" stroke="#333" stroke-width="1.6"/>
<text x="1303.25" y="1400.8" font-size="12.2" stroke="#1A1A1A" stroke-width="0.3" text-anchor="middle" fill="#1A1A1A">0.2</text>
<line x1="1404.5" y1="1384.5" x2="1404.5" y2="1388" stroke="#333" stroke-width="1.6"/>
<text x="1404.5" y="1400.8" font-size="12.2" stroke="#1A1A1A" stroke-width="0.3" text-anchor="middle" fill="#1A1A1A">0.4</text>
<line x1="1072" y1="1090.75" x2="1075.5" y2="1090.75" stroke="#333" stroke-width="1.6"/>
<text x="1069" y="1095.75" font-size="12.2" stroke="#1A1A1A" stroke-width="0.3" text-anchor="end" fill="#1A1A1A">0.2</text>
<line x1="1072" y1="1191.5" x2="1075.5" y2="1191.5" stroke="#333" stroke-width="1.6"/>
<text x="1069" y="1196.5" font-size="12.2" stroke="#1A1A1A" stroke-width="0.3" text-anchor="end" fill="#1A1A1A">0.0</text>
<line x1="1072" y1="1292.75" x2="1075.5" y2="1292.75" stroke="#333" stroke-width="1.6"/>
<text x="1069" y="1297.75" font-size="12.2" stroke="#1A1A1A" stroke-width="0.3" text-anchor="end" fill="#1A1A1A">−0.2</text>
<text x="1268.8" y="1417.5" font-size="14.8" stroke="#000" stroke-width="0.3" text-anchor="middle">Axis 1 [9.1%]</text>
<text x="1038" y="1191.55" font-size="14.8" stroke="#000" stroke-width="0.3" text-anchor="middle" transform="rotate(-90 1038 1191.55)">Axis 2 [5.8%]</text>
</g>
<g>
<clipPath id="cp3"><rect x="1532" y="998.6" width="386" height="385.7"/></clipPath>
<rect x="1532" y="998.6" width="386" height="385.7" fill="#fff"/>
<g clip-path="url(#cp3)">
<path d="M1514.37,1156.5 L1515.47,1154.7 L1516.84,1153.05 L1518.49,1151.55 L1520.4,1150.2 L1522.58,1149.02 L1525.01,1148 L1527.7,1147.15 L1530.63,1146.47 L1533.79,1145.95 L1537.18,1145.61 L1540.79,1145.44 L1544.61,1145.44 L1548.62,1145.62 L1552.82,1145.97 L1557.2,1146.49 L1561.73,1147.19 L1566.42,1148.05 L1571.24,1149.08 L1576.19,1150.27 L1581.25,1151.62 L1586.4,1153.12 L1591.64,1154.78 L1596.95,1156.59 L1602.31,1158.54 L1607.71,1160.63 L1613.13,1162.84 L1618.56,1165.19 L1623.98,1167.65 L1629.39,1170.23 L1634.76,1172.91 L1640.08,1175.69 L1645.34,1178.56 L1650.51,1181.51 L1655.59,1184.54 L1660.57,1187.63 L1665.43,1190.78 L1670.15,1193.98 L1674.72,1197.22 L1679.13,1200.49 L1683.38,1203.78 L1687.44,1207.09 L1691.3,1210.4 L1694.96,1213.7 L1698.41,1217 L1701.63,1220.27 L1704.61,1223.5 L1707.36,1226.7 L1709.86,1229.85 L1712.1,1232.94 L1714.07,1235.96 L1715.79,1238.91 L1717.22,1241.77 L1718.39,1244.55 L1719.27,1247.22 L1719.87,1249.8 L1720.19,1252.25 L1720.23,1254.59 L1719.98,1256.8 L1719.44,1258.88 L1718.63,1260.83 L1717.53,1262.63 L1716.16,1264.28 L1714.51,1265.78 L1712.6,1267.12 L1710.42,1268.3 L1707.98,1269.32 L1705.3,1270.17 L1702.37,1270.86 L1699.2,1271.37 L1695.81,1271.71 L1692.2,1271.88 L1688.39,1271.88 L1684.37,1271.7 L1680.17,1271.35 L1675.8,1270.83 L1671.26,1270.14 L1666.58,1269.28 L1661.75,1268.25 L1656.81,1267.06 L1651.75,1265.71 L1646.59,1264.2 L1641.35,1262.54 L1636.05,1260.73 L1630.69,1258.78 L1625.29,1256.7 L1619.87,1254.48 L1614.44,1252.13 L1609.01,1249.67 L1603.61,1247.1 L1598.24,1244.41 L1592.92,1241.64 L1587.66,1238.77 L1582.49,1235.81 L1577.4,1232.79 L1572.43,1229.7 L1567.57,1226.55 L1562.85,1223.35 L1558.28,1220.11 L1553.86,1216.84 L1549.62,1213.54 L1545.56,1210.24 L1541.7,1206.92 L1538.04,1203.62 L1534.59,1200.33 L1531.37,1197.06 L1528.38,1193.82 L1525.64,1190.62 L1523.14,1187.47 L1520.9,1184.39 L1518.92,1181.36 L1517.21,1178.41 L1515.77,1175.55 L1514.61,1172.77 L1513.73,1170.1 L1513.12,1167.53 L1512.81,1165.07 L1512.77,1162.73 L1513.02,1160.52 L1513.56,1158.44 Z" fill="#7FC97F" fill-opacity="0.2" stroke="#7FC97F" stroke-width="1.8" stroke-dasharray="6.3 6.4"/>
<path d="M1636.8,1259.14 L1635.7,1259.26 L1634.57,1259.25 L1633.42,1259.1 L1632.26,1258.82 L1631.09,1258.39 L1629.91,1257.83 L1628.72,1257.14 L1627.53,1256.32 L1626.34,1255.37 L1625.16,1254.29 L1623.99,1253.08 L1622.82,1251.76 L1621.67,1250.32 L1620.53,1248.76 L1619.42,1247.1 L1618.33,1245.33 L1617.27,1243.46 L1616.23,1241.5 L1615.23,1239.45 L1614.26,1237.32 L1613.33,1235.11 L1612.44,1232.83 L1611.59,1230.48 L1610.78,1228.07 L1610.03,1225.62 L1609.32,1223.11 L1608.66,1220.57 L1608.06,1218 L1607.51,1215.4 L1607.02,1212.78 L1606.58,1210.16 L1606.2,1207.53 L1605.88,1204.91 L1605.63,1202.3 L1605.43,1199.7 L1605.3,1197.13 L1605.22,1194.6 L1605.21,1192.1 L1605.26,1189.65 L1605.38,1187.26 L1605.55,1184.92 L1605.79,1182.65 L1606.09,1180.45 L1606.44,1178.33 L1606.86,1176.3 L1607.33,1174.35 L1607.86,1172.5 L1608.45,1170.76 L1609.09,1169.11 L1609.78,1167.58 L1610.52,1166.15 L1611.3,1164.85 L1612.14,1163.67 L1613.01,1162.61 L1613.93,1161.68 L1614.89,1160.88 L1615.88,1160.21 L1616.9,1159.68 L1617.96,1159.28 L1619.04,1159.01 L1620.15,1158.89 L1621.27,1158.9 L1622.42,1159.05 L1623.58,1159.34 L1624.75,1159.76 L1625.93,1160.32 L1627.12,1161.01 L1628.31,1161.83 L1629.5,1162.79 L1630.68,1163.87 L1631.86,1165.07 L1633.02,1166.39 L1634.17,1167.84 L1635.31,1169.39 L1636.42,1171.05 L1637.51,1172.82 L1638.58,1174.69 L1639.61,1176.65 L1640.62,1178.7 L1641.58,1180.83 L1642.51,1183.04 L1643.41,1185.33 L1644.25,1187.67 L1645.06,1190.08 L1645.81,1192.54 L1646.52,1195.04 L1647.18,1197.58 L1647.78,1200.15 L1648.33,1202.75 L1648.83,1205.37 L1649.26,1207.99 L1649.64,1210.62 L1649.96,1213.24 L1650.22,1215.86 L1650.41,1218.45 L1650.55,1221.02 L1650.62,1223.55 L1650.63,1226.05 L1650.58,1228.5 L1650.47,1230.89 L1650.29,1233.23 L1650.05,1235.5 L1649.76,1237.7 L1649.4,1239.82 L1648.98,1241.85 L1648.51,1243.8 L1647.98,1245.65 L1647.39,1247.4 L1646.76,1249.04 L1646.07,1250.58 L1645.33,1252 L1644.54,1253.3 L1643.7,1254.48 L1642.83,1255.54 L1641.91,1256.47 L1640.96,1257.27 L1639.96,1257.94 L1638.94,1258.48 L1637.89,1258.88 Z" fill="#BEAED4" fill-opacity="0.2" stroke="#BEAED4" stroke-width="1.8" stroke-dasharray="6.3 6.4"/>
<path d="M1656.3,1168.57 L1660.05,1173.11 L1663.72,1177.7 L1667.3,1182.31 L1670.78,1186.95 L1674.15,1191.59 L1677.41,1196.22 L1680.55,1200.83 L1683.55,1205.42 L1686.41,1209.95 L1689.11,1214.43 L1691.67,1218.84 L1694.05,1223.17 L1696.27,1227.41 L1698.31,1231.54 L1700.17,1235.55 L1701.84,1239.44 L1703.32,1243.19 L1704.6,1246.79 L1705.68,1250.23 L1706.56,1253.51 L1707.24,1256.61 L1707.7,1259.52 L1707.96,1262.24 L1708.01,1264.76 L1707.86,1267.08 L1707.49,1269.18 L1706.92,1271.06 L1706.14,1272.71 L1705.15,1274.14 L1703.97,1275.33 L1702.58,1276.29 L1701.01,1277.01 L1699.24,1277.48 L1697.29,1277.72 L1695.16,1277.71 L1692.85,1277.46 L1690.38,1276.97 L1687.75,1276.23 L1684.96,1275.26 L1682.03,1274.05 L1678.96,1272.61 L1675.76,1270.94 L1672.44,1269.04 L1669.01,1266.93 L1665.48,1264.6 L1661.85,1262.07 L1658.14,1259.34 L1654.36,1256.41 L1650.52,1253.3 L1646.62,1250.01 L1642.69,1246.56 L1638.73,1242.95 L1634.74,1239.19 L1630.75,1235.29 L1626.76,1231.27 L1622.79,1227.13 L1618.84,1222.89 L1614.92,1218.55 L1611.05,1214.14 L1607.24,1209.65 L1603.5,1205.11 L1599.83,1200.53 L1596.25,1195.91 L1592.77,1191.28 L1589.39,1186.64 L1586.13,1182 L1583,1177.39 L1580,1172.81 L1577.14,1168.27 L1574.43,1163.79 L1571.88,1159.38 L1569.49,1155.05 L1567.27,1150.82 L1565.23,1146.69 L1563.38,1142.67 L1561.71,1138.78 L1560.23,1135.03 L1558.94,1131.43 L1557.86,1127.99 L1556.98,1124.71 L1556.31,1121.62 L1555.84,1118.7 L1555.58,1115.98 L1555.53,1113.46 L1555.69,1111.15 L1556.05,1109.05 L1556.63,1107.17 L1557.41,1105.51 L1558.39,1104.09 L1559.58,1102.89 L1560.96,1101.94 L1562.54,1101.22 L1564.3,1100.74 L1566.25,1100.51 L1568.39,1100.51 L1570.69,1100.77 L1573.16,1101.26 L1575.8,1101.99 L1578.58,1102.96 L1581.51,1104.17 L1584.58,1105.61 L1587.78,1107.29 L1591.1,1109.18 L1594.53,1111.29 L1598.07,1113.62 L1601.69,1116.16 L1605.4,1118.89 L1609.18,1121.82 L1613.02,1124.93 L1616.92,1128.21 L1620.85,1131.67 L1624.82,1135.28 L1628.8,1139.04 L1632.79,1142.93 L1636.78,1146.96 L1640.76,1151.09 L1644.71,1155.34 L1648.62,1159.67 L1652.49,1164.09 Z" fill="#FDC086" fill-opacity="0.2" stroke="#FDC086" stroke-width="1.8" stroke-dasharray="6.3 6.4"/>
<path d="M1641.64,939.8 L1647.77,935.82 L1654.32,932.46 L1661.29,929.74 L1668.66,927.66 L1676.4,926.23 L1684.49,925.46 L1692.91,925.34 L1701.64,925.87 L1710.65,927.06 L1719.92,928.9 L1729.43,931.39 L1739.14,934.52 L1749.04,938.27 L1759.08,942.65 L1769.26,947.63 L1779.53,953.21 L1789.87,959.37 L1800.25,966.09 L1810.65,973.36 L1821.03,981.15 L1831.37,989.44 L1841.64,998.21 L1851.8,1007.44 L1861.84,1017.1 L1871.73,1027.16 L1881.43,1037.6 L1890.92,1048.38 L1900.17,1059.49 L1909.17,1070.88 L1917.88,1082.53 L1926.28,1094.41 L1934.35,1106.47 L1942.06,1118.7 L1949.4,1131.05 L1956.35,1143.5 L1962.88,1156 L1968.97,1168.52 L1974.62,1181.04 L1979.8,1193.51 L1984.51,1205.89 L1988.72,1218.17 L1992.43,1230.3 L1995.63,1242.25 L1998.3,1253.99 L2000.45,1265.48 L2002.05,1276.69 L2003.12,1287.6 L2003.65,1298.17 L2003.63,1308.37 L2003.07,1318.18 L2001.97,1327.57 L2000.32,1336.51 L1998.14,1344.98 L1995.44,1352.95 L1992.21,1360.41 L1988.46,1367.34 L1984.22,1373.7 L1979.48,1379.5 L1974.27,1384.7 L1968.59,1389.3 L1962.47,1393.28 L1955.91,1396.64 L1948.94,1399.36 L1941.58,1401.44 L1933.84,1402.87 L1925.75,1403.65 L1917.32,1403.77 L1908.59,1403.23 L1899.58,1402.04 L1890.31,1400.2 L1880.8,1397.71 L1871.09,1394.59 L1861.2,1390.83 L1851.15,1386.45 L1840.98,1381.47 L1830.7,1375.89 L1820.36,1369.73 L1809.98,1363.01 L1799.58,1355.75 L1789.2,1347.96 L1778.86,1339.67 L1768.59,1330.89 L1758.43,1321.67 L1748.39,1312.01 L1738.51,1301.95 L1728.81,1291.51 L1719.32,1280.72 L1710.06,1269.61 L1701.06,1258.22 L1692.35,1246.57 L1683.95,1234.7 L1675.88,1222.63 L1668.17,1210.4 L1660.83,1198.05 L1653.89,1185.61 L1647.36,1173.11 L1641.26,1160.58 L1635.61,1148.07 L1630.43,1135.6 L1625.72,1123.21 L1621.51,1110.93 L1617.8,1098.8 L1614.61,1086.85 L1611.93,1075.12 L1609.79,1063.63 L1608.18,1052.41 L1607.11,1041.51 L1606.58,1030.94 L1606.6,1020.73 L1607.16,1010.92 L1608.27,1001.54 L1609.91,992.59 L1612.09,984.12 L1614.8,976.15 L1618.03,968.69 L1621.77,961.77 L1626.01,955.4 L1630.75,949.61 L1635.96,944.4 Z" fill="#386CB0" fill-opacity="0.2" stroke="#386CB0" stroke-width="1.8" stroke-dasharray="6.3 6.4"/>
<line x1="1612.5" y1="1203.5" x2="1549.5" y2="1174.75" stroke="#BEBEBE" stroke-width="1.1"/>
<line x1="1612.5" y1="1203.5" x2="1615" y2="1178.25" stroke="#BEBEBE" stroke-width="1.1"/>
<line x1="1612.5" y1="1203.5" x2="1589.25" y2="1210.75" stroke="#BEBEBE" stroke-width="1.1"/>
<line x1="1612.5" y1="1203.5" x2="1640.75" y2="1213.5" stroke="#BEBEBE" stroke-width="1.1"/>
<line x1="1612.5" y1="1203.5" x2="1635.25" y2="1220" stroke="#BEBEBE" stroke-width="1.1"/>
<line x1="1612.5" y1="1203.5" x2="1634.5" y2="1228.25" stroke="#BEBEBE" stroke-width="1.1"/>
<line x1="1628.3" y1="1213.8" x2="1623.75" y2="1196.5" stroke="#BEBEBE" stroke-width="1.1"/>
<line x1="1628.3" y1="1213.8" x2="1624.75" y2="1201.75" stroke="#BEBEBE" stroke-width="1.1"/>
<line x1="1628.3" y1="1213.8" x2="1637" y2="1203" stroke="#BEBEBE" stroke-width="1.1"/>
<line x1="1628.3" y1="1213.8" x2="1627.5" y2="1207.75" stroke="#BEBEBE" stroke-width="1.1"/>
<line x1="1628.3" y1="1213.8" x2="1616.75" y2="1221" stroke="#BEBEBE" stroke-width="1.1"/>
<line x1="1628.3" y1="1213.8" x2="1640.25" y2="1253" stroke="#BEBEBE" stroke-width="1.1"/>
<line x1="1625.5" y1="1184.4" x2="1567.75" y2="1124.5" stroke="#BEBEBE" stroke-width="1.1"/>
<line x1="1625.5" y1="1184.4" x2="1625.5" y2="1171.5" stroke="#BEBEBE" stroke-width="1.1"/>
<line x1="1625.5" y1="1184.4" x2="1644.25" y2="1188.5" stroke="#BEBEBE" stroke-width="1.1"/>
<line x1="1625.5" y1="1184.4" x2="1645.25" y2="1194" stroke="#BEBEBE" stroke-width="1.1"/>
<line x1="1625.5" y1="1184.4" x2="1621.75" y2="1208" stroke="#BEBEBE" stroke-width="1.1"/>
<line x1="1625.5" y1="1184.4" x2="1648.5" y2="1220" stroke="#BEBEBE" stroke-width="1.1"/>
<line x1="1805.75" y1="1173.5" x2="1722.5" y2="1083.25" stroke="#BEBEBE" stroke-width="1.1"/>
<line x1="1805.75" y1="1173.5" x2="1759.75" y2="1114.75" stroke="#BEBEBE" stroke-width="1.1"/>
<line x1="1805.75" y1="1173.5" x2="1858.5" y2="1128" stroke="#BEBEBE" stroke-width="1.1"/>
<line x1="1805.75" y1="1173.5" x2="1805.75" y2="1173.5" stroke="#BEBEBE" stroke-width="1.1"/>
<line x1="1805.75" y1="1173.5" x2="1900.5" y2="1255.75" stroke="#BEBEBE" stroke-width="1.1"/>
<line x1="1805.75" y1="1173.5" x2="1789" y2="1299.75" stroke="#BEBEBE" stroke-width="1.1"/>
<rect x="1545.85" y="1171.1" width="7.3" height="7.3" fill="#7FC97F"/>
<rect x="1611.35" y="1174.6" width="7.3" height="7.3" fill="#7FC97F"/>
<rect x="1585.6" y="1207.1" width="7.3" height="7.3" fill="#7FC97F"/>
<rect x="1637.1" y="1209.85" width="7.3" height="7.3" fill="#7FC97F"/>
<rect x="1631.6" y="1216.35" width="7.3" height="7.3" fill="#7FC97F"/>
<rect x="1630.85" y="1224.6" width="7.3" height="7.3" fill="#7FC97F"/>
<circle cx="1623.75" cy="1196.5" r="3.7" fill="#BEAED4"/>
<circle cx="1624.75" cy="1201.75" r="3.7" fill="#BEAED4"/>
<circle cx="1637" cy="1203" r="3.7" fill="#BEAED4"/>
<circle cx="1627.5" cy="1207.75" r="3.7" fill="#BEAED4"/>
<circle cx="1616.75" cy="1221" r="3.7" fill="#BEAED4"/>
<circle cx="1640.25" cy="1253" r="3.7" fill="#BEAED4"/>
<path d="M1567.75,1119.3 L1572.55,1127.4 L1562.95,1127.4 Z" fill="#FDC086"/>
<path d="M1625.5,1166.3 L1630.3,1174.4 L1620.7,1174.4 Z" fill="#FDC086"/>
<path d="M1644.25,1183.3 L1649.05,1191.4 L1639.45,1191.4 Z" fill="#FDC086"/>
<path d="M1645.25,1188.8 L1650.05,1196.9 L1640.45,1196.9 Z" fill="#FDC086"/>
<path d="M1621.75,1202.8 L1626.55,1210.9 L1616.95,1210.9 Z" fill="#FDC086"/>
<path d="M1648.5,1214.8 L1653.3,1222.9 L1643.7,1222.9 Z" fill="#FDC086"/>
<path d="M1722.5,1079.2 L1726.55,1083.25 L1722.5,1087.3 L1718.45,1083.25 Z" fill="#386CB0"/>
<path d="M1759.75,1110.7 L1763.8,1114.75 L1759.75,1118.8 L1755.7,1114.75 Z" fill="#386CB0"/>
<path d="M1858.5,1123.95 L1862.55,1128 L1858.5,1132.05 L1854.45,1128 Z" fill="#386CB0"/>
<path d="M1805.75,1169.45 L1809.8,1173.5 L1805.75,1177.55 L1801.7,1173.5 Z" fill="#386CB0"/>
<path d="M1900.5,1251.7 L1904.55,1255.75 L1900.5,1259.8 L1896.45,1255.75 Z" fill="#386CB0"/>
<path d="M1789,1295.7 L1793.05,1299.75 L1789,1303.8 L1784.95,1299.75 Z" fill="#386CB0"/>
</g>
<rect x="1532" y="998.6" width="386" height="385.7" fill="none" stroke="#5E5E5E" stroke-width="1.35"/>
<line x1="1568" y1="1384.3" x2="1568" y2="1387.8" stroke="#333" stroke-width="1.6"/>
<text x="1568" y="1400.6" font-size="12.2" stroke="#1A1A1A" stroke-width="0.3" text-anchor="middle" fill="#1A1A1A">−1</text>
<line x1="1667.7" y1="1384.3" x2="1667.7" y2="1387.8" stroke="#333" stroke-width="1.6"/>
<text x="1667.7" y="1400.6" font-size="12.2" stroke="#1A1A1A" stroke-width="0.3" text-anchor="middle" fill="#1A1A1A">0</text>
<line x1="1767.3" y1="1384.3" x2="1767.3" y2="1387.8" stroke="#333" stroke-width="1.6"/>
<text x="1767.3" y="1400.6" font-size="12.2" stroke="#1A1A1A" stroke-width="0.3" text-anchor="middle" fill="#1A1A1A">1</text>
<line x1="1867" y1="1384.3" x2="1867" y2="1387.8" stroke="#333" stroke-width="1.6"/>
<text x="1867" y="1400.6" font-size="12.2" stroke="#1A1A1A" stroke-width="0.3" text-anchor="middle" fill="#1A1A1A">2</text>
<line x1="1528.5" y1="1095" x2="1532" y2="1095" stroke="#333" stroke-width="1.6"/>
<text x="1525.5" y="1100" font-size="12.2" stroke="#1A1A1A" stroke-width="0.3" text-anchor="end" fill="#1A1A1A">1</text>
<line x1="1528.5" y1="1195" x2="1532" y2="1195" stroke="#333" stroke-width="1.6"/>
<text x="1525.5" y="1200" font-size="12.2" stroke="#1A1A1A" stroke-width="0.3" text-anchor="end" fill="#1A1A1A">0</text>
<line x1="1528.5" y1="1295" x2="1532" y2="1295" stroke="#333" stroke-width="1.6"/>
<text x="1525.5" y="1300" font-size="12.2" stroke="#1A1A1A" stroke-width="0.3" text-anchor="end" fill="#1A1A1A">−1</text>
<text x="1725" y="1417.3" font-size="14.8" stroke="#000" stroke-width="0.3" text-anchor="middle">MDS1</text>
<text x="1504" y="1191.45" font-size="14.8" stroke="#000" stroke-width="0.3" text-anchor="middle" transform="rotate(-90 1504 1191.45)">MDS2</text>
<text x="1725" y="989.5" font-size="12.4" stroke="#000" stroke-width="0.3" text-anchor="middle">Stress = 0.0926</text>
<text x="1938.5" y="1158" font-size="14.8" stroke="#000" stroke-width="0.3">Group</text>
<rect x="1939.5" y="1168" width="15.6" height="15.6" fill="#7FC97F" fill-opacity="0.2" stroke="#7FC97F" stroke-width="1.8" stroke-dasharray="6.3 6.4"/>
<rect x="1943.65" y="1172.15" width="7.3" height="7.3" fill="#7FC97F"/>
<text x="1964.1" y="1180.91" font-size="14.2" stroke="#000" stroke-width="0.3">WAZ2</text>
<rect x="1939.5" y="1185.5" width="15.6" height="15.6" fill="#BEAED4" fill-opacity="0.2" stroke="#BEAED4" stroke-width="1.8" stroke-dasharray="6.3 6.4"/>
<circle cx="1947.3" cy="1193.3" r="3.7" fill="#BEAED4"/>
<text x="1964.1" y="1198.41" font-size="14.2" stroke="#000" stroke-width="0.3">WBZ2</text>
<rect x="1939.5" y="1203" width="15.6" height="15.6" fill="#FDC086" fill-opacity="0.2" stroke="#FDC086" stroke-width="1.8" stroke-dasharray="6.3 6.4"/>
<path d="M1947.3,1205.6 L1952.1,1213.7 L1942.5,1213.7 Z" fill="#FDC086"/>
<text x="1964.1" y="1215.91" font-size="14.2" stroke="#000" stroke-width="0.3">WCZ2</text>
<rect x="1939.5" y="1220.5" width="15.6" height="15.6" fill="#386CB0" fill-opacity="0.2" stroke="#386CB0" stroke-width="1.8" stroke-dasharray="6.3 6.4"/>
<path d="M1947.3,1224.25 L1951.35,1228.3 L1947.3,1232.35 L1943.25,1228.3 Z" fill="#386CB0"/>
<text x="1964.1" y="1233.41" font-size="14.2" stroke="#000" stroke-width="0.3">WDZ2</text>
</g>
<text x="0.8" y="34" font-size="45.5" font-weight="bold" font-family='"Liberation Serif", "DejaVu Serif", serif'>a</text>
<text x="1025" y="34.8" font-size="44.5" font-weight="bold" font-family='"Liberation Serif", "DejaVu Serif", serif'>b</text>
<text x="34.6" y="1007.6" font-size="45" font-weight="bold" font-family='"Liberation Serif", "DejaVu Serif", serif'>c</text>
<text x="1024.3" y="1007.4" font-size="44" font-weight="bold" font-family='"Liberation Serif", "DejaVu Serif", serif'>d</text>
</svg>
</body>
</html>
